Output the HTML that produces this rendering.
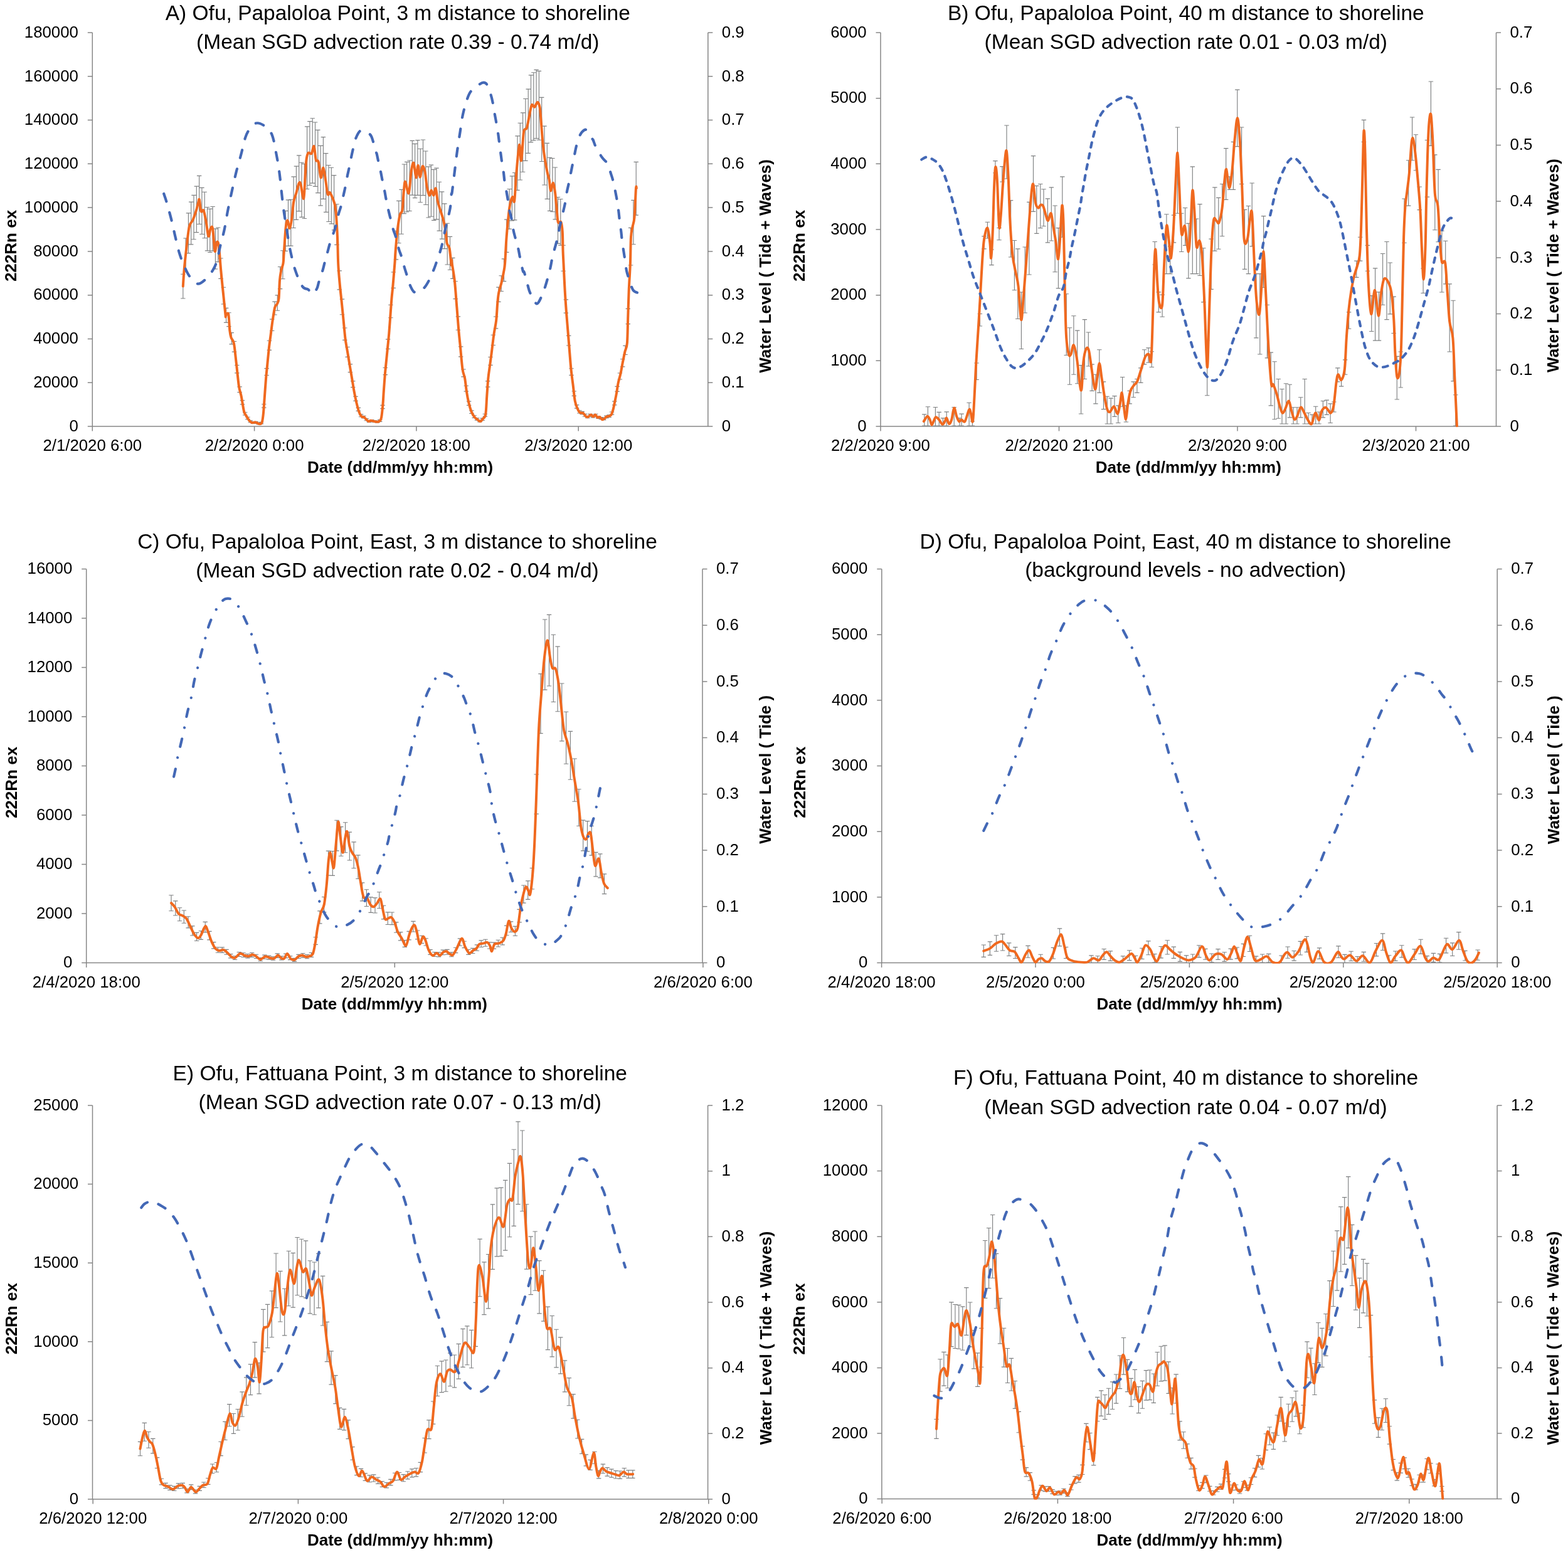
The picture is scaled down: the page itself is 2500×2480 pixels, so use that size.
<!DOCTYPE html><html><head><meta charset="utf-8"><style>html,body{margin:0;padding:0;background:#fff;}svg{display:block;}text{font-family:"Liberation Sans", Arial, sans-serif;fill:#000;}</style></head><body>
<svg xmlns="http://www.w3.org/2000/svg" width="2500" height="2480" viewBox="0 0 2500 2480">
<rect width="2500" height="2480" fill="#fff"/>
<g>
<clipPath id="clipA"><rect x="127.3" y="12.0" width="1021.5" height="669.2"/></clipPath>
<path d="M147.3,52.0V680.0M1128.8,52.0V680.0M147.3,680.0H1128.8M139.8,680.0H147.3M139.8,610.2H147.3M139.8,540.4H147.3M139.8,470.7H147.3M139.8,400.9H147.3M139.8,331.1H147.3M139.8,261.3H147.3M139.8,191.6H147.3M139.8,121.8H147.3M139.8,52.0H147.3M1128.8,680.0H1136.3M1128.8,610.2H1136.3M1128.8,540.4H1136.3M1128.8,470.7H1136.3M1128.8,400.9H1136.3M1128.8,331.1H1136.3M1128.8,261.3H1136.3M1128.8,191.6H1136.3M1128.8,121.8H1136.3M1128.8,52.0H1136.3M147.3,680.0V687.5M405.6,680.0V687.5M663.9,680.0V687.5M922.2,680.0V687.5" stroke="#868686" stroke-width="1.5" fill="none"/>
<g clip-path="url(#clipA)">
<path d="M291.8,437.2V476.0M288.1,437.2H295.5M288.1,476.0H295.5M296.1,380.0V433.7M292.4,380.0H299.8M292.4,433.7H299.8M300.4,339.9V403.8M296.7,339.9H304.1M296.7,403.8H304.1M304.7,322.1V389.8M301.0,322.1H308.4M301.0,389.8H308.4M309.0,311.4V381.7M305.3,311.4H312.7M305.3,381.7H312.7M313.3,297.1V370.6M309.6,297.1H317.0M309.6,370.6H317.0M317.6,280.3V357.5M313.9,280.3H321.3M313.9,357.5H321.3M321.9,299.3V373.5M318.2,299.3H325.6M318.2,373.5H325.6M326.2,306.2V379.7M322.5,306.2H329.9M322.5,379.7H329.9M330.5,330.5V399.8M326.8,330.5H334.2M326.8,399.8H334.2M334.8,333.1V402.5M331.1,333.1H338.5M331.1,402.5H338.5M339.1,329.5V400.1M335.4,329.5H342.8M335.4,400.1H342.8M343.4,364.9V429.0M339.7,364.9H347.1M339.7,429.0H347.1M347.7,363.0V417.6M344.0,363.0H351.4M344.0,417.6H351.4M352.0,412.0V444.3M348.3,412.0H355.7M348.3,444.3H355.7M356.3,458.2V485.0M352.6,458.2H360.0M352.6,485.0H360.0M360.6,491.3V514.3M356.9,491.3H364.3M356.9,514.3H364.3M364.9,498.7V520.6M361.2,498.7H368.6M361.2,520.6H368.6M369.2,530.6V548.9M365.5,530.6H372.9M365.5,548.9H372.9M373.5,544.5V561.1M369.8,544.5H377.2M369.8,561.1H377.2M377.8,582.5V594.9M374.1,582.5H381.5M374.1,594.9H381.5M382.1,616.9V625.6M378.4,616.9H385.8M378.4,625.6H385.8M386.4,638.6V644.9M382.7,638.6H390.1M382.7,644.9H390.1M390.7,657.7V662.0M387.0,657.7H394.4M387.0,662.0H394.4M395.0,665.2V668.6M391.3,665.2H398.7M391.3,668.6H398.7M399.3,670.8V673.7M395.6,670.8H403.0M395.6,673.7H403.0M403.6,672.7V675.3M399.9,672.7H407.3M399.9,675.3H407.3M407.9,672.4V675.1M404.2,672.4H411.6M404.2,675.1H411.6M412.2,674.3V676.7M408.5,674.3H415.9M408.5,676.7H415.9M416.5,673.2V675.8M412.8,673.2H420.2M412.8,675.8H420.2M420.8,644.7V650.1M417.1,644.7H424.5M417.1,650.1H424.5M425.1,587.6V598.5M421.4,587.6H428.8M421.4,598.5H428.8M429.4,543.2V558.4M425.7,543.2H433.1M425.7,558.4H433.1M433.7,509.1V527.5M430.0,509.1H437.4M430.0,527.5H437.4M438.0,481.1V502.0M434.3,481.1H441.7M434.3,502.0H441.7M442.3,470.8V495.2M438.6,470.8H446.0M438.6,495.2H446.0M446.6,425.5V460.6M442.9,425.5H450.3M442.9,460.6H450.3M450.9,399.7V444.7M447.2,399.7H454.6M447.2,444.7H454.6M455.2,336.3V400.3M451.5,336.3H458.9M451.5,400.3H458.9M459.5,318.8V392.3M455.8,318.8H463.2M455.8,392.3H463.2M463.8,318.2V392.1M460.1,318.2H467.5M460.1,392.1H467.5M468.1,281.9V363.5M464.4,281.9H471.8M464.4,363.5H471.8M472.4,265.1V350.3M468.7,265.1H476.1M468.7,350.3H476.1M476.7,247.8V336.9M473.0,247.8H480.4M473.0,336.9H480.4M481.0,259.2V346.4M477.3,259.2H484.7M477.3,346.4H484.7M485.3,261.3V348.5M481.6,261.3H489.0M481.6,348.5H489.0M489.6,201.8V301.5M485.9,201.8H493.3M485.9,301.5H493.3M493.9,193.6V295.5M490.2,193.6H497.6M490.2,295.5H497.6M498.2,188.7V292.1M494.5,188.7H501.9M494.5,292.1H501.9M502.5,195.0V297.4M498.8,195.0H506.2M498.8,297.4H506.2M506.8,207.3V307.6M503.1,207.3H510.5M503.1,307.6H510.5M511.1,232.3V327.8M507.4,232.3H514.8M507.4,327.8H514.8M515.4,218.6V317.4M511.7,218.6H519.1M511.7,317.4H519.1M519.7,244.6V338.3M516.0,244.6H523.4M516.0,338.3H523.4M524.0,263.5V353.5M520.3,263.5H527.7M520.3,353.5H527.7M528.3,267.2V356.8M524.6,267.2H532.0M524.6,356.8H532.0M532.6,279.6V366.9M528.9,279.6H536.3M528.9,366.9H536.3M536.9,325.7V390.3M533.2,325.7H540.6M533.2,390.3H540.6M541.2,431.9V461.8M537.5,431.9H544.9M537.5,461.8H544.9M545.5,477.1V501.7M541.8,477.1H549.2M541.8,501.7H549.2M549.8,523.0V542.3M546.1,523.0H553.5M546.1,542.3H553.5M554.1,553.5V569.3M550.4,553.5H557.8M550.4,569.3H557.8M558.4,580.9V593.6M554.7,580.9H562.1M554.7,593.6H562.1M562.7,607.9V617.6M559.0,607.9H566.4M559.0,617.6H566.4M567.0,632.3V639.3M563.3,632.3H570.7M563.3,639.3H570.7M571.3,650.4V655.4M567.6,650.4H575.0M567.6,655.4H575.0M575.6,660.8V664.7M571.9,660.8H579.3M571.9,664.7H579.3M579.9,663.2V666.9M576.2,663.2H583.6M576.2,666.9H583.6M584.2,667.5V670.7M580.5,667.5H587.9M580.5,670.7H587.9M588.5,670.4V673.3M584.8,670.4H592.2M584.8,673.3H592.2M592.8,669.6V672.6M589.1,669.6H596.5M589.1,672.6H596.5M597.1,670.7V673.5M593.4,670.7H600.8M593.4,673.5H600.8M601.4,671.3V674.0M597.7,671.3H605.1M597.7,674.0H605.1M605.7,669.5V672.4M602.0,669.5H609.4M602.0,672.4H609.4M610.0,646.4V651.6M606.3,646.4H613.7M606.3,651.6H613.7M614.3,586.5V597.6M610.6,586.5H618.0M610.6,597.6H618.0M618.6,541.1V556.5M614.9,541.1H622.3M614.9,556.5H622.3M622.9,486.2V506.7M619.2,486.2H626.6M619.2,506.7H626.6M627.2,434.0V459.4M623.5,434.0H630.9M623.5,459.4H630.9M631.5,368.4V413.8M627.8,368.4H635.2M627.8,413.8H635.2M635.8,320.4V387.7M632.1,320.4H639.5M632.1,387.7H639.5M640.1,302.3V373.2M636.4,302.3H643.8M636.4,373.2H643.8M644.4,262.0V340.6M640.7,262.0H648.1M640.7,340.6H648.1M648.7,258.4V338.0M645.0,258.4H652.4M645.0,338.0H652.4M653.0,256.0V336.5M649.3,256.0H656.7M649.3,336.5H656.7M657.3,224.4V311.1M653.6,224.4H661.0M653.6,311.1H661.0M661.6,229.3V315.6M657.9,229.3H665.3M657.9,315.6H665.3M665.9,223.6V311.3M662.2,223.6H669.6M662.2,311.3H669.6M670.2,237.2V322.7M666.5,237.2H673.9M666.5,322.7H673.9M674.5,223.0V311.6M670.8,223.0H678.2M670.8,311.6H678.2M678.8,241.0V326.5M675.1,241.0H682.5M675.1,326.5H682.5M683.1,265.8V347.0M679.4,265.8H686.8M679.4,347.0H686.8M687.4,263.1V345.2M683.7,263.1H691.1M683.7,345.2H691.1M691.7,270.3V351.3M688.0,270.3H695.4M688.0,351.3H695.4M696.0,268.1V349.9M692.3,268.1H699.7M692.3,349.9H699.7M700.3,290.2V368.1M696.6,290.2H704.0M696.6,368.1H704.0M704.6,305.9V381.1M700.9,305.9H708.3M700.9,381.1H708.3M708.9,324.8V396.6M705.2,324.8H712.6M705.2,396.6H712.6M713.2,356.2V422.0M709.5,356.2H716.9M709.5,422.0H716.9M717.5,377.3V430.2M713.8,377.3H721.2M713.8,430.2H721.2M721.8,411.4V444.4M718.1,411.4H725.5M718.1,444.4H725.5M726.1,448.7V476.6M722.4,448.7H729.8M722.4,476.6H729.8M730.4,504.9V526.2M726.7,504.9H734.1M726.7,526.2H734.1M734.7,552.9V568.8M731.0,552.9H738.4M731.0,568.8H738.4M739.0,589.0V600.8M735.3,589.0H742.7M735.3,600.8H742.7M743.3,615.2V624.1M739.6,615.2H747.0M739.6,624.1H747.0M747.6,640.1V646.3M743.9,640.1H751.3M743.9,646.3H751.3M751.9,654.8V659.4M748.2,654.8H755.6M748.2,659.4H755.6M756.2,662.7V666.4M752.5,662.7H759.9M752.5,666.4H759.9M760.5,666.8V670.1M756.8,666.8H764.2M756.8,670.1H764.2M764.8,670.0V673.0M761.1,670.0H768.5M761.1,673.0H768.5M769.1,667.1V670.3M765.4,667.1H772.8M765.4,670.3H772.8M773.4,660.2V664.1M769.7,660.2H777.1M769.7,664.1H777.1M777.7,607.9V617.1M774.0,607.9H781.4M774.0,617.1H781.4M782.0,569.5V582.4M778.3,569.5H785.7M778.3,582.4H785.7M786.3,534.2V550.5M782.6,534.2H790.0M782.6,550.5H790.0M790.6,505.0V523.9M786.9,505.0H794.3M786.9,523.9H794.3M794.9,458.1V481.4M791.2,458.1H798.6M791.2,481.4H798.6M799.2,439.7V464.5M795.5,439.7H802.9M795.5,464.5H802.9M803.5,412.9V448.6M799.8,412.9H807.2M799.8,448.6H807.2M807.8,350.1V402.3M804.1,350.1H811.5M804.1,402.3H811.5M812.1,301.5V365.1M808.4,301.5H815.8M808.4,365.1H815.8M816.4,280.8V351.8M812.7,280.8H820.1M812.7,351.8H820.1M820.7,275.5V350.9M817.0,275.5H824.4M817.0,350.9H824.4M825.0,216.8V303.4M821.3,216.8H828.7M821.3,303.4H828.7M829.3,196.2V287.0M825.6,196.2H833.0M825.6,287.0H833.0M833.6,179.9V274.2M829.9,179.9H837.3M829.9,274.2H837.3M837.9,157.5V256.4M834.2,157.5H841.6M834.2,256.4H841.6M842.2,142.1V244.4M838.5,142.1H845.9M838.5,244.4H845.9M846.5,119.8V226.8M842.8,119.8H850.2M842.8,226.8H850.2M850.8,115.7V223.9M847.1,115.7H854.5M847.1,223.9H854.5M855.1,111.3V220.9M851.4,111.3H858.8M851.4,220.9H858.8M859.4,113.4V223.2M855.7,113.4H863.1M855.7,223.2H863.1M863.7,155.3V257.5M860.0,155.3H867.4M860.0,257.5H867.4M868.0,201.1V295.0M864.3,201.1H871.7M864.3,295.0H871.7M872.3,228.3V317.4M868.6,228.3H876.0M868.6,317.4H876.0M876.6,251.2V336.3M872.9,251.2H880.3M872.9,336.3H880.3M880.9,252.5V337.7M877.2,252.5H884.6M877.2,337.7H884.6M885.2,267.0V349.8M881.5,267.0H888.9M881.5,349.8H888.9M889.5,314.5V388.3M885.8,314.5H893.2M885.8,388.3H893.2M893.8,317.5V391.1M890.1,317.5H897.5M890.1,391.1H897.5M898.1,391.2V432.2M894.4,391.2H901.8M894.4,432.2H901.8M902.4,477.9V499.1M898.7,477.9H906.1M898.7,499.1H906.1M906.7,535.3V551.0M903.0,535.3H910.4M903.0,551.0H910.4M911.0,587.7V598.4M907.3,587.7H914.7M907.3,598.4H914.7M915.3,624.0V631.3M911.6,624.0H919.0M911.6,631.3H919.0M919.6,645.9V651.1M915.9,645.9H923.3M915.9,651.1H923.3M923.9,654.7V659.0M920.2,654.7H927.6M920.2,659.0H927.6M928.2,656.4V660.6M924.5,656.4H931.9M924.5,660.6H931.9M932.5,660.4V664.2M928.8,660.4H936.2M928.8,664.2H936.2M936.8,663.2V666.7M933.1,663.2H940.5M933.1,666.7H940.5M941.1,660.4V664.2M937.4,660.4H944.8M937.4,664.2H944.8M945.4,662.4V665.9M941.7,662.4H949.1M941.7,665.9H949.1M949.7,660.2V664.0M946.0,660.2H953.4M946.0,664.0H953.4M954.0,663.8V667.3M950.3,663.8H957.7M950.3,667.3H957.7M958.3,665.5V668.7M954.6,665.5H962.0M954.6,668.7H962.0M962.6,666.4V669.6M958.9,666.4H966.3M958.9,669.6H966.3M966.9,663.1V666.6M963.2,663.1H970.6M963.2,666.6H970.6M971.2,661.8V665.5M967.5,661.8H974.9M967.5,665.5H974.9M975.5,657.0V661.1M971.8,657.0H979.2M971.8,661.1H979.2M979.8,640.1V645.8M976.1,640.1H983.5M976.1,645.8H983.5M984.1,616.4V624.3M980.4,616.4H987.8M980.4,624.3H987.8M988.4,595.0V605.0M984.7,595.0H992.1M984.7,605.0H992.1M992.7,572.7V584.8M989.0,572.7H996.4M989.0,584.8H996.4M997.0,551.3V565.5M993.3,551.3H1000.7M993.3,565.5H1000.7M1001.3,492.4V516.6M997.6,492.4H1005.0M997.6,516.6H1005.0M1005.6,363.3V423.0M1001.9,363.3H1009.3M1001.9,423.0H1009.3M1009.9,319.4V389.7M1006.2,319.4H1013.6M1006.2,389.7H1013.6M1014.2,258.3V343.1M1010.5,258.3H1017.9M1010.5,343.1H1017.9" stroke="#7f8182" stroke-width="1.15" fill="none"/>
<path d="M291.8,456.6 C292.1,451.7 292.9,438.4 293.9,427.3 C294.9,416.2 296.6,401.2 297.9,390.1 C299.2,379.0 300.3,367.3 301.9,360.9 C303.4,354.5 305.4,355.5 307.2,351.5 C309.0,347.5 311.0,341.5 312.5,336.9 C314.0,332.2 315.1,326.7 316.0,323.6 C316.9,320.5 317.1,316.1 317.8,318.3 C318.6,320.5 319.4,334.0 320.5,336.9 C321.6,339.8 323.2,332.9 324.5,335.6 C325.8,338.3 327.2,346.0 328.5,352.9 C329.8,359.8 331.2,374.8 332.4,376.8 C333.6,378.8 334.5,366.8 335.6,364.8 C336.7,362.8 337.9,358.8 339.1,364.8 C340.3,370.8 341.5,397.1 342.6,400.7 C343.7,404.2 344.6,387.4 345.7,386.1 C346.8,384.8 347.8,385.0 348.9,392.8 C350.0,400.6 351.1,419.4 352.4,432.7 C353.6,446.0 355.2,460.9 356.4,472.6 C357.6,484.3 359.0,498.0 359.6,503.1 C360.2,508.2 359.2,503.5 360.0,503.1 C360.8,502.8 363.1,497.0 364.2,501.0 C365.2,505.0 365.6,520.8 366.3,527.0 C367.0,533.2 367.4,535.0 368.5,538.3 C369.6,541.6 371.5,541.9 372.7,546.8 C373.9,551.7 374.6,560.2 375.5,567.9 C376.4,575.6 377.4,585.0 378.3,593.2 C379.2,601.4 380.1,610.9 381.1,617.2 C382.2,623.6 383.5,626.1 384.6,631.3 C385.7,636.5 386.7,643.8 387.5,648.2 C388.3,652.7 388.6,655.2 389.6,658.0 C390.7,660.8 392.4,662.9 393.8,665.1 C395.2,667.3 396.6,669.9 398.0,671.4 C399.4,672.9 400.8,673.9 402.3,674.2 C403.8,674.6 405.2,673.1 407.2,673.5 C409.2,673.9 412.4,676.3 414.2,676.3 C415.9,676.3 416.8,676.3 417.7,673.5 C418.6,670.7 419.2,666.4 419.9,659.4 C420.6,652.4 421.3,640.7 422.0,631.3 C422.7,621.9 423.4,611.3 424.1,603.1 C424.8,594.9 425.4,590.2 426.2,582.0 C427.0,573.8 428.1,562.0 429.0,553.8 C429.9,545.6 430.9,539.8 431.8,532.7 C432.7,525.7 433.5,518.5 434.6,511.5 C435.7,504.4 437.0,494.8 438.2,490.4 C439.4,485.9 440.6,487.1 441.7,484.8 C442.8,482.5 443.8,482.4 444.5,476.3 C445.2,470.2 445.3,455.5 445.9,448.2 C446.5,440.9 447.1,437.4 448.0,432.7 C448.9,428.0 450.7,424.9 451.5,420.0 C452.3,415.1 452.0,412.8 452.7,403.5 C453.4,394.2 454.6,372.8 455.5,364.1 C456.4,355.4 457.2,351.4 458.3,351.4 C459.4,351.4 460.8,364.8 462.0,364.1 C463.2,363.4 464.4,354.2 465.4,347.2 C466.4,340.1 467.0,328.4 468.2,321.8 C469.4,315.2 471.0,312.6 472.4,307.7 C473.8,302.8 475.4,294.6 476.6,292.3 C477.8,290.0 478.3,289.9 479.4,293.7 C480.5,297.4 482.2,312.1 483.1,314.8 C484.0,317.5 484.2,319.3 485.0,309.9 C485.8,300.5 487.1,269.1 488.1,258.2 C489.2,247.2 489.9,246.4 491.3,244.2 C492.7,242.0 495.1,246.7 496.7,244.9 C498.2,243.1 499.4,231.5 500.6,233.2 C501.8,234.9 502.6,250.9 503.8,255.1 C505.0,259.3 506.4,253.5 507.7,258.2 C509.0,262.9 510.3,281.7 511.6,283.3 C512.9,284.9 514.2,266.6 515.5,267.6 C516.8,268.6 518.2,282.4 519.4,289.5 C520.6,296.6 521.5,307.0 522.6,309.9 C523.7,312.8 524.4,305.8 525.7,306.8 C527.0,307.9 529.0,312.6 530.4,316.2 C531.8,319.8 533.3,322.7 534.3,328.7 C535.3,334.7 536.0,343.0 536.6,352.1 C537.2,361.2 537.8,372.1 538.2,383.4 C538.6,394.7 538.7,409.2 539.2,420.0 C539.7,430.8 540.3,437.6 541.3,448.2 C542.2,458.8 543.8,472.8 544.9,483.4 C546.0,493.9 546.8,502.1 547.7,511.5 C548.6,520.9 549.5,531.5 550.5,539.7 C551.5,547.9 552.8,553.8 554.0,560.8 C555.2,567.8 556.3,575.0 557.5,582.0 C558.7,589.0 559.9,596.1 561.1,603.1 C562.3,610.1 563.4,617.9 564.6,624.2 C565.8,630.5 566.8,635.7 568.1,641.1 C569.4,646.5 570.9,652.7 572.3,656.6 C573.7,660.5 575.2,663.0 576.5,664.4 C577.8,665.8 578.9,664.4 580.1,665.1 C581.3,665.8 582.3,667.4 583.6,668.6 C584.9,669.8 586.5,671.8 587.8,672.1 C589.1,672.5 589.8,670.7 591.3,670.7 C592.8,670.7 595.1,671.8 597.0,672.1 C598.9,672.5 601.1,673.0 602.6,672.8 C604.1,672.6 605.2,672.0 606.1,670.7 C607.0,669.4 607.5,669.3 608.2,665.1 C608.9,660.9 609.8,652.2 610.4,645.4 C611.0,638.6 611.2,632.4 611.8,624.2 C612.4,616.0 613.2,604.3 613.9,596.1 C614.6,587.9 615.3,582.0 616.0,574.9 C616.7,567.8 617.4,560.8 618.1,553.8 C618.8,546.8 619.5,540.9 620.2,532.7 C620.9,524.5 621.6,513.9 622.3,504.5 C623.0,495.1 623.7,484.5 624.4,476.3 C625.1,468.1 625.7,464.6 626.5,455.2 C627.3,445.8 628.7,428.8 629.4,420.0 C630.1,411.2 629.8,410.9 630.5,402.2 C631.2,393.5 632.4,377.7 633.6,367.8 C634.8,357.9 636.3,348.3 637.6,342.8 C638.9,337.3 640.5,341.2 641.5,334.9 C642.5,328.6 643.0,312.8 643.8,305.2 C644.6,297.6 644.9,289.0 646.2,289.5 C647.5,290.0 650.0,310.9 651.6,308.3 C653.2,305.7 654.3,282.0 655.6,273.9 C656.9,265.8 658.2,258.2 659.5,259.8 C660.8,261.4 662.2,282.7 663.4,283.3 C664.6,283.9 665.5,263.8 666.5,263.7 C667.5,263.6 668.4,282.2 669.6,282.5 C670.8,282.8 672.3,266.7 673.6,265.3 C674.9,263.9 676.3,268.5 677.5,273.9 C678.7,279.2 679.4,291.1 680.6,297.4 C681.8,303.7 683.3,310.5 684.5,311.5 C685.7,312.5 686.4,303.6 687.6,303.6 C688.8,303.6 690.3,312.0 691.5,311.5 C692.7,311.0 693.7,298.9 694.7,300.5 C695.8,302.1 696.5,314.8 697.8,320.8 C699.1,326.8 700.9,331.3 702.5,336.5 C704.1,341.7 705.9,346.9 707.2,352.1 C708.5,357.3 709.4,361.8 710.3,367.8 C711.2,373.8 711.7,383.4 712.7,388.1 C713.8,392.8 715.4,390.2 716.6,396.0 C717.8,401.8 719.1,419.5 719.7,422.6 C720.3,425.7 720.0,415.2 720.1,414.8 C720.2,414.4 719.8,414.4 720.6,420.0 C721.4,425.6 723.6,436.5 724.9,448.2 C726.2,459.9 727.3,477.5 728.4,490.4 C729.5,503.3 730.3,515.0 731.2,525.6 C732.1,536.2 733.0,543.2 734.0,553.8 C735.0,564.4 736.3,580.8 737.5,589.0 C738.7,597.2 740.0,597.2 741.1,603.1 C742.2,609.0 742.9,617.6 743.9,624.2 C744.9,630.8 746.1,637.1 747.4,642.5 C748.7,647.9 750.1,652.8 751.6,656.6 C753.1,660.4 754.9,663.0 756.5,665.1 C758.1,667.2 760.0,668.1 761.5,669.3 C763.0,670.5 764.3,672.3 765.7,672.1 C767.1,671.9 768.5,669.8 769.9,667.9 C771.3,666.0 773.1,666.9 774.2,660.8 C775.3,654.7 775.6,640.9 776.3,631.3 C777.0,621.7 777.6,611.3 778.4,603.1 C779.2,594.9 780.3,589.0 781.2,582.0 C782.1,575.0 783.0,569.0 784.0,560.8 C785.0,552.6 786.3,540.9 787.5,532.7 C788.7,524.5 790.1,519.7 791.1,511.5 C792.1,503.3 792.5,490.9 793.2,483.4 C793.9,475.9 794.2,471.9 795.3,466.5 C796.3,461.1 798.2,456.4 799.5,451.0 C800.8,445.6 802.1,439.3 803.0,434.1 C803.9,428.9 804.3,429.3 805.1,420.0 C805.9,410.7 806.4,393.0 807.6,378.2 C808.8,363.4 810.7,342.0 812.3,331.3 C813.9,320.6 815.7,315.9 817.0,314.1 C818.3,312.3 819.2,326.6 820.2,320.3 C821.2,314.0 822.0,291.4 823.3,276.5 C824.6,261.6 826.7,234.5 828.0,231.1 C829.3,227.7 829.9,259.5 831.1,256.1 C832.3,252.7 833.6,219.4 835.0,210.8 C836.4,202.2 838.4,208.1 839.7,204.5 C841.1,200.9 841.8,195.3 843.1,189.2 C844.4,183.1 846.2,170.8 847.7,167.7 C849.2,164.6 850.8,171.6 852.3,170.8 C853.8,170.0 855.5,163.1 856.9,163.1 C858.3,163.1 859.7,166.3 860.6,170.8 C861.5,175.3 861.6,180.3 862.4,190.0 C863.2,199.7 864.5,218.7 865.5,229.1 C866.5,239.5 867.4,245.0 868.6,252.6 C869.8,260.2 871.4,268.8 872.6,274.5 C873.8,280.2 874.8,282.1 875.7,287.0 C876.6,291.9 877.0,303.4 878.0,304.2 C879.0,305.0 880.8,291.2 882.0,291.7 C883.2,292.2 884.2,300.9 885.1,307.4 C886.0,313.9 886.6,323.0 887.4,330.8 C888.2,338.6 888.6,350.4 889.8,354.3 C891.0,358.2 893.3,351.7 894.5,354.3 C895.7,356.9 896.3,362.2 896.8,370.0 C897.3,377.8 897.3,393.0 897.6,401.3 C897.9,409.6 898.0,409.8 898.5,420.0 C899.0,430.2 899.8,448.2 900.6,462.3 C901.4,476.4 902.4,490.4 903.5,504.5 C904.6,518.6 905.8,532.7 907.0,546.8 C908.2,560.9 909.3,577.3 910.5,589.0 C911.7,600.7 913.0,608.8 914.0,617.2 C915.0,625.7 915.7,634.1 916.8,639.7 C917.9,645.3 919.1,648.0 920.4,651.0 C921.7,654.0 923.1,656.7 924.6,658.0 C926.1,659.3 928.0,657.8 929.5,658.7 C931.0,659.7 932.4,662.6 933.7,663.7 C935.0,664.8 935.9,665.5 937.3,665.1 C938.7,664.7 940.8,661.6 942.2,661.5 C943.6,661.4 944.5,664.4 945.7,664.4 C946.9,664.4 948.0,661.3 949.2,661.5 C950.4,661.7 951.5,665.2 952.7,665.8 C953.9,666.4 955.0,664.5 956.3,665.1 C957.6,665.7 959.2,668.9 960.5,669.3 C961.8,669.6 962.8,668.0 964.0,667.2 C965.2,666.4 966.3,665.0 967.5,664.4 C968.7,663.8 969.9,664.2 971.1,663.7 C972.3,663.2 973.6,663.1 974.6,661.5 C975.6,659.9 976.5,657.2 977.4,653.8 C978.3,650.4 979.3,645.6 980.2,641.1 C981.1,636.6 982.1,632.2 983.0,627.0 C983.9,621.8 984.7,615.2 985.8,610.1 C986.9,605.0 988.2,601.5 989.4,596.1 C990.6,590.7 991.7,583.6 992.9,577.7 C994.1,571.8 995.2,565.9 996.4,560.8 C997.6,555.6 999.1,556.2 999.9,546.8 C1000.7,537.4 1000.8,518.6 1001.3,504.5 C1001.8,490.4 1002.1,476.4 1002.7,462.3 C1003.3,448.2 1004.4,434.1 1004.9,420.0 C1005.4,405.9 1005.4,387.4 1006.0,377.8 C1006.6,368.2 1007.5,367.3 1008.4,362.1 C1009.3,356.9 1010.6,356.7 1011.5,346.5 C1012.4,336.3 1013.4,308.9 1013.9,301.1 C1014.4,293.4 1014.6,300.2 1014.8,300.0" stroke="#F0691F" stroke-width="4.0" fill="none" stroke-linejoin="round" stroke-linecap="round"/>
<path d="M261.2,309.0 C262.0,311.4 263.9,316.3 266.0,323.6 C268.1,330.9 271.7,344.0 273.9,352.9 C276.1,361.8 277.3,368.4 279.3,376.8 C281.3,385.2 283.5,395.4 285.9,403.4 C288.3,411.4 291.0,418.3 293.9,424.7 C296.8,431.1 299.6,437.4 303.2,442.0 C306.8,446.6 311.2,451.9 315.2,452.6 C319.2,453.3 323.1,449.6 327.1,446.0 C331.1,442.4 336.0,436.2 339.1,431.3 C342.2,426.4 343.7,423.1 345.7,416.7 C347.7,410.3 349.1,401.2 351.1,392.8 C353.1,384.4 355.7,375.5 357.7,366.2 C359.7,356.9 361.0,347.1 363.0,336.9 C365.0,326.7 367.5,315.2 369.7,305.0 C371.9,294.8 373.9,285.4 376.3,275.7 C378.7,265.9 381.9,255.8 384.3,246.5 C386.8,237.2 388.8,226.6 391.0,219.9 C393.2,213.2 394.7,210.5 397.6,206.6 C400.5,202.7 404.2,197.5 408.2,196.5 C412.2,195.5 417.3,197.7 421.5,200.7 C425.7,203.7 430.4,207.4 433.5,214.6 C436.6,221.8 438.2,233.6 440.2,243.8 C442.2,254.0 443.6,261.8 445.5,275.7 C447.4,289.6 449.4,312.8 451.3,327.5 C453.2,342.2 455.0,352.4 456.9,364.1 C458.8,375.8 460.1,386.6 462.5,397.9 C464.9,409.2 467.7,421.8 471.0,431.7 C474.3,441.6 478.9,452.0 482.3,457.0 C485.7,462.0 488.6,459.7 491.3,461.7 C494.0,463.7 496.2,469.3 498.5,469.0 C500.8,468.7 503.6,463.4 505.3,460.1 C507.0,456.8 506.9,454.1 508.5,449.2 C510.1,444.2 513.0,436.1 514.7,430.4 C516.4,424.6 517.3,419.6 518.6,414.7 C519.9,409.8 521.3,405.4 522.6,400.7 C523.9,396.0 524.9,391.6 526.5,386.6 C528.1,381.6 530.4,375.6 532.0,370.9 C533.6,366.2 534.6,363.3 535.9,358.4 C537.2,353.4 538.5,346.1 539.8,341.2 C541.1,336.2 542.4,333.6 543.7,328.7 C545.0,323.8 546.4,316.7 547.6,311.5 C548.8,306.3 549.7,302.6 550.7,297.4 C551.8,292.2 552.9,285.4 553.9,280.2 C554.9,275.0 556.0,271.1 557.0,266.1 C558.0,261.1 559.1,255.4 560.1,250.4 C561.1,245.4 561.9,241.5 563.2,236.3 C564.5,231.1 565.8,223.8 567.9,219.1 C570.0,214.4 572.1,209.0 575.8,208.2 C579.5,207.4 586.6,211.3 589.9,214.4 C593.1,217.5 593.6,222.1 595.3,226.9 C597.0,231.7 599.1,240.3 600.0,243.4 C600.9,246.5 600.3,243.5 600.8,245.7 C601.3,247.9 602.1,252.0 603.1,256.7 C604.1,261.4 606.0,268.9 607.0,273.9 C608.0,278.8 608.4,281.2 609.4,286.4 C610.4,291.6 612.3,300.0 613.3,305.2 C614.3,310.4 614.5,312.5 615.6,317.7 C616.7,322.9 618.4,331.3 619.6,336.5 C620.8,341.7 621.5,344.3 622.7,349.0 C623.9,353.7 625.2,359.8 626.6,364.7 C628.0,369.6 629.7,373.2 631.3,378.7 C632.9,384.2 634.6,392.5 636.0,397.5 C637.4,402.5 638.5,403.8 639.9,408.5 C641.3,413.2 643.2,420.8 644.6,425.7 C646.0,430.6 646.9,433.2 648.5,438.2 C650.1,443.1 651.8,450.7 654.0,455.4 C656.2,460.1 658.3,465.6 661.8,466.4 C665.3,467.2 671.6,463.0 675.1,460.1 C678.6,457.2 680.3,453.9 682.9,449.2 C685.5,444.5 688.7,437.0 690.8,432.0 C692.9,427.0 693.8,424.1 695.5,419.4 C697.2,414.7 699.3,408.8 700.9,403.8 C702.5,398.9 703.5,395.7 704.9,389.7 C706.3,383.7 708.3,373.3 709.5,367.8 C710.7,362.3 710.9,361.2 711.9,356.8 C712.9,352.4 714.8,345.9 715.8,341.2 C716.8,336.5 717.6,333.9 718.2,328.7 C718.9,323.5 719.3,313.6 719.7,309.9 C720.1,306.1 720.0,312.0 720.8,306.2 C721.6,300.4 723.4,285.3 724.7,274.9 C726.0,264.5 727.2,254.0 728.6,243.6 C730.0,233.2 731.7,222.5 733.3,212.3 C734.9,202.1 736.0,191.7 738.0,182.6 C740.0,173.5 742.8,163.9 745.0,157.6 C747.2,151.3 748.2,148.8 751.3,145.0 C754.4,141.2 760.5,137.1 763.8,134.9 C767.1,132.7 768.8,131.7 770.9,131.7 C773.0,131.7 774.3,131.6 776.3,134.9 C778.2,138.2 781.0,146.5 782.6,151.3 C784.2,156.1 784.7,158.6 785.7,163.8 C786.8,169.0 788.0,177.4 788.9,182.6 C789.8,187.8 790.3,189.9 791.2,195.1 C792.1,200.3 793.5,208.7 794.3,213.9 C795.1,219.1 795.2,221.5 795.9,226.4 C796.5,231.3 797.5,238.4 798.2,243.6 C798.9,248.8 799.3,252.5 800.1,257.7 C800.9,262.9 802.2,269.7 802.9,274.9 C803.6,280.1 803.7,283.8 804.5,289.0 C805.3,294.2 806.7,301.0 807.6,306.2 C808.5,311.4 809.2,315.3 810.0,320.3 C810.8,325.3 811.4,331.3 812.3,336.0 C813.2,340.7 814.5,343.3 815.5,348.5 C816.5,353.7 817.6,362.1 818.6,367.3 C819.6,372.5 820.4,374.9 821.7,379.8 C823.0,384.8 825.2,392.1 826.4,397.0 C827.6,401.9 827.6,403.6 828.8,409.5 C830.0,415.4 832.6,428.2 833.8,432.3 C835.0,436.4 834.5,430.4 835.8,434.1 C837.0,437.8 839.7,449.0 841.3,454.5 C842.9,460.0 842.9,462.1 845.2,467.0 C847.5,471.9 852.3,483.1 855.3,484.2 C858.3,485.2 861.0,477.5 863.2,473.3 C865.4,469.1 866.9,464.2 868.6,459.2 C870.3,454.2 871.8,448.7 873.3,443.5 C874.8,438.3 876.1,433.1 877.3,427.9 C878.5,422.7 879.2,417.4 880.4,412.2 C881.6,407.0 883.0,401.6 884.3,396.6 C885.6,391.7 887.0,387.5 888.2,382.5 C889.4,377.5 890.2,371.8 891.3,366.8 C892.3,361.9 893.3,358.0 894.5,352.8 C895.7,347.6 897.2,340.7 898.4,335.5 C899.6,330.3 900.6,326.4 901.5,321.5 C902.4,316.6 903.0,310.8 903.9,305.8 C904.8,300.8 906.0,296.6 907.0,291.7 C908.0,286.8 909.1,281.3 910.1,276.1 C911.1,270.9 912.2,265.6 913.2,260.4 C914.2,255.2 915.4,249.8 916.4,244.8 C917.4,239.9 918.1,235.7 919.5,230.7 C920.9,225.7 922.9,218.9 925.0,215.0 C927.1,211.1 930.2,208.2 932.0,207.2 C933.8,206.2 933.7,206.2 935.9,208.8 C938.1,211.4 943.6,220.4 945.3,222.9 C946.9,225.4 944.9,221.5 945.8,223.6 C946.7,225.7 948.1,230.8 950.5,235.4 C952.9,240.0 956.9,246.7 959.9,251.0 C962.9,255.3 966.0,256.5 968.5,261.2 C971.0,265.9 973.1,274.4 974.7,279.2 C976.3,284.0 976.7,285.2 977.9,290.2 C979.1,295.1 980.8,303.7 981.8,308.9 C982.8,314.1 983.3,316.5 984.1,321.5 C984.9,326.5 985.9,333.5 986.5,338.7 C987.1,343.9 987.4,347.6 988.0,352.8 C988.6,358.0 989.8,364.8 990.4,370.0 C991.0,375.2 991.2,379.0 991.9,384.1 C992.5,389.2 993.5,395.3 994.3,400.5 C995.1,405.7 995.8,410.2 996.6,415.4 C997.4,420.6 998.0,426.9 999.0,431.8 C1000.0,436.8 1001.2,440.0 1002.9,445.1 C1004.6,450.2 1006.9,458.7 1009.2,462.3 C1011.6,465.9 1015.0,466.2 1017.0,467.0 C1019.0,467.8 1020.2,467.0 1020.9,467.0 C1021.6,467.0 1021.0,466.8 1021.0,466.8" stroke="#4368B6" stroke-width="4.2" fill="none" stroke-dasharray="13.1,18.1" stroke-linecap="round"/>
</g>
<text x="124.9" y="687.7" text-anchor="end" font-size="25.8">0</text>
<text x="124.9" y="617.9" text-anchor="end" font-size="25.8">20000</text>
<text x="124.9" y="548.1" text-anchor="end" font-size="25.8">40000</text>
<text x="124.9" y="478.4" text-anchor="end" font-size="25.8">60000</text>
<text x="124.9" y="408.6" text-anchor="end" font-size="25.8">80000</text>
<text x="124.9" y="338.8" text-anchor="end" font-size="25.8">100000</text>
<text x="124.9" y="269.0" text-anchor="end" font-size="25.8">120000</text>
<text x="124.9" y="199.3" text-anchor="end" font-size="25.8">140000</text>
<text x="124.9" y="129.5" text-anchor="end" font-size="25.8">160000</text>
<text x="124.9" y="59.7" text-anchor="end" font-size="25.8">180000</text>
<text x="1150.8" y="687.7" font-size="25.8">0</text>
<text x="1150.8" y="617.9" font-size="25.8">0.1</text>
<text x="1150.8" y="548.1" font-size="25.8">0.2</text>
<text x="1150.8" y="478.4" font-size="25.8">0.3</text>
<text x="1150.8" y="408.6" font-size="25.8">0.4</text>
<text x="1150.8" y="338.8" font-size="25.8">0.5</text>
<text x="1150.8" y="269.0" font-size="25.8">0.6</text>
<text x="1150.8" y="199.3" font-size="25.8">0.7</text>
<text x="1150.8" y="129.5" font-size="25.8">0.8</text>
<text x="1150.8" y="59.7" font-size="25.8">0.9</text>
<text x="147.3" y="719.0" text-anchor="middle" font-size="25.8">2/1/2020 6:00</text>
<text x="405.6" y="719.0" text-anchor="middle" font-size="25.8">2/2/2020 0:00</text>
<text x="663.9" y="719.0" text-anchor="middle" font-size="25.8">2/2/2020 18:00</text>
<text x="922.2" y="719.0" text-anchor="middle" font-size="25.8">2/3/2020 12:00</text>
<text x="638.0" y="754.3" text-anchor="middle" font-size="26" font-weight="bold">Date (dd/mm/yy hh:mm)</text>
<text x="634.3" y="32.1" text-anchor="middle" font-size="33.5">A) Ofu, Papaloloa Point, 3 m distance to shoreline</text>
<text x="634.3" y="78.3" text-anchor="middle" font-size="33.5">(Mean SGD advection rate 0.39 - 0.74 m/d)</text>
<text transform="translate(17.3,392.0) rotate(-90)" x="0" y="0" text-anchor="middle" dominant-baseline="central" font-size="26" font-weight="bold">222Rn ex</text>
<text transform="translate(1220.1,424.4) rotate(-90)" x="0" y="0" text-anchor="middle" dominant-baseline="central" font-size="26" font-weight="bold">Water Level ( Tide + Waves)</text>
</g>
<g>
<clipPath id="clipB"><rect x="1384.0" y="12.0" width="1021.5" height="669.2"/></clipPath>
<path d="M1404.0,52.0V680.0M2385.5,52.0V680.0M1404.0,680.0H2385.5M1396.5,680.0H1404.0M1396.5,575.3H1404.0M1396.5,470.7H1404.0M1396.5,366.0H1404.0M1396.5,261.3H1404.0M1396.5,156.7H1404.0M1396.5,52.0H1404.0M2385.5,680.0H2393.0M2385.5,590.3H2393.0M2385.5,500.6H2393.0M2385.5,410.9H2393.0M2385.5,321.1H2393.0M2385.5,231.4H2393.0M2385.5,141.7H2393.0M2385.5,52.0H2393.0M1404.0,680.0V687.5M1688.5,680.0V687.5M1973.0,680.0V687.5M2257.5,680.0V687.5" stroke="#868686" stroke-width="1.5" fill="none"/>
<g clip-path="url(#clipB)">
<path d="M1473.8,660.9V679.0M1470.1,660.9H1477.5M1470.1,679.0H1477.5M1479.4,648.7V679.0M1475.7,648.7H1483.1M1475.7,679.0H1483.1M1491.4,649.5V679.0M1487.7,649.5H1495.1M1487.7,679.0H1495.1M1497.2,657.4V679.0M1493.5,657.4H1500.9M1493.5,679.0H1500.9M1503.4,666.8V679.0M1499.7,666.8H1507.1M1499.7,679.0H1507.1M1509.2,656.9V679.0M1505.5,656.9H1512.9M1505.5,679.0H1512.9M1521.2,649.5V679.0M1517.5,649.5H1524.9M1517.5,679.0H1524.9M1530.0,666.8V679.0M1526.3,666.8H1533.7M1526.3,679.0H1533.7M1533.1,660.1V679.0M1529.4,660.1H1536.8M1529.4,679.0H1536.8M1545.1,642.2V679.0M1541.4,642.2H1548.8M1541.4,679.0H1548.8M1550.4,672.0V679.0M1546.7,672.0H1554.1M1546.7,679.0H1554.1M1557.1,579.0V605.5M1553.4,579.0H1560.8M1553.4,605.5H1560.8M1562.4,500.5V520.0M1558.7,500.5H1566.1M1558.7,520.0H1566.1M1569.0,376.8V396.8M1565.3,376.8H1572.7M1565.3,396.8H1572.7M1574.4,354.2V380.0M1570.7,354.2H1578.1M1570.7,380.0H1578.1M1581.0,398.0V422.6M1577.3,398.0H1584.7M1577.3,422.6H1584.7M1586.9,256.6V275.7M1583.2,256.6H1590.6M1583.2,275.7H1590.6M1593.0,363.5V382.7M1589.3,363.5H1596.7M1589.3,382.7H1596.7M1597.8,265.6V290.0M1594.1,265.6H1601.5M1594.1,290.0H1601.5M1605.0,200.0V285.0M1601.3,200.0H1608.7M1601.3,285.0H1608.7M1611.6,319.6V410.0M1607.9,319.6H1615.3M1607.9,410.0H1615.3M1617.4,383.5V462.7M1613.7,383.5H1621.1M1613.7,462.7H1621.1M1622.8,396.8V508.5M1619.1,396.8H1626.5M1619.1,508.5H1626.5M1628.4,466.0V556.5M1624.7,466.0H1632.1M1624.7,556.5H1632.1M1634.2,394.0V499.0M1630.5,394.0H1637.9M1630.5,499.0H1637.9M1640.9,322.3V438.0M1637.2,322.3H1644.6M1637.2,438.0H1644.6M1647.5,248.6V337.4M1643.8,248.6H1651.2M1643.8,337.4H1651.2M1652.8,296.4V372.3M1649.1,296.4H1656.5M1649.1,372.3H1656.5M1658.8,293.5V363.6M1655.1,293.5H1662.5M1655.1,363.6H1662.5M1664.0,301.7V360.7M1660.3,301.7H1667.7M1660.3,360.7H1667.7M1670.4,316.9V386.9M1666.7,316.9H1674.1M1666.7,386.9H1674.1M1676.3,298.8V384.0M1672.6,298.8H1680.0M1672.6,384.0H1680.0M1682.1,328.0V433.7M1678.4,328.0H1685.8M1678.4,433.7H1685.8M1687.4,363.6V459.9M1683.7,363.6H1691.1M1683.7,459.9H1691.1M1693.8,281.8V378.2M1690.1,281.8H1697.5M1690.1,378.2H1697.5M1700.2,468.7V566.5M1696.5,468.7H1703.9M1696.5,566.5H1703.9M1705.5,522.7V613.2M1701.8,522.7H1709.2M1701.8,613.2H1709.2M1711.9,503.7V597.2M1708.2,503.7H1715.6M1708.2,597.2H1715.6M1717.7,527.1V611.7M1714.0,527.1H1721.4M1714.0,611.7H1721.4M1723.6,582.6V660.0M1719.9,582.6H1727.3M1719.9,660.0H1727.3M1729.4,509.6V604.5M1725.7,509.6H1733.1M1725.7,604.5H1733.1M1735.3,530.0V584.0M1731.6,530.0H1739.0M1731.6,584.0H1739.0M1741.1,581.1V623.4M1737.4,581.1H1744.8M1737.4,623.4H1744.8M1746.9,597.2V643.9M1743.2,597.2H1750.6M1743.2,643.9H1750.6M1752.8,557.7V626.4M1749.1,557.7H1756.5M1749.1,626.4H1756.5M1759.5,608.8V652.6M1755.8,608.8H1763.2M1755.8,652.6H1763.2M1765.3,632.2V676.0M1761.6,632.2H1769.0M1761.6,676.0H1769.0M1771.2,635.1V676.0M1767.5,635.1H1774.9M1767.5,676.0H1774.9M1777.0,631.6V664.3M1773.3,631.6H1780.7M1773.3,664.3H1780.7M1782.8,646.8V674.5M1779.1,646.8H1786.5M1779.1,674.5H1786.5M1789.6,601.5V648.2M1785.9,601.5H1793.3M1785.9,648.2H1793.3M1795.4,646.8V673.0M1791.7,646.8H1799.1M1791.7,673.0H1799.1M1801.2,623.4V643.9M1797.5,623.4H1804.9M1797.5,643.9H1804.9M1807.1,608.8V633.7M1803.4,608.8H1810.8M1803.4,633.7H1810.8M1812.9,604.5V626.4M1809.2,604.5H1816.6M1809.2,626.4H1816.6M1818.8,586.9V610.3M1815.1,586.9H1822.5M1815.1,610.3H1822.5M1824.6,557.7V581.1M1820.9,557.7H1828.3M1820.9,581.1H1828.3M1831.0,554.8V578.2M1827.3,554.8H1834.7M1827.3,578.2H1834.7M1836.3,560.7V585.5M1832.6,560.7H1840.0M1832.6,585.5H1840.0M1841.2,385.5V422.0M1837.5,385.5H1844.9M1837.5,422.0H1844.9M1847.3,465.8V497.9M1843.6,465.8H1851.0M1843.6,497.9H1851.0M1853.1,470.1V505.2M1849.4,470.1H1856.8M1849.4,505.2H1856.8M1859.9,341.7V436.6M1856.2,341.7H1863.6M1856.2,436.6H1863.6M1865.7,392.8V436.6M1862.0,392.8H1869.4M1862.0,436.6H1869.4M1871.5,343.1V386.9M1867.8,343.1H1875.2M1867.8,386.9H1875.2M1877.4,203.0V340.2M1873.7,203.0H1881.1M1873.7,340.2H1881.1M1883.8,340.2V401.5M1880.1,340.2H1887.5M1880.1,401.5H1887.5M1889.6,331.5V391.3M1885.9,331.5H1893.3M1885.9,391.3H1893.3M1894.9,356.3V443.9M1891.2,356.3H1898.6M1891.2,443.9H1898.6M1901.3,265.8V436.6M1897.6,265.8H1905.0M1897.6,436.6H1905.0M1907.7,349.0V436.6M1904.0,349.0H1911.4M1904.0,436.6H1911.4M1913.0,325.6V439.5M1909.3,325.6H1916.7M1909.3,439.5H1916.7M1918.8,395.7V481.8M1915.1,395.7H1922.5M1915.1,481.8H1922.5M1924.7,543.1V630.7M1921.0,543.1H1928.4M1921.0,630.7H1928.4M1931.1,381.1V461.4M1927.4,381.1H1934.8M1927.4,461.4H1934.8M1936.9,298.8V400.1M1933.2,298.8H1940.6M1933.2,400.1H1940.6M1942.8,315.4V397.2M1939.1,315.4H1946.5M1939.1,397.2H1946.5M1948.6,293.5V376.7M1944.9,293.5H1952.3M1944.9,376.7H1952.3M1954.7,236.6V318.3M1951.0,236.6H1958.4M1951.0,318.3H1958.4M1960.6,281.8V302.3M1956.9,281.8H1964.3M1956.9,302.3H1964.3M1966.4,226.4V302.3M1962.7,226.4H1970.1M1962.7,302.3H1970.1M1972.8,143.1V233.6M1969.1,143.1H1976.5M1969.1,233.6H1976.5M1979.6,203.0V293.5M1975.9,203.0H1983.3M1975.9,293.5H1983.3M1984.5,334.4V429.3M1980.8,334.4H1988.2M1980.8,429.3H1988.2M1990.4,328.5V436.6M1986.7,328.5H1994.1M1986.7,436.6H1994.1M1996.2,292.0V392.8M1992.5,292.0H1999.9M1992.5,392.8H1999.9M2002.9,436.6V538.8M1999.2,436.6H2006.6M1999.2,538.8H2006.6M2008.8,436.6V565.0M2005.1,436.6H2012.5M2005.1,565.0H2012.5M2014.6,344.6V458.5M2010.9,344.6H2018.3M2010.9,458.5H2018.3M2020.4,486.2V570.9M2016.7,486.2H2024.1M2016.7,570.9H2024.1M2026.3,562.1V646.8M2022.6,562.1H2030.0M2022.6,646.8H2030.0M2032.1,576.7V668.7M2028.4,576.7H2035.8M2028.4,668.7H2035.8M2038.2,604.5V667.2M2034.5,604.5H2041.9M2034.5,667.2H2041.9M2044.0,620.5V676.0M2040.3,620.5H2047.7M2040.3,676.0H2047.7M2050.4,611.7V676.0M2046.7,611.7H2054.1M2046.7,676.0H2054.1M2056.3,613.2V665.8M2052.6,613.2H2060.0M2052.6,665.8H2060.0M2062.1,649.7V676.0M2058.4,649.7H2065.8M2058.4,676.0H2065.8M2068.0,649.7V676.0M2064.3,649.7H2071.7M2064.3,676.0H2071.7M2073.8,633.7V665.8M2070.1,633.7H2077.5M2070.1,665.8H2077.5M2080.2,604.5V676.0M2076.5,604.5H2083.9M2076.5,676.0H2083.9M2086.1,658.5V676.0M2082.4,658.5H2089.8M2082.4,676.0H2089.8M2091.9,661.4V676.0M2088.2,661.4H2095.6M2088.2,676.0H2095.6M2097.7,648.2V676.0M2094.0,648.2H2101.4M2094.0,676.0H2101.4M2103.0,657.0V676.0M2099.3,657.0H2106.7M2099.3,676.0H2106.7M2109.4,639.5V665.8M2105.7,639.5H2113.1M2105.7,665.8H2113.1M2115.3,638.1V661.4M2111.6,638.1H2119.0M2111.6,661.4H2119.0M2121.1,643.9V674.5M2117.4,643.9H2124.8M2117.4,674.5H2124.8M2126.9,641.0V657.0M2123.2,641.0H2130.6M2123.2,657.0H2130.6M2132.8,586.9V608.8M2129.1,586.9H2136.5M2129.1,608.8H2136.5M2138.6,603.0V616.1M2134.9,603.0H2142.3M2134.9,616.1H2142.3M2144.7,573.8V597.2M2141.0,573.8H2148.4M2141.0,597.2H2148.4M2150.6,497.9V524.2M2146.9,497.9H2154.3M2146.9,524.2H2154.3M2156.4,442.4V465.8M2152.7,442.4H2160.1M2152.7,465.8H2160.1M2162.8,416.1V442.4M2159.1,416.1H2166.5M2159.1,442.4H2166.5M2168.7,378.2V416.1M2165.0,378.2H2172.4M2165.0,416.1H2172.4M2174.5,191.3V226.4M2170.8,191.3H2178.2M2170.8,226.4H2178.2M2180.4,391.3V432.2M2176.7,391.3H2184.1M2176.7,432.2H2184.1M2186.8,471.6V528.5M2183.1,471.6H2190.5M2183.1,528.5H2190.5M2192.6,427.8V543.1M2188.9,427.8H2196.3M2188.9,543.1H2196.3M2198.5,465.8V543.1M2194.8,465.8H2202.2M2194.8,543.1H2202.2M2204.6,404.5V486.2M2200.9,404.5H2208.3M2200.9,486.2H2208.3M2211.0,385.5V509.6M2207.3,385.5H2214.7M2207.3,509.6H2214.7M2216.3,419.0V500.8M2212.6,419.0H2220.0M2212.6,500.8H2220.0M2222.1,473.1V531.5M2218.4,473.1H2225.8M2218.4,531.5H2225.8M2227.3,568.3V637.0M2223.6,568.3H2231.0M2223.6,637.0H2231.0M2233.2,561.0V618.0M2229.5,561.0H2236.9M2229.5,618.0H2236.9M2239.0,317.0V387.2M2235.3,317.0H2242.7M2235.3,387.2H2242.7M2245.7,255.7V328.1M2242.0,255.7H2249.4M2242.0,328.1H2249.4M2251.6,187.0V255.7M2247.9,187.0H2255.3M2247.9,255.7H2255.3M2257.4,214.7V271.7M2253.7,214.7H2261.1M2253.7,271.7H2261.1M2263.2,298.0V334.6M2259.5,298.0H2266.9M2259.5,334.6H2266.9M2269.1,428.1V467.5M2265.4,428.1H2272.8M2265.4,467.5H2272.8M2275.5,223.5V314.1M2271.8,223.5H2279.2M2271.8,314.1H2279.2M2281.4,130.0V232.3M2277.7,130.0H2285.1M2277.7,232.3H2285.1M2287.8,246.9V366.7M2284.1,246.9H2291.5M2284.1,366.7H2291.5M2293.1,270.3V385.7M2289.4,270.3H2296.8M2289.4,385.7H2296.8M2298.9,368.2V466.0M2295.2,368.2H2302.6M2295.2,466.0H2302.6M2304.7,384.2V452.9M2301.0,384.2H2308.4M2301.0,452.9H2308.4M2311.2,452.9V561.0M2307.5,452.9H2314.9M2307.5,561.0H2314.9M2317.0,479.2V607.8M2313.3,479.2H2320.7M2313.3,607.8H2320.7M2320.8,629.7V679.0M2317.1,629.7H2324.5M2317.1,679.0H2324.5" stroke="#7f8182" stroke-width="1.15" fill="none"/>
<path d="M1472.8,672.0 C1473.8,670.7 1477.0,664.4 1478.6,664.0 C1480.2,663.6 1481.5,667.2 1482.6,669.4 C1483.7,671.6 1484.4,676.6 1485.3,677.3 C1486.2,678.0 1486.8,675.4 1487.9,673.4 C1489.0,671.4 1490.4,666.1 1491.9,665.4 C1493.5,664.7 1495.4,667.5 1497.2,669.4 C1499.0,671.3 1501.0,676.4 1502.6,676.8 C1504.1,677.2 1505.4,673.7 1506.5,672.0 C1507.6,670.3 1508.1,666.0 1509.2,666.7 C1510.3,667.4 1511.9,675.5 1513.2,676.0 C1514.5,676.5 1515.9,673.6 1517.2,669.4 C1518.5,665.2 1519.9,651.6 1521.2,650.7 C1522.5,649.8 1523.9,660.5 1525.2,664.0 C1526.5,667.5 1527.8,671.1 1529.1,672.0 C1530.4,672.9 1531.5,669.4 1533.1,669.4 C1534.7,669.4 1536.5,674.7 1538.5,672.0 C1540.5,669.3 1543.5,655.6 1545.1,653.4 C1546.6,651.2 1546.8,655.6 1547.8,658.7 C1548.8,661.8 1550.0,676.4 1551.0,672.0 C1552.0,667.6 1552.7,647.6 1553.6,632.1 C1554.5,616.6 1555.3,596.6 1556.3,578.9 C1557.3,561.2 1558.6,543.4 1559.7,525.7 C1560.8,508.0 1561.9,490.3 1562.9,472.6 C1563.9,454.9 1564.9,434.5 1565.9,419.4 C1566.9,404.3 1567.6,391.4 1569.0,382.1 C1570.4,372.8 1572.8,362.6 1574.4,363.5 C1576.0,364.4 1577.4,379.4 1578.4,387.4 C1579.4,395.4 1579.5,414.9 1580.2,411.4 C1581.0,407.9 1582.1,384.8 1582.9,366.2 C1583.7,347.6 1584.3,316.3 1585.0,299.7 C1585.7,283.1 1586.3,268.6 1587.1,266.4 C1587.9,264.2 1588.8,270.6 1589.8,286.4 C1590.8,302.1 1592.0,351.1 1593.0,360.9 C1594.0,370.6 1594.6,355.5 1595.6,344.9 C1596.6,334.2 1597.7,312.1 1598.8,297.0 C1599.9,281.9 1601.3,263.8 1602.3,254.5 C1603.3,245.2 1604.0,236.8 1604.9,241.2 C1605.8,245.6 1606.7,262.9 1607.6,281.1 C1608.5,299.3 1609.2,329.4 1610.3,350.2 C1611.4,371.0 1612.8,391.9 1614.3,406.1 C1615.8,420.3 1618.0,426.9 1619.6,435.3 C1621.1,443.7 1622.2,444.2 1623.6,456.6 C1625.0,469.0 1626.8,506.2 1628.1,509.8 C1629.4,513.4 1630.3,491.6 1631.5,477.9 C1632.7,464.1 1633.9,448.1 1635.5,427.3 C1637.1,406.5 1639.4,373.3 1640.9,352.9 C1642.5,332.5 1643.7,314.8 1644.8,305.0 C1645.9,295.2 1646.5,291.3 1647.5,294.4 C1648.5,297.5 1649.7,317.4 1651.0,323.6 C1652.3,329.8 1654.2,331.0 1655.5,331.6 C1656.8,332.2 1657.7,327.5 1659.0,327.0 C1660.3,326.5 1661.7,325.8 1663.1,328.5 C1664.5,331.2 1666.2,339.2 1667.5,343.1 C1668.8,347.0 1669.6,352.4 1671.0,351.9 C1672.4,351.4 1674.3,338.7 1675.7,340.2 C1677.1,341.7 1677.9,352.9 1679.2,360.7 C1680.5,368.5 1682.3,378.1 1683.6,386.9 C1684.9,395.6 1686.0,414.6 1687.1,413.2 C1688.2,411.8 1689.3,392.3 1690.3,378.2 C1691.3,364.1 1692.4,333.4 1693.2,328.5 C1694.0,323.6 1694.7,335.9 1695.3,349.0 C1695.9,362.1 1696.2,385.5 1696.7,407.4 C1697.2,429.3 1697.6,458.5 1698.2,480.4 C1698.8,502.3 1699.2,524.7 1700.2,538.8 C1701.2,552.9 1702.8,560.6 1704.0,565.0 C1705.2,569.4 1706.2,567.4 1707.5,565.0 C1708.8,562.6 1710.3,548.9 1711.9,550.4 C1713.5,551.9 1715.6,563.6 1717.2,573.8 C1718.8,584.0 1720.3,603.9 1721.5,611.7 C1722.7,619.5 1723.5,626.3 1724.5,620.5 C1725.5,614.7 1726.2,587.4 1727.4,576.7 C1728.6,566.0 1730.3,559.2 1731.8,556.3 C1733.2,553.4 1734.6,553.9 1736.1,559.2 C1737.5,564.6 1738.9,578.2 1740.5,588.4 C1742.1,598.6 1744.3,618.1 1745.8,620.5 C1747.3,622.9 1748.1,609.8 1749.3,603.0 C1750.5,596.2 1751.6,579.6 1752.8,579.6 C1754.0,579.6 1755.2,594.2 1756.6,603.0 C1758.0,611.8 1759.5,623.9 1761.0,632.2 C1762.5,640.5 1763.8,648.5 1765.3,652.6 C1766.8,656.7 1767.9,657.7 1769.7,657.0 C1771.5,656.3 1774.0,647.7 1776.1,648.2 C1778.1,648.7 1780.4,660.6 1782.0,659.9 C1783.6,659.2 1784.7,649.5 1785.8,643.9 C1786.9,638.3 1787.7,625.9 1788.7,626.4 C1789.7,626.9 1790.5,639.8 1791.6,646.8 C1792.7,653.8 1794.0,669.2 1795.1,668.7 C1796.2,668.2 1797.1,651.5 1798.3,643.9 C1799.5,636.3 1800.8,628.3 1802.4,623.4 C1804.0,618.5 1806.0,617.1 1807.7,614.7 C1809.5,612.3 1811.2,612.2 1812.9,608.8 C1814.6,605.4 1816.3,599.1 1817.9,594.2 C1819.5,589.3 1820.8,584.0 1822.3,579.6 C1823.8,575.2 1825.0,570.4 1826.6,568.0 C1828.1,565.6 1830.1,564.0 1831.6,565.0 C1833.1,566.0 1834.3,585.5 1835.4,573.8 C1836.5,562.1 1837.5,520.3 1838.3,495.0 C1839.1,469.7 1839.7,438.1 1840.4,422.0 C1841.1,405.9 1841.7,393.7 1842.5,398.6 C1843.3,403.5 1844.3,437.1 1845.3,451.2 C1846.2,465.3 1846.9,477.5 1848.2,483.3 C1849.5,489.1 1851.8,496.4 1853.1,486.2 C1854.4,476.0 1855.0,442.9 1856.1,422.0 C1857.2,401.1 1858.7,367.5 1859.9,360.7 C1861.1,353.9 1862.2,372.6 1863.4,381.1 C1864.6,389.6 1865.7,413.8 1866.9,411.8 C1868.1,409.9 1869.4,389.6 1870.7,369.4 C1872.0,349.2 1873.4,311.5 1874.5,290.6 C1875.6,269.7 1876.4,242.5 1877.4,243.9 C1878.4,245.3 1879.2,277.9 1880.3,299.3 C1881.4,320.7 1882.3,362.1 1883.8,372.3 C1885.3,382.5 1887.2,355.8 1889.1,360.7 C1890.9,365.6 1893.4,402.0 1894.9,401.5 C1896.5,401.0 1897.3,374.0 1898.4,357.7 C1899.5,341.4 1900.3,307.6 1901.3,303.7 C1902.3,299.8 1903.1,319.5 1904.2,334.4 C1905.3,349.2 1906.3,384.5 1907.7,392.8 C1909.1,401.1 1910.9,381.6 1912.4,384.0 C1913.9,386.4 1915.2,391.3 1916.5,407.4 C1917.8,423.5 1918.9,450.7 1920.3,480.4 C1921.7,510.1 1923.5,580.6 1924.7,585.5 C1925.9,590.4 1926.5,539.3 1927.6,509.6 C1928.7,479.9 1929.9,433.7 1931.1,407.4 C1932.3,381.1 1933.5,361.1 1934.9,351.9 C1936.3,342.6 1937.8,351.4 1939.3,351.9 C1940.8,352.4 1942.0,358.2 1943.6,354.8 C1945.1,351.4 1947.1,342.7 1948.6,331.5 C1950.1,320.3 1951.3,297.9 1952.4,287.7 C1953.5,277.5 1954.1,268.2 1955.3,270.1 C1956.5,272.0 1958.2,298.3 1959.7,299.3 C1961.2,300.3 1962.6,288.6 1964.1,276.0 C1965.6,263.4 1967.0,238.0 1968.5,223.4 C1970.0,208.8 1971.5,188.9 1972.8,188.4 C1974.1,187.9 1975.4,203.0 1976.6,220.5 C1977.8,238.0 1978.9,266.7 1980.1,293.5 C1981.3,320.3 1982.1,366.5 1983.6,381.1 C1985.1,395.7 1987.4,386.0 1988.9,381.1 C1990.4,376.2 1991.5,358.7 1992.7,351.9 C1993.9,345.1 1995.0,328.5 1996.2,340.2 C1997.4,351.9 1998.8,398.6 2000.0,422.0 C2001.2,445.4 2002.2,467.3 2003.5,480.4 C2004.8,493.5 2006.5,505.7 2007.9,500.8 C2009.3,495.9 2010.6,467.8 2011.7,451.2 C2012.8,434.6 2013.5,399.1 2014.6,401.5 C2015.7,403.9 2016.8,440.5 2018.1,465.8 C2019.4,491.1 2021.0,529.1 2022.5,553.4 C2024.0,577.7 2025.7,601.7 2026.9,611.7 C2028.2,621.7 2028.5,610.3 2030.0,613.2 C2031.5,616.1 2034.1,623.7 2035.8,629.3 C2037.5,634.9 2038.7,641.9 2040.2,646.8 C2041.7,651.7 2043.1,657.5 2044.6,658.5 C2046.1,659.5 2047.3,655.8 2049.0,652.6 C2050.7,649.4 2053.1,639.0 2054.8,639.5 C2056.5,640.0 2057.7,650.6 2059.2,655.5 C2060.7,660.4 2062.1,667.2 2063.6,668.7 C2065.1,670.2 2066.3,667.5 2068.0,664.3 C2069.7,661.1 2071.9,650.7 2073.8,649.7 C2075.7,648.7 2077.7,655.1 2079.6,658.5 C2081.5,661.9 2083.6,667.2 2085.5,670.1 C2087.4,673.0 2089.4,677.9 2091.3,676.0 C2093.2,674.1 2095.2,659.5 2097.2,658.5 C2099.1,657.5 2101.3,670.6 2103.0,670.1 C2104.7,669.6 2105.7,658.9 2107.4,655.5 C2109.1,652.1 2111.5,649.9 2113.2,649.7 C2114.9,649.5 2116.1,652.6 2117.6,654.1 C2119.1,655.6 2120.5,659.7 2122.0,658.5 C2123.5,657.3 2125.0,655.1 2126.4,646.8 C2127.8,638.5 2129.5,617.1 2130.7,608.8 C2131.9,600.5 2132.3,597.7 2133.6,597.2 C2134.9,596.7 2136.9,607.4 2138.6,605.9 C2140.3,604.4 2142.5,599.6 2143.9,588.4 C2145.3,577.2 2145.7,554.4 2146.8,538.8 C2147.9,523.2 2149.1,507.2 2150.3,495.0 C2151.5,482.8 2152.7,474.6 2154.1,465.8 C2155.5,457.0 2156.9,449.2 2158.5,442.4 C2160.1,435.6 2162.1,430.7 2163.7,424.9 C2165.2,419.1 2166.7,417.6 2167.8,407.4 C2168.9,397.2 2169.3,385.5 2170.1,363.6 C2170.9,341.7 2171.8,301.8 2172.5,276.0 C2173.2,250.2 2173.8,213.7 2174.5,208.8 C2175.2,203.9 2175.9,221.0 2176.6,246.8 C2177.3,272.6 2178.0,329.5 2178.9,363.6 C2179.8,397.7 2180.6,428.3 2181.8,451.2 C2183.0,474.1 2184.5,498.9 2186.2,500.8 C2187.9,502.7 2190.1,462.3 2192.0,462.8 C2193.9,463.3 2196.2,503.2 2197.9,503.7 C2199.6,504.2 2200.9,475.5 2202.3,465.8 C2203.8,456.1 2204.9,448.2 2206.6,445.3 C2208.3,442.4 2210.6,444.8 2212.5,448.2 C2214.4,451.6 2216.7,455.5 2218.3,465.8 C2219.9,476.1 2221.3,493.8 2222.3,509.9 C2223.3,526.0 2223.6,547.4 2224.4,562.5 C2225.2,577.6 2226.2,595.1 2227.3,600.5 C2228.4,605.9 2230.0,602.4 2231.1,594.6 C2232.2,586.8 2233.2,575.1 2234.0,553.7 C2234.8,532.3 2235.4,495.2 2236.1,466.0 C2236.8,436.8 2237.4,401.3 2238.1,378.4 C2238.8,355.5 2239.6,340.9 2240.5,328.7 C2241.4,316.5 2242.3,314.1 2243.4,305.3 C2244.5,296.5 2245.7,289.2 2246.9,276.1 C2248.1,263.0 2249.6,235.2 2250.7,226.4 C2251.8,217.6 2252.5,219.1 2253.6,223.5 C2254.7,227.9 2256.2,241.5 2257.4,252.7 C2258.6,263.9 2259.7,277.0 2260.9,290.7 C2262.1,304.4 2263.4,317.6 2264.4,334.6 C2265.4,351.7 2265.9,374.5 2266.8,393.0 C2267.7,411.5 2268.7,445.6 2269.7,445.6 C2270.7,445.6 2271.9,413.9 2272.6,393.0 C2273.3,372.1 2273.5,344.2 2274.1,319.9 C2274.7,295.5 2275.4,267.4 2276.1,246.9 C2276.8,226.5 2277.5,207.9 2278.4,197.2 C2279.3,186.5 2280.4,178.2 2281.4,182.6 C2282.4,187.0 2283.2,202.6 2284.3,223.5 C2285.4,244.4 2286.4,290.8 2287.8,308.3 C2289.2,325.8 2291.1,315.6 2292.5,328.7 C2293.9,341.8 2294.9,372.3 2296.0,387.2 C2297.1,402.1 2297.5,412.4 2298.9,417.8 C2300.3,423.2 2302.7,411.3 2304.2,419.3 C2305.7,427.3 2306.5,450.4 2307.7,466.0 C2308.9,481.6 2309.8,500.6 2311.2,512.8 C2312.6,525.0 2315.0,524.0 2316.4,539.1 C2317.8,554.2 2318.3,580.0 2319.4,603.4 C2320.5,626.8 2322.3,666.7 2322.9,679.4" stroke="#F0691F" stroke-width="4.0" fill="none" stroke-linejoin="round" stroke-linecap="round"/>
<path d="M1469.3,254.5 C1470.6,253.8 1474.4,250.6 1477.3,250.5 C1480.2,250.4 1483.7,252.3 1486.6,253.9 C1489.5,255.5 1491.9,256.8 1494.6,259.8 C1497.3,262.8 1500.2,266.9 1502.6,271.8 C1505.0,276.7 1507.0,282.6 1509.2,289.0 C1511.4,295.4 1513.7,302.8 1515.9,310.3 C1518.1,317.9 1520.3,325.9 1522.5,334.3 C1524.7,342.7 1526.9,352.0 1529.1,360.9 C1531.3,369.8 1533.3,378.5 1535.8,387.4 C1538.2,396.2 1541.1,405.1 1543.8,414.0 C1546.5,422.9 1548.9,432.2 1551.8,440.6 C1554.7,449.0 1558.0,456.6 1561.1,464.6 C1564.2,472.6 1567.3,480.5 1570.4,488.5 C1573.5,496.5 1576.8,504.9 1579.7,512.4 C1582.6,519.9 1585.1,526.6 1587.7,533.7 C1590.3,540.8 1592.9,548.8 1595.6,555.0 C1598.2,561.2 1600.7,566.1 1603.6,571.0 C1606.5,575.9 1610.0,581.6 1612.9,584.3 C1615.8,586.9 1618.0,587.1 1620.9,586.9 C1623.8,586.7 1626.9,585.1 1630.2,582.9 C1633.5,580.7 1637.6,576.9 1640.9,573.6 C1644.2,570.3 1647.5,566.9 1650.2,563.0 C1652.9,559.1 1654.7,555.4 1657.3,550.4 C1659.9,545.4 1663.4,538.7 1666.1,532.9 C1668.8,527.1 1671.0,521.7 1673.4,515.4 C1675.8,509.1 1678.3,502.3 1680.7,495.0 C1683.1,487.7 1685.5,477.9 1688.0,471.6 C1690.5,465.3 1693.8,463.5 1695.8,457.2 C1697.8,450.9 1698.5,441.0 1700.0,433.8 C1701.5,426.6 1703.6,420.2 1705.0,413.8 C1706.4,407.4 1707.2,401.5 1708.4,395.4 C1709.7,389.3 1711.2,382.9 1712.5,377.1 C1713.8,371.3 1714.8,366.0 1715.9,360.4 C1717.0,354.8 1718.1,349.3 1719.2,343.7 C1720.3,338.1 1721.6,332.6 1722.6,327.0 C1723.6,321.4 1724.2,315.9 1725.1,310.3 C1726.0,304.7 1727.1,299.2 1728.1,293.6 C1729.1,288.0 1729.9,282.5 1730.9,276.9 C1731.9,271.3 1733.1,265.8 1734.2,260.2 C1735.3,254.6 1736.5,249.1 1737.6,243.5 C1738.7,237.9 1739.7,232.4 1740.9,226.8 C1742.2,221.2 1743.6,215.7 1745.1,210.1 C1746.6,204.5 1748.1,198.4 1750.1,193.4 C1752.0,188.4 1754.0,184.1 1756.8,180.1 C1759.6,176.1 1762.9,172.5 1766.8,169.2 C1770.7,165.8 1776.0,162.4 1780.2,160.0 C1784.4,157.6 1788.5,155.8 1791.8,155.0 C1795.1,154.2 1797.7,154.2 1800.2,155.0 C1802.7,155.8 1804.4,155.9 1806.9,160.0 C1809.4,164.1 1812.4,171.9 1815.0,179.6 C1817.6,187.2 1820.1,196.7 1822.3,205.9 C1824.5,215.2 1826.2,225.4 1828.1,235.1 C1830.0,244.8 1832.0,254.6 1833.9,264.3 C1835.9,274.0 1838.0,286.2 1839.8,293.5 C1841.5,300.8 1842.9,300.3 1844.4,308.1 C1845.9,315.9 1847.1,329.0 1848.8,340.2 C1850.5,351.4 1852.7,364.6 1854.6,375.3 C1856.5,386.0 1858.2,395.3 1860.4,404.5 C1862.6,413.7 1865.3,421.5 1867.7,430.7 C1870.1,439.9 1872.6,450.6 1875.0,459.9 C1877.4,469.1 1879.9,477.4 1882.3,486.2 C1884.7,495.0 1887.2,503.7 1889.6,512.5 C1892.0,521.3 1894.5,530.5 1896.9,538.8 C1899.3,547.1 1901.5,554.8 1904.2,562.1 C1906.9,569.4 1910.1,576.8 1913.0,582.6 C1915.9,588.5 1918.9,593.3 1921.8,597.2 C1924.7,601.1 1927.6,604.5 1930.5,605.9 C1933.4,607.3 1936.4,607.8 1939.3,605.9 C1942.2,604.0 1945.1,599.6 1948.0,594.2 C1950.9,588.9 1953.9,582.1 1956.8,573.8 C1959.7,565.5 1962.3,553.9 1965.5,544.6 C1968.7,535.4 1973.3,526.3 1976.1,518.3 C1978.9,510.3 1980.4,503.6 1982.4,496.5 C1984.4,489.4 1986.3,481.3 1988.0,475.4 C1989.7,469.5 1990.6,466.0 1992.3,461.3 C1994.0,456.6 1996.2,451.9 1997.9,447.2 C1999.7,442.5 2001.2,438.4 2002.8,433.1 C2004.4,427.8 2006.2,421.1 2007.7,415.5 C2009.2,409.9 2010.8,404.4 2012.0,399.3 C2013.2,394.2 2013.6,390.1 2014.8,385.2 C2016.0,380.3 2017.6,375.3 2019.0,369.7 C2020.4,364.1 2021.9,356.9 2023.2,351.4 C2024.5,345.9 2025.5,342.2 2026.8,336.6 C2028.1,331.0 2029.7,323.1 2031.0,317.6 C2032.3,312.1 2033.0,308.7 2034.5,303.5 C2036.0,298.3 2038.0,292.2 2040.1,286.6 C2042.2,281.0 2044.6,274.9 2047.2,269.7 C2049.8,264.5 2052.8,258.5 2055.6,255.6 C2058.4,252.7 2060.8,250.9 2064.1,252.1 C2067.4,253.3 2072.0,258.8 2075.3,262.8 C2078.6,266.8 2081.1,271.4 2084.0,276.0 C2086.9,280.6 2089.6,285.7 2092.8,290.6 C2096.0,295.5 2099.3,301.3 2103.0,305.2 C2106.7,309.1 2111.3,311.0 2114.7,313.9 C2118.1,316.8 2120.7,318.8 2123.4,322.7 C2126.1,326.6 2128.5,331.9 2130.7,337.3 C2132.9,342.7 2134.6,347.5 2136.6,354.8 C2138.6,362.1 2140.5,371.9 2142.4,381.1 C2144.3,390.4 2146.2,400.6 2148.2,410.3 C2150.1,420.0 2152.1,429.3 2154.1,439.5 C2156.1,449.7 2157.9,460.9 2159.9,471.6 C2161.9,482.3 2163.9,493.5 2165.8,503.7 C2167.8,513.9 2169.7,524.1 2171.6,532.9 C2173.5,541.7 2175.2,549.5 2177.4,556.3 C2179.6,563.1 2181.8,569.2 2184.7,573.8 C2187.6,578.4 2191.6,582.0 2195.0,584.0 C2198.4,586.0 2201.8,585.7 2205.2,585.5 C2208.6,585.3 2212.2,583.8 2215.4,582.6 C2218.6,581.4 2221.4,579.6 2224.2,578.2 C2227.0,576.8 2229.8,575.6 2232.0,574.0 C2234.2,572.4 2235.1,571.2 2237.5,568.3 C2239.9,565.4 2243.4,562.0 2246.3,556.6 C2249.2,551.2 2252.4,543.5 2255.1,536.2 C2257.8,528.9 2260.0,521.1 2262.4,512.8 C2264.8,504.5 2267.3,495.3 2269.7,486.5 C2272.1,477.7 2274.8,469.0 2277.0,460.2 C2279.2,451.4 2280.9,442.7 2282.8,433.9 C2284.8,425.1 2286.8,415.9 2288.7,407.6 C2290.6,399.3 2292.6,391.5 2294.5,384.2 C2296.4,376.9 2298.2,369.1 2300.4,363.8 C2302.6,358.5 2305.5,354.8 2307.7,352.1 C2309.9,349.4 2311.3,347.4 2313.5,347.7 C2315.7,347.9 2319.6,352.6 2320.8,353.6" stroke="#4368B6" stroke-width="4.2" fill="none" stroke-dasharray="7.8,10" stroke-linecap="round"/>
</g>
<text x="1381.6" y="687.7" text-anchor="end" font-size="25.8">0</text>
<text x="1381.6" y="583.0" text-anchor="end" font-size="25.8">1000</text>
<text x="1381.6" y="478.4" text-anchor="end" font-size="25.8">2000</text>
<text x="1381.6" y="373.7" text-anchor="end" font-size="25.8">3000</text>
<text x="1381.6" y="269.0" text-anchor="end" font-size="25.8">4000</text>
<text x="1381.6" y="164.4" text-anchor="end" font-size="25.8">5000</text>
<text x="1381.6" y="59.7" text-anchor="end" font-size="25.8">6000</text>
<text x="2407.5" y="687.7" font-size="25.8">0</text>
<text x="2407.5" y="598.0" font-size="25.8">0.1</text>
<text x="2407.5" y="508.3" font-size="25.8">0.2</text>
<text x="2407.5" y="418.6" font-size="25.8">0.3</text>
<text x="2407.5" y="328.8" font-size="25.8">0.4</text>
<text x="2407.5" y="239.1" font-size="25.8">0.5</text>
<text x="2407.5" y="149.4" font-size="25.8">0.6</text>
<text x="2407.5" y="59.7" font-size="25.8">0.7</text>
<text x="1404.0" y="719.0" text-anchor="middle" font-size="25.8">2/2/2020 9:00</text>
<text x="1688.5" y="719.0" text-anchor="middle" font-size="25.8">2/2/2020 21:00</text>
<text x="1973.0" y="719.0" text-anchor="middle" font-size="25.8">2/3/2020 9:00</text>
<text x="2257.5" y="719.0" text-anchor="middle" font-size="25.8">2/3/2020 21:00</text>
<text x="1894.8" y="754.3" text-anchor="middle" font-size="26" font-weight="bold">Date (dd/mm/yy hh:mm)</text>
<text x="1890.8" y="32.1" text-anchor="middle" font-size="33.5">B) Ofu, Papaloloa Point, 40 m distance to shoreline</text>
<text x="1890.8" y="78.3" text-anchor="middle" font-size="33.5">(Mean SGD advection rate 0.01 - 0.03 m/d)</text>
<text transform="translate(1274.3,392.0) rotate(-90)" x="0" y="0" text-anchor="middle" dominant-baseline="central" font-size="26" font-weight="bold">222Rn ex</text>
<text transform="translate(2475.8,423.5) rotate(-90)" x="0" y="0" text-anchor="middle" dominant-baseline="central" font-size="26" font-weight="bold">Water Level ( Tide + Waves)</text>
</g>
<g>
<clipPath id="clipC"><rect x="117.7" y="867.5" width="1022.3" height="669.2"/></clipPath>
<path d="M137.7,907.5V1535.5M1120.0,907.5V1535.5M137.7,1535.5H1120.0M130.2,1535.5H137.7M130.2,1457.0H137.7M130.2,1378.5H137.7M130.2,1300.0H137.7M130.2,1221.5H137.7M130.2,1143.0H137.7M130.2,1064.5H137.7M130.2,986.0H137.7M130.2,907.5H137.7M1120.0,1535.5H1127.5M1120.0,1445.8H1127.5M1120.0,1356.1H1127.5M1120.0,1266.4H1127.5M1120.0,1176.6H1127.5M1120.0,1086.9H1127.5M1120.0,997.2H1127.5M1120.0,907.5H1127.5M137.7,1535.5V1543.0M629.3,1535.5V1543.0M1120.9,1535.5V1543.0" stroke="#868686" stroke-width="1.5" fill="none"/>
<g clip-path="url(#clipC)">
<path d="M273.0,1427.7V1452.7M269.3,1427.7H276.7M269.3,1452.7H276.7M279.8,1436.9V1460.0M276.1,1436.9H283.5M276.1,1460.0H283.5M286.5,1447.7V1468.7M282.8,1447.7H290.2M282.8,1468.7H290.2M293.3,1452.0V1472.2M289.6,1452.0H297.0M289.6,1472.2H297.0M300.1,1461.7V1479.9M296.4,1461.7H303.8M296.4,1479.9H303.8M306.8,1476.8V1492.0M303.1,1476.8H310.5M303.1,1492.0H310.5M313.6,1487.3V1500.5M309.9,1487.3H317.3M309.9,1500.5H317.3M320.4,1484.7V1498.3M316.7,1484.7H324.1M316.7,1498.3H324.1M327.2,1470.4V1486.9M323.5,1470.4H330.9M323.5,1486.9H330.9M333.9,1485.4V1498.9M330.2,1485.4H337.6M330.2,1498.9H337.6M340.7,1502.6V1512.8M337.0,1502.6H344.4M337.0,1512.8H344.4M347.5,1510.7V1519.2M343.8,1510.7H351.2M343.8,1519.2H351.2M354.2,1510.9V1519.4M350.5,1510.9H357.9M350.5,1519.4H357.9M361.0,1514.4V1522.2M357.3,1514.4H364.7M357.3,1522.2H364.7M367.8,1521.6V1527.9M364.1,1521.6H371.5M364.1,1527.9H371.5M374.5,1524.7V1530.5M370.8,1524.7H378.2M370.8,1530.5H378.2M381.3,1518.5V1525.5M377.6,1518.5H385.0M377.6,1525.5H385.0M388.1,1519.7V1526.5M384.4,1519.7H391.8M384.4,1526.5H391.8M394.9,1521.5V1527.9M391.2,1521.5H398.6M391.2,1527.9H398.6M401.6,1519.5V1526.3M397.9,1519.5H405.3M397.9,1526.3H405.3M408.4,1522.2V1528.5M404.7,1522.2H412.1M404.7,1528.5H412.1M415.2,1527.6V1532.7M411.5,1527.6H418.9M411.5,1532.7H418.9M421.9,1523.1V1529.2M418.2,1523.1H425.6M418.2,1529.2H425.6M428.7,1524.3V1530.1M425.0,1524.3H432.4M425.0,1530.1H432.4M435.5,1525.7V1531.2M431.8,1525.7H439.2M431.8,1531.2H439.2M442.2,1520.9V1527.4M438.5,1520.9H445.9M438.5,1527.4H445.9M449.0,1525.1V1530.8M445.3,1525.1H452.7M445.3,1530.8H452.7M455.8,1521.1V1527.6M452.1,1521.1H459.5M452.1,1527.6H459.5M462.6,1524.9V1530.6M458.9,1524.9H466.3M458.9,1530.6H466.3M469.3,1528.3V1533.3M465.6,1528.3H473.0M465.6,1533.3H473.0M476.1,1522.3V1528.5M472.4,1522.3H479.8M472.4,1528.5H479.8M482.9,1520.5V1527.1M479.2,1520.5H486.6M479.2,1527.1H486.6M489.6,1522.5V1528.7M485.9,1522.5H493.3M485.9,1528.7H493.3M496.4,1519.5V1526.3M492.7,1519.5H500.1M492.7,1526.3H500.1M503.2,1494.7V1506.4M499.5,1494.7H506.9M499.5,1506.4H506.9M509.9,1452.9V1472.9M506.2,1452.9H513.6M506.2,1472.9H513.6M516.7,1430.5V1454.9M513.0,1430.5H520.4M513.0,1454.9H520.4M523.5,1357.1V1396.1M519.8,1357.1H527.2M519.8,1396.1H527.2M530.3,1357.5V1396.4M526.6,1357.5H534.0M526.6,1396.4H534.0M537.0,1308.2V1356.9M533.3,1308.2H540.7M533.3,1356.9H540.7M543.8,1318.6V1365.2M540.1,1318.6H547.5M540.1,1365.2H547.5M550.6,1311.7V1359.7M546.9,1311.7H554.3M546.9,1359.7H554.3M557.3,1327.1V1372.0M553.6,1327.1H561.0M553.6,1372.0H561.0M564.1,1342.9V1384.7M560.4,1342.9H567.8M560.4,1384.7H567.8M570.9,1363.9V1401.5M567.2,1363.9H574.6M567.2,1401.5H574.6M577.6,1407.9V1436.8M573.9,1407.9H581.3M573.9,1436.8H581.3M584.4,1418.7V1445.5M580.7,1418.7H588.1M580.7,1445.5H588.1M591.2,1430.9V1455.3M587.5,1430.9H594.9M587.5,1455.3H594.9M598.0,1431.8V1456.0M594.3,1431.8H601.7M594.3,1456.0H601.7M604.7,1422.7V1448.7M601.0,1422.7H608.4M601.0,1448.7H608.4M611.5,1444.2V1465.9M607.8,1444.2H615.2M607.8,1465.9H615.2M618.3,1454.9V1474.5M614.6,1454.9H622.0M614.6,1474.5H622.0M625.0,1455.0V1474.6M621.3,1455.0H628.7M621.3,1474.6H628.7M631.8,1470.8V1487.2M628.1,1470.8H635.5M628.1,1487.2H635.5M638.6,1486.6V1499.9M634.9,1486.6H642.3M634.9,1499.9H642.3M645.3,1499.6V1510.4M641.6,1499.6H649.0M641.6,1510.4H649.0M652.1,1485.3V1498.9M648.4,1485.3H655.8M648.4,1498.9H655.8M658.9,1469.3V1486.0M655.2,1469.3H662.6M655.2,1486.0H662.6M665.7,1484.0V1497.8M662.0,1484.0H669.4M662.0,1497.8H669.4M672.4,1492.2V1504.4M668.7,1492.2H676.1M668.7,1504.4H676.1M679.2,1496.7V1508.0M675.5,1496.7H682.9M675.5,1508.0H682.9M686.0,1514.6V1522.4M682.3,1514.6H689.7M682.3,1522.4H689.7M692.7,1518.5V1525.5M689.0,1518.5H696.4M689.0,1525.5H696.4M699.5,1518.9V1525.8M695.8,1518.9H703.2M695.8,1525.8H703.2M706.3,1515.1V1522.7M702.6,1515.1H710.0M702.6,1522.7H710.0M713.0,1514.4V1522.2M709.3,1514.4H716.7M709.3,1522.2H716.7M719.8,1518.8V1525.7M716.1,1518.8H723.5M716.1,1525.7H723.5M726.6,1511.2V1519.6M722.9,1511.2H730.3M722.9,1519.6H730.3M733.4,1496.9V1508.2M729.7,1496.9H737.1M729.7,1508.2H737.1M740.1,1501.2V1511.6M736.4,1501.2H743.8M736.4,1511.6H743.8M746.9,1514.5V1522.3M743.2,1514.5H750.6M743.2,1522.3H750.6M753.7,1512.3V1520.5M750.0,1512.3H757.4M750.0,1520.5H757.4M760.4,1506.9V1516.2M756.7,1506.9H764.1M756.7,1516.2H764.1M767.2,1499.9V1510.5M763.5,1499.9H770.9M763.5,1510.5H770.9M774.0,1498.2V1509.2M770.3,1498.2H777.7M770.3,1509.2H777.7M780.7,1502.9V1513.0M777.0,1502.9H784.4M777.0,1513.0H784.4M787.5,1503.1V1513.1M783.8,1503.1H791.2M783.8,1513.1H791.2M794.3,1499.2V1510.0M790.6,1499.2H798.0M790.6,1510.0H798.0M801.1,1495.2V1506.8M797.4,1495.2H804.8M797.4,1506.8H804.8M807.8,1476.4V1491.7M804.1,1476.4H811.5M804.1,1491.7H811.5M814.6,1469.9V1486.5M810.9,1469.9H818.3M810.9,1486.5H818.3M821.4,1477.3V1492.5M817.7,1477.3H825.1M817.7,1492.5H825.1M828.1,1450.4V1470.9M824.4,1450.4H831.8M824.4,1470.9H831.8M834.9,1412.0V1440.1M831.2,1412.0H838.6M831.2,1440.1H838.6M841.7,1404.9V1434.4M838.0,1404.9H845.4M838.0,1434.4H845.4M848.4,1384.5V1418.0M844.7,1384.5H852.1M844.7,1418.0H852.1M855.2,1235.0V1298.1M851.5,1235.0H858.9M851.5,1298.1H858.9M862.0,1074.6V1169.6M858.3,1074.6H865.7M858.3,1169.6H865.7M868.8,988.0V1100.1M865.1,988.0H872.5M865.1,1100.1H872.5M875.5,980.4V1094.0M871.8,980.4H879.2M871.8,1094.0H879.2M882.3,1012.2V1119.5M878.6,1012.2H886.0M878.6,1119.5H886.0M889.1,1031.1V1134.7M885.4,1031.1H892.8M885.4,1134.7H892.8M895.8,1090.0V1181.9M892.1,1090.0H899.5M892.1,1181.9H899.5M902.6,1135.2V1218.2M898.9,1135.2H906.3M898.9,1218.2H906.3M909.4,1166.4V1243.2M905.7,1166.4H913.1M905.7,1243.2H913.1M916.1,1210.0V1278.2M912.4,1210.0H919.8M912.4,1278.2H919.8M922.9,1258.7V1317.2M919.2,1258.7H926.6M919.2,1317.2H926.6M929.7,1308.1V1356.8M926.0,1308.1H933.4M926.0,1356.8H933.4M936.5,1309.6V1357.9M932.8,1309.6H940.2M932.8,1357.9H940.2M943.2,1317.2V1364.1M939.5,1317.2H946.9M939.5,1364.1H946.9M950.0,1359.3V1397.9M946.3,1359.3H953.7M946.3,1397.9H953.7M956.8,1361.9V1399.9M953.1,1361.9H960.5M953.1,1399.9H960.5M963.5,1393.9V1425.6M959.8,1393.9H967.2M959.8,1425.6H967.2" stroke="#7f8182" stroke-width="1.15" fill="none"/>
<path d="M273.0,1440.2 C273.9,1441.2 276.6,1443.6 278.6,1446.4 C280.6,1449.2 282.7,1455.0 284.8,1457.3 C286.9,1459.6 288.9,1459.1 291.0,1460.4 C293.1,1461.7 295.1,1462.2 297.2,1465.0 C299.3,1467.8 301.3,1473.3 303.4,1477.5 C305.5,1481.7 307.5,1486.8 309.6,1489.9 C311.7,1493.0 314.0,1495.8 315.8,1496.1 C317.6,1496.3 318.9,1494.0 320.5,1491.4 C322.1,1488.8 323.9,1482.9 325.2,1480.6 C326.5,1478.3 327.2,1476.5 328.3,1477.5 C329.4,1478.5 330.4,1482.7 332.0,1486.8 C333.6,1490.9 335.6,1497.9 337.6,1502.3 C339.6,1506.7 341.7,1510.8 343.8,1513.1 C345.9,1515.4 347.9,1515.9 350.0,1516.2 C352.1,1516.5 354.1,1514.2 356.2,1514.7 C358.3,1515.2 360.3,1517.5 362.4,1519.3 C364.5,1521.1 366.5,1524.2 368.6,1525.6 C370.7,1527.0 372.5,1528.5 374.8,1527.7 C377.1,1526.9 380.0,1521.5 382.6,1520.9 C385.2,1520.3 388.0,1523.3 390.3,1524.0 C392.6,1524.7 394.4,1525.2 396.5,1524.9 C398.6,1524.7 400.6,1522.4 402.7,1522.5 C404.8,1522.6 406.8,1524.3 408.9,1525.6 C411.0,1526.9 412.8,1530.2 415.1,1530.2 C417.4,1530.2 420.3,1526.0 422.9,1525.6 C425.5,1525.2 428.3,1527.2 430.6,1527.7 C432.9,1528.2 434.8,1529.4 436.9,1528.7 C439.0,1528.0 441.3,1523.6 443.1,1523.4 C444.9,1523.2 446.1,1526.8 447.7,1527.7 C449.3,1528.6 451.3,1529.8 453.0,1528.7 C454.7,1527.6 456.3,1520.9 458.0,1520.9 C459.7,1520.9 461.3,1527.1 463.2,1528.7 C465.1,1530.3 467.3,1531.3 469.4,1530.8 C471.5,1530.3 473.5,1526.8 475.6,1525.6 C477.7,1524.4 479.7,1523.4 481.8,1523.4 C483.9,1523.5 485.9,1525.7 488.0,1525.9 C490.1,1526.1 492.5,1525.4 494.3,1524.6 C496.1,1523.8 497.5,1524.3 498.9,1520.9 C500.3,1517.5 501.3,1511.5 502.6,1504.4 C503.9,1497.4 505.0,1486.8 506.5,1478.6 C508.0,1470.4 509.9,1461.4 511.6,1455.4 C513.3,1449.4 515.3,1449.8 516.8,1442.5 C518.3,1435.2 519.5,1423.1 520.7,1411.5 C521.9,1399.9 522.8,1381.3 523.8,1372.7 C524.8,1364.1 525.6,1359.4 526.6,1359.8 C527.6,1360.2 528.8,1371.4 529.7,1375.3 C530.7,1379.2 531.3,1387.8 532.3,1383.1 C533.3,1378.4 534.5,1359.0 535.6,1346.9 C536.8,1334.9 538.0,1313.0 539.2,1310.8 C540.4,1308.6 541.4,1325.8 542.6,1334.0 C543.8,1342.2 545.2,1359.4 546.5,1359.8 C547.8,1360.2 549.1,1342.2 550.3,1336.6 C551.4,1331.0 552.2,1324.1 553.4,1326.3 C554.6,1328.5 555.9,1343.9 557.3,1349.5 C558.6,1355.1 560.0,1356.8 561.5,1359.8 C563.0,1362.8 565.0,1363.7 566.6,1367.6 C568.2,1371.5 569.6,1376.6 571.0,1383.1 C572.4,1389.5 573.7,1399.4 574.9,1406.3 C576.1,1413.2 577.0,1420.1 578.0,1424.4 C579.0,1428.7 579.4,1430.8 580.6,1432.1 C581.8,1433.4 583.6,1430.4 585.2,1432.1 C586.8,1433.8 588.7,1440.1 590.4,1442.5 C592.1,1444.9 593.8,1446.5 595.5,1446.3 C597.2,1446.1 598.9,1443.3 600.7,1441.2 C602.5,1439.1 604.9,1432.3 606.4,1433.4 C607.9,1434.5 608.4,1442.2 609.7,1447.6 C611.0,1453.0 612.5,1462.9 614.1,1465.7 C615.7,1468.5 617.7,1464.8 619.3,1464.4 C620.9,1464.0 622.3,1462.0 623.9,1463.1 C625.5,1464.2 627.4,1467.0 629.1,1470.9 C630.8,1474.8 632.4,1482.1 634.3,1486.4 C636.2,1490.7 638.6,1493.1 640.7,1496.7 C642.9,1500.3 645.3,1509.2 647.2,1508.3 C649.1,1507.4 650.6,1496.5 652.3,1491.5 C654.0,1486.5 656.0,1481.2 657.5,1478.6 C659.0,1476.0 660.1,1474.3 661.4,1476.0 C662.7,1477.7 663.9,1484.0 665.2,1488.9 C666.5,1493.9 667.6,1504.8 669.1,1505.7 C670.6,1506.6 672.8,1495.2 674.3,1494.1 C675.8,1493.0 676.7,1495.8 678.2,1499.3 C679.7,1502.8 681.4,1510.7 683.3,1514.8 C685.2,1518.9 687.6,1522.9 689.8,1523.8 C691.9,1524.7 694.3,1519.9 696.2,1519.9 C698.1,1519.9 699.7,1524.0 701.4,1523.8 C703.1,1523.6 704.9,1519.7 706.6,1518.6 C708.3,1517.5 710.0,1516.9 711.7,1517.3 C713.4,1517.7 715.2,1520.2 716.9,1521.2 C718.6,1522.2 720.1,1524.5 722.0,1523.0 C723.9,1521.5 726.1,1516.6 728.5,1512.2 C730.9,1507.8 734.1,1497.1 736.3,1496.7 C738.4,1496.3 739.5,1505.7 741.4,1509.6 C743.3,1513.5 745.8,1518.9 747.9,1520.0 C750.0,1521.1 752.3,1517.3 754.3,1516.0 C756.3,1514.7 758.4,1513.9 760.0,1512.2 C761.6,1510.5 762.3,1507.1 764.2,1505.8 C766.1,1504.5 769.2,1504.9 771.3,1504.4 C773.4,1503.9 775.3,1502.3 777.0,1503.0 C778.7,1503.7 780.1,1506.3 781.3,1508.7 C782.5,1511.1 782.9,1517.7 784.1,1517.2 C785.3,1516.7 786.5,1507.9 788.4,1505.8 C790.3,1503.7 793.1,1505.4 795.5,1504.4 C797.9,1503.5 800.7,1502.7 802.6,1500.1 C804.5,1497.5 805.4,1494.0 806.8,1488.8 C808.2,1483.6 809.7,1470.3 811.1,1468.9 C812.5,1467.5 813.8,1477.5 815.4,1480.3 C817.0,1483.1 818.9,1485.9 820.5,1485.9 C822.1,1485.9 823.9,1485.5 825.3,1480.3 C826.7,1475.1 827.8,1462.3 829.0,1454.7 C830.2,1447.1 830.9,1441.4 832.4,1434.8 C833.9,1428.2 836.4,1417.3 838.1,1414.9 C839.8,1412.5 841.2,1418.7 842.4,1420.6 C843.6,1422.5 844.1,1430.1 845.2,1426.3 C846.3,1422.5 847.8,1409.6 848.9,1397.8 C850.0,1386.0 850.8,1374.1 851.7,1355.2 C852.7,1336.3 853.8,1305.5 854.6,1284.2 C855.4,1262.9 855.8,1248.6 856.6,1227.3 C857.4,1206.0 858.2,1177.6 859.4,1156.3 C860.6,1135.0 862.4,1116.1 863.7,1099.5 C865.0,1082.9 865.9,1068.6 867.1,1056.8 C868.3,1045.0 869.7,1034.1 870.8,1028.4 C871.9,1022.7 872.6,1019.4 873.6,1022.7 C874.6,1026.0 875.8,1041.2 877.0,1048.3 C878.2,1055.4 879.2,1062.3 880.7,1065.4 C882.2,1068.5 884.1,1062.5 885.8,1066.8 C887.5,1071.0 889.2,1080.7 890.7,1090.9 C892.2,1101.1 893.5,1115.6 894.9,1127.9 C896.3,1140.2 897.5,1155.3 899.2,1164.8 C900.9,1174.3 903.0,1177.1 904.9,1184.7 C906.8,1192.3 908.7,1200.3 910.6,1210.3 C912.5,1220.2 914.3,1233.0 916.2,1244.4 C918.1,1255.8 920.2,1266.2 921.9,1278.5 C923.6,1290.8 924.8,1308.8 926.2,1318.3 C927.6,1327.8 929.0,1332.0 930.4,1335.3 C931.8,1338.6 933.4,1339.2 934.7,1338.2 C936.0,1337.2 936.9,1331.0 938.1,1329.6 C939.3,1328.2 940.6,1324.8 941.8,1329.6 C943.0,1334.3 944.3,1349.6 945.5,1358.1 C946.7,1366.6 947.4,1378.9 948.9,1380.8 C950.4,1382.7 952.9,1367.5 954.6,1369.4 C956.3,1371.3 957.5,1385.6 958.9,1392.2 C960.3,1398.8 961.5,1405.2 963.1,1409.2 C964.8,1413.2 967.8,1415.1 968.8,1416.3" stroke="#F0691F" stroke-width="4.0" fill="none" stroke-linejoin="round" stroke-linecap="round"/>
<path d="M277.1,1238.6 C277.6,1236.3 279.2,1229.8 280.2,1224.6 C281.2,1219.4 281.8,1214.7 283.3,1207.5 C284.9,1200.3 287.7,1189.0 289.5,1181.2 C291.3,1173.4 292.6,1167.9 294.1,1160.4 C295.7,1152.9 297.0,1144.3 298.8,1136.2 C300.6,1128.1 303.2,1120.3 305.0,1112.0 C306.8,1103.7 307.9,1094.4 309.6,1086.5 C311.3,1078.6 313.4,1072.0 315.2,1064.8 C317.0,1057.6 318.4,1051.1 320.5,1043.1 C322.6,1035.1 325.3,1025.0 327.6,1016.7 C329.9,1008.4 331.6,1001.0 334.5,993.4 C337.4,985.8 341.7,977.2 345.3,971.1 C348.9,965.0 353.1,959.5 356.2,956.8 C359.3,954.1 361.6,954.7 363.9,954.7 C366.2,954.7 367.2,954.5 370.1,956.8 C373.0,959.1 377.4,963.0 381.0,968.6 C384.6,974.2 388.5,983.0 391.9,990.3 C395.3,997.5 398.4,1004.3 401.2,1012.1 C404.0,1019.9 406.6,1028.9 408.9,1036.9 C411.2,1044.9 413.0,1051.8 415.1,1060.1 C417.2,1068.4 419.3,1078.5 421.3,1086.5 C423.3,1094.5 425.1,1100.4 426.9,1108.2 C428.7,1116.0 430.4,1125.1 432.2,1133.1 C434.0,1141.1 435.6,1148.0 437.5,1156.3 C439.4,1164.6 442.0,1174.8 443.7,1182.7 C445.4,1190.6 446.1,1196.0 447.7,1203.8 C449.2,1211.5 451.4,1221.2 453.0,1229.2 C454.6,1237.2 455.9,1243.8 457.6,1251.6 C459.3,1259.4 461.3,1267.7 463.2,1275.8 C465.1,1283.9 467.0,1292.2 468.8,1300.0 C470.6,1307.8 472.1,1314.5 474.1,1322.3 C476.1,1330.0 478.6,1338.2 480.9,1346.5 C483.2,1354.8 485.8,1364.1 488.0,1372.0 C490.2,1379.9 492.3,1387.1 494.3,1393.7 C496.3,1400.3 498.4,1406.4 500.0,1411.5 C501.6,1416.6 502.2,1419.7 503.9,1424.4 C505.6,1429.1 507.9,1434.3 510.3,1439.9 C512.7,1445.5 515.5,1453.3 518.1,1458.0 C520.7,1462.7 522.4,1464.9 525.8,1468.3 C529.2,1471.7 534.0,1477.5 538.7,1478.6 C543.4,1479.7 549.7,1476.8 554.2,1474.7 C558.7,1472.6 562.3,1469.6 565.8,1465.7 C569.2,1461.8 571.7,1457.5 574.9,1451.5 C578.1,1445.5 582.6,1434.5 585.2,1429.5 C587.8,1424.5 588.5,1425.7 590.4,1421.8 C592.3,1417.9 594.6,1411.9 596.8,1406.3 C598.9,1400.7 601.4,1393.2 603.3,1388.2 C605.1,1383.2 606.3,1381.1 607.9,1376.6 C609.5,1372.1 611.0,1366.9 612.8,1361.1 C614.6,1355.3 617.4,1347.2 618.8,1341.8 C620.2,1336.4 620.2,1333.6 621.4,1328.9 C622.5,1324.2 624.2,1319.0 625.7,1313.4 C627.2,1307.8 629.2,1300.5 630.4,1295.3 C631.6,1290.1 631.7,1287.1 633.0,1282.4 C634.3,1277.7 636.6,1272.5 638.1,1266.9 C639.6,1261.3 640.7,1254.4 642.0,1248.8 C643.3,1243.2 644.6,1238.2 645.9,1233.3 C647.2,1228.3 648.4,1224.7 649.8,1219.1 C651.2,1213.5 653.1,1205.2 654.4,1199.8 C655.7,1194.4 656.2,1191.5 657.5,1186.8 C658.8,1182.1 660.4,1177.0 661.9,1171.4 C663.4,1165.8 665.1,1158.9 666.5,1153.3 C667.9,1147.7 669.0,1142.8 670.4,1137.8 C671.8,1132.8 673.4,1128.8 675.1,1123.6 C676.8,1118.4 678.7,1111.8 680.7,1106.8 C682.7,1101.8 684.6,1098.4 687.2,1093.9 C689.8,1089.4 693.4,1082.9 696.2,1079.7 C699.0,1076.5 701.4,1075.4 704.0,1074.5 C706.6,1073.6 709.1,1073.8 711.7,1074.5 C714.3,1075.2 717.4,1076.9 719.5,1078.4 C721.6,1079.9 722.5,1080.4 724.6,1083.6 C726.8,1086.8 729.8,1092.8 732.4,1097.8 C735.0,1102.8 738.0,1108.3 740.1,1113.3 C742.2,1118.2 743.4,1122.5 745.3,1127.5 C747.2,1132.5 749.4,1136.8 751.4,1143.5 C753.4,1150.2 755.1,1159.9 757.1,1167.7 C759.1,1175.5 761.5,1182.4 763.6,1190.4 C765.7,1198.5 767.9,1208.0 769.9,1216.0 C771.9,1224.0 773.7,1231.1 775.6,1238.7 C777.5,1246.3 779.8,1253.4 781.3,1261.4 C782.8,1269.5 783.3,1279.0 784.7,1287.0 C786.1,1295.0 787.8,1301.9 789.8,1309.7 C791.8,1317.5 794.8,1326.3 796.9,1333.9 C799.0,1341.5 800.5,1347.4 802.6,1355.2 C804.7,1363.0 807.3,1372.8 809.7,1380.8 C812.1,1388.8 814.4,1395.7 816.8,1403.5 C819.2,1411.3 821.3,1419.7 823.9,1427.7 C826.5,1435.8 829.3,1444.2 832.4,1451.8 C835.5,1459.4 839.3,1466.7 842.4,1473.1 C845.5,1479.5 848.1,1485.7 850.9,1490.2 C853.7,1494.7 855.4,1497.3 859.4,1500.1 C863.4,1502.9 869.8,1507.7 875.0,1507.2 C880.2,1506.7 886.9,1500.8 890.7,1497.3 C894.5,1493.8 895.6,1490.4 897.8,1485.9 C900.0,1481.4 901.9,1476.7 904.0,1470.3 C906.1,1463.9 908.1,1455.4 910.6,1447.6 C913.1,1439.8 916.7,1431.7 919.1,1423.4 C921.5,1415.1 922.9,1405.6 924.8,1397.8 C926.7,1390.0 928.8,1383.6 930.4,1376.5 C932.0,1369.4 932.8,1362.5 934.1,1355.2 C935.4,1347.9 936.7,1338.9 938.1,1332.5 C939.5,1326.1 941.1,1322.0 942.7,1316.8 C944.3,1311.6 945.9,1307.3 947.5,1301.2 C949.1,1295.1 950.9,1286.5 952.3,1279.9 C953.7,1273.3 954.9,1266.6 956.0,1261.4 C957.1,1256.2 958.4,1250.7 958.9,1248.6" stroke="#4368B6" stroke-width="4.2" fill="none" stroke-dasharray="12.6,18.4,0.1,17.8" stroke-linecap="round"/>
</g>
<text x="115.3" y="1543.2" text-anchor="end" font-size="25.8">0</text>
<text x="115.3" y="1464.7" text-anchor="end" font-size="25.8">2000</text>
<text x="115.3" y="1386.2" text-anchor="end" font-size="25.8">4000</text>
<text x="115.3" y="1307.7" text-anchor="end" font-size="25.8">6000</text>
<text x="115.3" y="1229.2" text-anchor="end" font-size="25.8">8000</text>
<text x="115.3" y="1150.7" text-anchor="end" font-size="25.8">10000</text>
<text x="115.3" y="1072.2" text-anchor="end" font-size="25.8">12000</text>
<text x="115.3" y="993.7" text-anchor="end" font-size="25.8">14000</text>
<text x="115.3" y="915.2" text-anchor="end" font-size="25.8">16000</text>
<text x="1142.0" y="1543.2" font-size="25.8">0</text>
<text x="1142.0" y="1453.5" font-size="25.8">0.1</text>
<text x="1142.0" y="1363.8" font-size="25.8">0.2</text>
<text x="1142.0" y="1274.1" font-size="25.8">0.3</text>
<text x="1142.0" y="1184.3" font-size="25.8">0.4</text>
<text x="1142.0" y="1094.6" font-size="25.8">0.5</text>
<text x="1142.0" y="1004.9" font-size="25.8">0.6</text>
<text x="1142.0" y="915.2" font-size="25.8">0.7</text>
<text x="137.7" y="1574.5" text-anchor="middle" font-size="25.8">2/4/2020 18:00</text>
<text x="629.3" y="1574.5" text-anchor="middle" font-size="25.8">2/5/2020 12:00</text>
<text x="1120.9" y="1574.5" text-anchor="middle" font-size="25.8">2/6/2020 6:00</text>
<text x="628.9" y="1609.8" text-anchor="middle" font-size="26" font-weight="bold">Date (dd/mm/yy hh:mm)</text>
<text x="633.5" y="875.2" text-anchor="middle" font-size="33.5">C) Ofu, Papaloloa Point, East, 3 m distance to shoreline</text>
<text x="633.5" y="920.8" text-anchor="middle" font-size="33.5">(Mean SGD advection rate 0.02 - 0.04 m/d)</text>
<text transform="translate(17.9,1248.0) rotate(-90)" x="0" y="0" text-anchor="middle" dominant-baseline="central" font-size="26" font-weight="bold">222Rn ex</text>
<text transform="translate(1219.7,1227.3) rotate(-90)" x="0" y="0" text-anchor="middle" dominant-baseline="central" font-size="26" font-weight="bold">Water Level ( Tide )</text>
</g>
<g>
<clipPath id="clipD"><rect x="1385.8" y="867.5" width="1021.4" height="669.2"/></clipPath>
<path d="M1405.8,907.5V1535.5M2387.2,907.5V1535.5M1405.8,1535.5H2387.2M1398.3,1535.5H1405.8M1398.3,1430.8H1405.8M1398.3,1326.2H1405.8M1398.3,1221.5H1405.8M1398.3,1116.8H1405.8M1398.3,1012.2H1405.8M1398.3,907.5H1405.8M2387.2,1535.5H2394.7M2387.2,1445.8H2394.7M2387.2,1356.1H2394.7M2387.2,1266.4H2394.7M2387.2,1176.6H2394.7M2387.2,1086.9H2394.7M2387.2,997.2H2394.7M2387.2,907.5H2394.7M1405.6,1535.5V1543.0M1651.0,1535.5V1543.0M1896.4,1535.5V1543.0M2141.8,1535.5V1543.0M2387.2,1535.5V1543.0" stroke="#868686" stroke-width="1.5" fill="none"/>
<g clip-path="url(#clipD)">
<path d="M1568.3,1507.0V1526.4M1564.6,1507.0H1572.0M1564.6,1526.4H1572.0M1578.4,1501.9V1523.3M1574.7,1501.9H1582.1M1574.7,1523.3H1582.1M1588.5,1491.7V1517.2M1584.8,1491.7H1592.2M1584.8,1517.2H1592.2M1598.6,1489.6V1516.0M1594.9,1489.6H1602.3M1594.9,1516.0H1602.3M1608.7,1503.9V1524.5M1605.0,1503.9H1612.4M1605.0,1524.5H1612.4M1618.8,1510.6V1528.5M1615.1,1510.6H1622.5M1615.1,1528.5H1622.5M1639.0,1508.4V1527.2M1635.3,1508.4H1642.7M1635.3,1527.2H1642.7M1659.2,1522.2V1535.5M1655.5,1522.2H1662.9M1655.5,1535.5H1662.9M1679.4,1511.3V1529.0M1675.7,1511.3H1683.1M1675.7,1529.0H1683.1M1689.5,1480.8V1508.8M1685.8,1480.8H1693.2M1685.8,1508.8H1693.2M1699.6,1510.5V1528.5M1695.9,1510.5H1703.3M1695.9,1528.5H1703.3M1740.0,1523.9V1535.5M1736.3,1523.9H1743.7M1736.3,1535.5H1743.7M1750.1,1524.7V1535.5M1746.4,1524.7H1753.8M1746.4,1535.5H1753.8M1760.2,1513.5V1530.3M1756.5,1513.5H1763.9M1756.5,1530.3H1763.9M1770.3,1516.9V1532.4M1766.6,1516.9H1774.0M1766.6,1532.4H1774.0M1790.5,1524.8V1535.5M1786.8,1524.8H1794.2M1786.8,1535.5H1794.2M1800.6,1515.7V1531.6M1796.9,1515.7H1804.3M1796.9,1531.6H1804.3M1810.7,1524.2V1535.5M1807.0,1524.2H1814.4M1807.0,1535.5H1814.4M1820.8,1512.2V1529.5M1817.1,1512.2H1824.5M1817.1,1529.5H1824.5M1830.9,1500.8V1522.7M1827.2,1500.8H1834.6M1827.2,1522.7H1834.6M1841.0,1521.5V1535.1M1837.3,1521.5H1844.7M1837.3,1535.1H1844.7M1851.1,1509.5V1527.9M1847.4,1509.5H1854.8M1847.4,1527.9H1854.8M1861.2,1499.7V1522.0M1857.5,1499.7H1864.9M1857.5,1522.0H1864.9M1871.3,1510.1V1528.3M1867.6,1510.1H1875.0M1867.6,1528.3H1875.0M1881.4,1518.4V1533.3M1877.7,1518.4H1885.1M1877.7,1533.3H1885.1M1891.5,1523.9V1535.5M1887.8,1523.9H1895.2M1887.8,1535.5H1895.2M1901.6,1522.0V1535.4M1897.9,1522.0H1905.3M1897.9,1535.4H1905.3M1911.7,1507.7V1526.8M1908.0,1507.7H1915.4M1908.0,1526.8H1915.4M1921.8,1513.4V1530.2M1918.1,1513.4H1925.5M1918.1,1530.2H1925.5M1931.9,1521.0V1534.8M1928.2,1521.0H1935.6M1928.2,1534.8H1935.6M1942.0,1513.6V1530.4M1938.3,1513.6H1945.7M1938.3,1530.4H1945.7M1952.1,1518.7V1533.4M1948.4,1518.7H1955.8M1948.4,1533.4H1955.8M1962.2,1513.1V1530.1M1958.5,1513.1H1965.9M1958.5,1530.1H1965.9M1972.3,1511.0V1528.8M1968.6,1511.0H1976.0M1968.6,1528.8H1976.0M1982.4,1505.4V1525.5M1978.7,1505.4H1986.1M1978.7,1525.5H1986.1M1992.5,1492.2V1517.5M1988.8,1492.2H1996.2M1988.8,1517.5H1996.2M2002.6,1525.1V1535.5M1998.9,1525.1H2006.3M1998.9,1535.5H2006.3M2012.7,1522.0V1535.4M2009.0,1522.0H2016.4M2009.0,1535.4H2016.4M2022.8,1521.3V1535.0M2019.1,1521.3H2026.5M2019.1,1535.0H2026.5M2043.0,1524.0V1535.5M2039.3,1524.0H2046.7M2039.3,1535.5H2046.7M2053.1,1510.0V1528.2M2049.4,1510.0H2056.8M2049.4,1528.2H2056.8M2063.2,1516.5V1532.1M2059.5,1516.5H2066.9M2059.5,1532.1H2066.9M2073.3,1501.3V1523.0M2069.6,1501.3H2077.0M2069.6,1523.0H2077.0M2083.4,1493.5V1518.3M2079.7,1493.5H2087.1M2079.7,1518.3H2087.1M2103.6,1511.8V1529.3M2099.9,1511.8H2107.3M2099.9,1529.3H2107.3M2133.9,1508.9V1527.5M2130.2,1508.9H2137.6M2130.2,1527.5H2137.6M2144.0,1522.3V1535.5M2140.3,1522.3H2147.7M2140.3,1535.5H2147.7M2154.1,1517.2V1532.5M2150.4,1517.2H2157.8M2150.4,1532.5H2157.8M2164.2,1525.5V1535.5M2160.5,1525.5H2167.9M2160.5,1535.5H2167.9M2174.3,1518.3V1533.2M2170.6,1518.3H2178.0M2170.6,1533.2H2178.0M2194.5,1504.5V1524.9M2190.8,1504.5H2198.2M2190.8,1524.9H2198.2M2204.6,1488.8V1515.5M2200.9,1488.8H2208.3M2200.9,1515.5H2208.3M2214.7,1523.7V1535.5M2211.0,1523.7H2218.4M2211.0,1535.5H2218.4M2224.8,1517.0V1532.4M2221.1,1517.0H2228.5M2221.1,1532.4H2228.5M2234.9,1507.7V1526.8M2231.2,1507.7H2238.6M2231.2,1526.8H2238.6M2255.1,1513.8V1530.5M2251.4,1513.8H2258.8M2251.4,1530.5H2258.8M2265.2,1498.2V1521.1M2261.5,1498.2H2268.9M2261.5,1521.1H2268.9M2275.3,1524.6V1535.5M2271.6,1524.6H2279.0M2271.6,1535.5H2279.0M2285.4,1520.4V1534.4M2281.7,1520.4H2289.1M2281.7,1534.4H2289.1M2295.5,1521.4V1535.0M2291.8,1521.4H2299.2M2291.8,1535.0H2299.2M2305.6,1496.2V1519.9M2301.9,1496.2H2309.3M2301.9,1519.9H2309.3M2315.7,1503.9V1524.5M2312.0,1503.9H2319.4M2312.0,1524.5H2319.4M2325.8,1486.6V1514.2M2322.1,1486.6H2329.5M2322.1,1514.2H2329.5M2335.9,1516.4V1532.0M2332.2,1516.4H2339.6M2332.2,1532.0H2339.6M2356.1,1515.0V1531.2M2352.4,1515.0H2359.8M2352.4,1531.2H2359.8" stroke="#7f8182" stroke-width="1.15" fill="none"/>
<path d="M1568.3,1516.7 C1570.0,1516.0 1575.1,1514.6 1578.4,1512.6 C1581.7,1510.6 1584.8,1506.5 1587.9,1504.7 C1591.1,1502.9 1594.7,1501.0 1597.3,1501.5 C1599.9,1502.0 1601.5,1505.4 1603.6,1507.8 C1605.7,1510.2 1607.5,1514.0 1609.9,1515.7 C1612.3,1517.4 1615.4,1515.8 1617.8,1517.9 C1620.2,1520.0 1622.2,1525.5 1624.1,1528.3 C1625.9,1531.1 1627.1,1535.6 1628.9,1534.6 C1630.8,1533.5 1633.2,1525.2 1635.2,1522.0 C1637.2,1518.8 1639.1,1514.9 1640.9,1515.7 C1642.7,1516.5 1644.5,1523.6 1646.2,1526.7 C1647.9,1529.8 1649.3,1534.1 1650.9,1534.6 C1652.5,1535.1 1654.0,1531.0 1655.7,1529.9 C1657.4,1528.9 1659.2,1527.8 1661.0,1528.3 C1662.8,1528.8 1664.7,1532.2 1666.7,1533.0 C1668.7,1533.8 1670.9,1535.1 1673.0,1533.0 C1675.1,1530.9 1677.2,1525.7 1679.3,1520.4 C1681.4,1515.2 1683.5,1506.5 1685.6,1501.5 C1687.7,1496.5 1690.2,1489.5 1692.0,1490.5 C1693.8,1491.5 1695.1,1501.8 1696.7,1507.8 C1698.3,1513.8 1699.6,1522.8 1701.4,1526.7 C1703.2,1530.7 1705.1,1530.3 1707.7,1531.5 C1710.3,1532.7 1713.0,1533.5 1717.2,1534.0 C1721.4,1534.5 1728.7,1535.5 1733.0,1534.6 C1737.3,1533.6 1739.9,1528.8 1743.1,1528.3 C1746.2,1527.8 1749.4,1532.3 1751.9,1531.5 C1754.4,1530.7 1756.1,1525.8 1758.2,1523.6 C1760.3,1521.4 1762.4,1517.9 1764.5,1518.2 C1766.6,1518.5 1768.7,1523.0 1770.8,1525.2 C1772.9,1527.4 1774.7,1529.9 1777.1,1531.5 C1779.5,1533.1 1782.1,1535.1 1785.0,1534.6 C1787.9,1534.1 1791.3,1530.5 1794.5,1528.3 C1797.7,1526.0 1801.5,1521.1 1804.0,1521.1 C1806.5,1521.1 1807.7,1526.0 1809.3,1528.3 C1810.9,1530.5 1811.7,1535.4 1813.4,1534.6 C1815.1,1533.8 1817.6,1528.1 1819.7,1523.6 C1821.8,1519.1 1823.6,1509.4 1826.0,1507.8 C1828.4,1506.2 1831.8,1511.2 1833.9,1514.1 C1836.0,1517.0 1836.8,1522.0 1838.6,1525.2 C1840.4,1528.4 1842.6,1534.0 1844.7,1533.0 C1846.8,1532.0 1848.9,1523.1 1851.0,1518.9 C1853.1,1514.7 1855.0,1508.6 1857.4,1507.8 C1859.8,1507.0 1862.3,1511.7 1865.2,1514.1 C1868.1,1516.5 1871.3,1519.6 1874.7,1522.0 C1878.1,1524.4 1882.3,1526.7 1885.7,1528.3 C1889.1,1529.9 1891.8,1531.8 1895.2,1531.5 C1898.6,1531.2 1902.7,1530.4 1906.2,1526.7 C1909.7,1523.0 1913.6,1509.9 1916.3,1509.4 C1919.0,1508.9 1920.6,1519.9 1922.6,1523.6 C1924.6,1527.3 1925.8,1531.8 1928.3,1531.5 C1930.8,1531.2 1934.6,1523.6 1937.8,1522.0 C1941.0,1520.4 1944.1,1520.7 1947.3,1522.0 C1950.5,1523.3 1954.1,1530.2 1956.7,1529.9 C1959.3,1529.6 1961.2,1523.8 1963.0,1520.4 C1964.8,1517.0 1966.2,1509.4 1967.8,1509.4 C1969.4,1509.4 1970.8,1516.6 1972.5,1520.4 C1974.2,1524.2 1976.4,1534.0 1978.2,1532.4 C1980.0,1530.8 1981.7,1517.3 1983.5,1511.0 C1985.3,1504.7 1987.1,1494.3 1988.9,1494.3 C1990.8,1494.3 1992.6,1504.8 1994.6,1511.0 C1996.6,1517.2 1998.3,1528.3 2000.9,1531.5 C2003.5,1534.7 2007.2,1531.0 2010.3,1529.9 C2013.4,1528.9 2016.6,1524.4 2019.8,1525.2 C2023.0,1526.0 2025.9,1533.0 2029.3,1534.6 C2032.7,1536.2 2037.2,1536.7 2040.3,1534.6 C2043.4,1532.5 2046.1,1524.6 2048.2,1522.0 C2050.3,1519.4 2050.8,1518.1 2052.9,1518.9 C2055.0,1519.7 2057.9,1527.0 2060.8,1526.7 C2063.7,1526.4 2066.9,1522.0 2070.3,1517.3 C2073.7,1512.6 2078.2,1496.8 2081.3,1498.4 C2084.5,1500.0 2087.1,1520.7 2089.2,1526.7 C2091.3,1532.7 2091.9,1536.2 2094.0,1534.6 C2096.1,1533.0 2098.9,1517.3 2101.8,1517.3 C2104.7,1517.3 2107.9,1531.7 2111.3,1534.6 C2114.7,1537.5 2119.2,1536.7 2122.3,1534.6 C2125.4,1532.5 2128.1,1524.8 2130.0,1522.1 C2131.9,1519.3 2132.7,1517.7 2134.0,1518.1 C2135.3,1518.5 2136.4,1522.8 2137.9,1524.7 C2139.4,1526.6 2140.8,1529.7 2143.2,1529.5 C2145.6,1529.3 2149.1,1522.9 2152.4,1523.4 C2155.7,1523.9 2159.5,1532.5 2162.9,1532.6 C2166.3,1532.7 2169.2,1523.8 2172.7,1524.2 C2176.2,1524.7 2180.6,1536.5 2184.0,1535.3 C2187.4,1534.1 2189.9,1522.7 2193.2,1516.8 C2196.5,1510.9 2201.0,1499.2 2203.8,1499.7 C2206.7,1500.2 2208.1,1513.6 2210.3,1519.5 C2212.5,1525.4 2214.5,1534.4 2216.9,1535.3 C2219.3,1536.2 2221.9,1528.0 2224.8,1524.7 C2227.7,1521.4 2231.5,1514.6 2234.1,1515.5 C2236.7,1516.4 2238.6,1526.7 2240.6,1530.0 C2242.6,1533.3 2243.5,1536.6 2245.9,1535.3 C2248.3,1534.0 2251.9,1526.5 2255.1,1522.1 C2258.3,1517.7 2262.0,1508.0 2264.9,1508.9 C2267.8,1509.8 2270.2,1523.4 2272.3,1527.4 C2274.4,1531.5 2275.3,1533.2 2277.5,1533.2 C2279.7,1533.2 2282.6,1527.9 2285.4,1527.4 C2288.2,1526.9 2291.1,1533.5 2294.6,1530.0 C2298.1,1526.5 2303.0,1508.9 2306.5,1506.3 C2310.0,1503.7 2312.4,1515.3 2315.7,1514.2 C2319.0,1513.1 2323.5,1499.3 2326.3,1499.7 C2329.2,1500.1 2330.6,1511.3 2332.8,1516.8 C2335.0,1522.3 2337.2,1529.4 2339.4,1532.6 C2341.6,1535.8 2343.8,1536.2 2346.0,1535.8 C2348.2,1535.4 2350.6,1532.7 2352.6,1530.0 C2354.6,1527.3 2357.0,1521.2 2357.9,1519.5" stroke="#F0691F" stroke-width="4.0" fill="none" stroke-linejoin="round" stroke-linecap="round"/>
<path d="M1568.3,1324.9 C1569.5,1322.5 1572.8,1315.4 1575.2,1310.7 C1577.6,1306.0 1579.6,1303.1 1582.5,1296.5 C1585.4,1289.9 1589.3,1278.7 1592.6,1271.2 C1595.9,1263.7 1598.9,1259.1 1602.1,1251.7 C1605.2,1244.3 1608.6,1234.7 1611.5,1227.1 C1614.4,1219.5 1616.5,1213.8 1619.4,1205.9 C1622.3,1198.0 1626.2,1187.5 1628.9,1179.7 C1631.6,1171.9 1633.4,1166.6 1635.8,1159.2 C1638.2,1151.8 1640.6,1143.3 1643.1,1135.6 C1645.6,1127.9 1648.3,1120.8 1650.9,1112.9 C1653.5,1105.0 1656.0,1096.1 1658.8,1088.3 C1661.5,1080.5 1664.8,1073.6 1667.4,1066.2 C1670.0,1058.8 1671.7,1051.7 1674.6,1044.1 C1677.5,1036.5 1681.6,1028.3 1685.0,1020.4 C1688.4,1012.5 1691.3,1004.0 1695.1,996.8 C1698.9,989.6 1703.5,982.7 1707.7,977.2 C1711.9,971.7 1716.3,967.0 1720.3,963.7 C1724.2,960.4 1726.7,958.4 1731.4,957.4 C1736.1,956.4 1742.7,955.6 1748.7,958.0 C1754.8,960.4 1762.0,966.0 1767.7,971.5 C1773.4,977.0 1778.3,984.2 1782.8,991.1 C1787.3,998.0 1790.7,1005.4 1794.5,1012.6 C1798.3,1019.9 1802.1,1027.0 1805.5,1034.6 C1808.9,1042.2 1811.8,1050.7 1815.0,1058.3 C1818.2,1065.9 1821.5,1072.8 1824.4,1080.4 C1827.3,1088.0 1829.7,1096.3 1832.3,1104.0 C1834.9,1111.7 1837.2,1118.0 1840.1,1126.4 C1843.0,1134.8 1846.9,1146.7 1849.5,1154.5 C1852.1,1162.3 1853.4,1165.5 1855.8,1173.4 C1858.2,1181.3 1861.3,1194.0 1863.7,1201.8 C1866.1,1209.6 1867.6,1212.7 1870.0,1220.1 C1872.4,1227.5 1875.3,1238.1 1877.9,1246.0 C1880.5,1253.9 1883.1,1259.5 1885.7,1267.4 C1888.3,1275.3 1891.0,1285.7 1893.6,1293.3 C1896.2,1300.9 1898.6,1305.5 1901.5,1312.9 C1904.4,1320.3 1908.1,1329.8 1911.0,1337.5 C1913.9,1345.2 1915.8,1351.0 1918.9,1358.9 C1922.1,1366.8 1926.5,1377.3 1929.9,1384.8 C1933.3,1392.3 1936.0,1396.9 1939.4,1403.7 C1942.8,1410.5 1946.2,1418.7 1950.4,1425.8 C1954.6,1432.9 1959.9,1440.0 1964.6,1446.3 C1969.3,1452.6 1974.3,1458.6 1978.8,1463.6 C1983.3,1468.6 1987.7,1473.8 1991.4,1476.3 C1995.1,1478.8 1997.0,1478.5 2000.9,1478.8 C2004.9,1479.0 2010.4,1478.8 2015.1,1477.8 C2019.8,1476.8 2024.4,1475.5 2029.3,1473.1 C2034.2,1470.7 2039.2,1468.3 2044.4,1463.6 C2049.7,1458.9 2055.4,1451.0 2060.8,1444.7 C2066.2,1438.4 2071.9,1432.6 2076.6,1425.8 C2081.3,1419.0 2085.0,1410.8 2089.2,1403.7 C2093.4,1396.6 2098.1,1390.6 2101.8,1383.2 C2105.5,1375.8 2107.9,1367.0 2111.3,1359.6 C2114.7,1352.2 2119.2,1345.1 2122.3,1339.0 C2125.4,1332.9 2127.8,1328.2 2130.0,1323.2 C2132.2,1318.2 2133.6,1313.5 2135.3,1308.7 C2137.1,1303.9 2138.5,1299.5 2140.5,1294.2 C2142.5,1288.9 2145.1,1282.1 2147.1,1277.1 C2149.1,1272.0 2150.6,1268.7 2152.4,1263.9 C2154.2,1259.1 2155.7,1253.6 2157.7,1248.1 C2159.7,1242.6 2162.3,1236.0 2164.2,1231.0 C2166.1,1226.0 2167.2,1222.6 2169.0,1217.8 C2170.8,1213.0 2173.2,1207.3 2175.3,1202.0 C2177.4,1196.7 2179.5,1191.0 2181.4,1186.2 C2183.3,1181.4 2184.6,1178.0 2186.6,1173.0 C2188.6,1168.0 2191.0,1161.4 2193.2,1155.9 C2195.4,1150.4 2197.6,1145.1 2199.8,1140.1 C2202.0,1135.0 2204.1,1130.3 2206.4,1125.6 C2208.7,1120.9 2211.1,1116.5 2213.8,1111.7 C2216.5,1106.9 2219.8,1100.9 2222.7,1096.6 C2225.6,1092.3 2227.6,1089.6 2231.4,1086.1 C2235.2,1082.6 2240.1,1077.6 2245.4,1075.6 C2250.7,1073.6 2258.1,1073.3 2263.0,1074.2 C2267.9,1075.1 2270.7,1077.7 2274.9,1080.8 C2279.1,1083.9 2284.2,1088.3 2288.1,1092.7 C2292.0,1097.1 2295.4,1103.0 2298.6,1107.2 C2301.8,1111.4 2304.2,1113.3 2307.0,1117.7 C2309.8,1122.1 2312.7,1128.2 2315.7,1133.5 C2318.7,1138.8 2322.4,1144.7 2324.9,1149.3 C2327.4,1153.9 2328.5,1156.6 2330.7,1161.2 C2332.9,1165.8 2335.8,1171.7 2338.1,1177.0 C2340.4,1182.3 2343.2,1189.3 2344.7,1192.8 C2346.2,1196.3 2346.9,1197.2 2347.3,1198.1" stroke="#4368B6" stroke-width="4.2" fill="none" stroke-dasharray="12.6,18.4,0.1,17.8" stroke-linecap="round"/>
</g>
<text x="1383.4" y="1543.2" text-anchor="end" font-size="25.8">0</text>
<text x="1383.4" y="1438.5" text-anchor="end" font-size="25.8">1000</text>
<text x="1383.4" y="1333.9" text-anchor="end" font-size="25.8">2000</text>
<text x="1383.4" y="1229.2" text-anchor="end" font-size="25.8">3000</text>
<text x="1383.4" y="1124.5" text-anchor="end" font-size="25.8">4000</text>
<text x="1383.4" y="1019.9" text-anchor="end" font-size="25.8">5000</text>
<text x="1383.4" y="915.2" text-anchor="end" font-size="25.8">6000</text>
<text x="2409.2" y="1543.2" font-size="25.8">0</text>
<text x="2409.2" y="1453.5" font-size="25.8">0.1</text>
<text x="2409.2" y="1363.8" font-size="25.8">0.2</text>
<text x="2409.2" y="1274.1" font-size="25.8">0.3</text>
<text x="2409.2" y="1184.3" font-size="25.8">0.4</text>
<text x="2409.2" y="1094.6" font-size="25.8">0.5</text>
<text x="2409.2" y="1004.9" font-size="25.8">0.6</text>
<text x="2409.2" y="915.2" font-size="25.8">0.7</text>
<text x="1405.6" y="1574.5" text-anchor="middle" font-size="25.8">2/4/2020 18:00</text>
<text x="1651.0" y="1574.5" text-anchor="middle" font-size="25.8">2/5/2020 0:00</text>
<text x="1896.4" y="1574.5" text-anchor="middle" font-size="25.8">2/5/2020 6:00</text>
<text x="2141.8" y="1574.5" text-anchor="middle" font-size="25.8">2/5/2020 12:00</text>
<text x="2387.2" y="1574.5" text-anchor="middle" font-size="25.8">2/5/2020 18:00</text>
<text x="1896.5" y="1609.8" text-anchor="middle" font-size="26" font-weight="bold">Date (dd/mm/yy hh:mm)</text>
<text x="1890.2" y="875.2" text-anchor="middle" font-size="33.5">D) Ofu, Papaloloa Point, East, 40 m distance to shoreline</text>
<text x="1890.2" y="920.3" text-anchor="middle" font-size="33.5">(background levels - no advection)</text>
<text transform="translate(1275.1,1247.7) rotate(-90)" x="0" y="0" text-anchor="middle" dominant-baseline="central" font-size="26" font-weight="bold">222Rn ex</text>
<text transform="translate(2476.6,1227.7) rotate(-90)" x="0" y="0" text-anchor="middle" dominant-baseline="central" font-size="26" font-weight="bold">Water Level ( Tide )</text>
</g>
<g>
<clipPath id="clipE"><rect x="127.5" y="1723.0" width="1021.1" height="669.2"/></clipPath>
<path d="M147.5,1763.0V2391.0M1128.6,1763.0V2391.0M147.5,2391.0H1128.6M140.0,2391.0H147.5M140.0,2265.4H147.5M140.0,2139.8H147.5M140.0,2014.2H147.5M140.0,1888.6H147.5M140.0,1763.0H147.5M1128.6,2391.0H1136.1M1128.6,2286.3H1136.1M1128.6,2181.7H1136.1M1128.6,2077.0H1136.1M1128.6,1972.3H1136.1M1128.6,1867.7H1136.1M1128.6,1763.0H1136.1M148.2,2391.0V2398.5M475.4,2391.0V2398.5M802.6,2391.0V2398.5M1129.8,2391.0V2398.5" stroke="#868686" stroke-width="1.5" fill="none"/>
<g clip-path="url(#clipE)">
<path d="M223.5,2299.3V2321.7M219.8,2299.3H227.2M219.8,2321.7H227.2M230.3,2269.4V2298.2M226.6,2269.4H234.0M226.6,2298.2H234.0M237.0,2283.5V2309.2M233.3,2283.5H240.7M233.3,2309.2H240.7M243.8,2294.4V2317.8M240.1,2294.4H247.5M240.1,2317.8H247.5M250.6,2324.6V2341.5M246.9,2324.6H254.3M246.9,2341.5H254.3M257.4,2358.2V2367.9M253.7,2358.2H261.1M253.7,2367.9H261.1M264.1,2365.4V2373.6M260.4,2365.4H267.8M260.4,2373.6H267.8M270.9,2368.8V2376.3M267.2,2368.8H274.6M267.2,2376.3H274.6M277.7,2370.4V2377.5M274.0,2370.4H281.4M274.0,2377.5H281.4M284.4,2365.8V2373.8M280.7,2365.8H288.1M280.7,2373.8H288.1M291.2,2365.3V2373.5M287.5,2365.3H294.9M287.5,2373.5H294.9M298.0,2374.6V2380.8M294.3,2374.6H301.7M294.3,2380.8H301.7M304.7,2367.9V2375.6M301.0,2367.9H308.4M301.0,2375.6H308.4M311.5,2376.0V2381.9M307.8,2376.0H315.2M307.8,2381.9H315.2M318.3,2370.3V2377.4M314.6,2370.3H322.0M314.6,2377.4H322.0M325.0,2364.0V2372.5M321.3,2364.0H328.7M321.3,2372.5H328.7M331.8,2357.5V2367.4M328.1,2357.5H335.5M328.1,2367.4H335.5M338.6,2335.0V2349.7M334.9,2335.0H342.3M334.9,2349.7H342.3M345.4,2332.5V2347.7M341.7,2332.5H349.1M341.7,2347.7H349.1M352.1,2299.2V2321.6M348.4,2299.2H355.8M348.4,2321.6H355.8M358.9,2267.3V2296.5M355.2,2267.3H362.6M355.2,2296.5H362.6M365.7,2239.6V2274.7M362.0,2239.6H369.4M362.0,2274.7H369.4M372.4,2254.5V2286.4M368.7,2254.5H376.1M368.7,2286.4H376.1M379.2,2247.5V2281.0M375.5,2247.5H382.9M375.5,2281.0H382.9M386.0,2219.8V2259.2M382.3,2219.8H389.7M382.3,2259.2H389.7M392.7,2196.9V2241.2M389.0,2196.9H396.4M389.0,2241.2H396.4M399.5,2175.8V2224.6M395.8,2175.8H403.2M395.8,2224.6H403.2M406.3,2140.6V2196.9M402.6,2140.6H410.0M402.6,2196.9H410.0M413.1,2173.5V2222.8M409.4,2173.5H416.8M409.4,2222.8H416.8M419.8,2088.4V2155.9M416.1,2088.4H423.5M416.1,2155.9H423.5M426.6,2080.4V2149.6M422.9,2080.4H430.3M422.9,2149.6H430.3M433.4,2058.8V2132.7M429.7,2058.8H437.1M429.7,2132.7H437.1M440.1,1999.0V2085.6M436.4,1999.0H443.8M436.4,2085.6H443.8M446.9,2027.4V2108.0M443.2,2027.4H450.6M443.2,2108.0H450.6M453.7,2055.2V2129.9M450.0,2055.2H457.4M450.0,2129.9H457.4M460.4,1995.2V2082.7M456.7,1995.2H464.1M456.7,2082.7H464.1M467.2,1998.3V2085.1M463.5,1998.3H470.9M463.5,2085.1H470.9M474.0,1973.5V2065.7M470.3,1973.5H477.7M470.3,2065.7H477.7M480.8,1976.2V2067.8M477.1,1976.2H484.5M477.1,2067.8H484.5M487.5,1978.8V2069.8M483.8,1978.8H491.2M483.8,2069.8H491.2M494.3,2010.7V2094.9M490.6,2010.7H498.0M490.6,2094.9H498.0M501.1,2013.0V2096.7M497.4,2013.0H504.8M497.4,2096.7H504.8M507.8,1999.3V2085.9M504.1,1999.3H511.5M504.1,2085.9H511.5M514.6,2035.1V2114.0M510.9,2035.1H518.3M510.9,2114.0H518.3M521.4,2108.4V2171.6M517.7,2108.4H525.1M517.7,2171.6H525.1M528.1,2154.8V2208.1M524.4,2154.8H531.8M524.4,2208.1H531.8M534.9,2193.6V2238.6M531.2,2193.6H538.6M531.2,2238.6H538.6M541.7,2245.4V2279.3M538.0,2245.4H545.4M538.0,2279.3H545.4M548.5,2247.4V2280.9M544.8,2247.4H552.2M544.8,2280.9H552.2M555.2,2264.9V2294.6M551.5,2264.9H558.9M551.5,2294.6H558.9M562.0,2307.6V2328.2M558.3,2307.6H565.7M558.3,2328.2H565.7M568.8,2338.7V2352.6M565.1,2338.7H572.5M565.1,2352.6H572.5M575.5,2342.4V2355.5M571.8,2342.4H579.2M571.8,2355.5H579.2M582.3,2349.8V2361.3M578.6,2349.8H586.0M578.6,2361.3H586.0M589.1,2352.8V2363.7M585.4,2352.8H592.8M585.4,2363.7H592.8M595.8,2351.9V2363.0M592.1,2351.9H599.5M592.1,2363.0H599.5M602.6,2356.2V2366.3M598.9,2356.2H606.3M598.9,2366.3H606.3M609.4,2362.5V2371.3M605.7,2362.5H613.1M605.7,2371.3H613.1M616.2,2364.5V2372.8M612.5,2364.5H619.9M612.5,2372.8H619.9M622.9,2359.4V2368.8M619.2,2359.4H626.6M619.2,2368.8H626.6M629.7,2349.2V2360.9M626.0,2349.2H633.4M626.0,2360.9H633.4M636.5,2348.5V2360.3M632.8,2348.5H640.2M632.8,2360.3H640.2M643.2,2351.6V2362.7M639.5,2351.6H646.9M639.5,2362.7H646.9M650.0,2346.7V2358.8M646.3,2346.7H653.7M646.3,2358.8H653.7M656.8,2342.9V2355.9M653.1,2342.9H660.5M653.1,2355.9H660.5M663.5,2341.5V2354.8M659.8,2341.5H667.2M659.8,2354.8H667.2M670.3,2332.3V2347.6M666.6,2332.3H674.0M666.6,2347.6H674.0M677.1,2293.5V2317.0M673.4,2293.5H680.8M673.4,2317.0H680.8M683.9,2264.8V2294.6M680.2,2264.8H687.6M680.2,2294.6H687.6M690.6,2235.0V2271.1M686.9,2235.0H694.3M686.9,2271.1H694.3M697.4,2178.2V2226.5M693.7,2178.2H701.1M693.7,2226.5H701.1M704.2,2170.8V2220.6M700.5,2170.8H707.9M700.5,2220.6H707.9M710.9,2169.0V2219.2M707.2,2169.0H714.6M707.2,2219.2H714.6M717.7,2158.1V2210.7M714.0,2158.1H721.4M714.0,2210.7H721.4M724.5,2161.0V2212.9M720.8,2161.0H728.2M720.8,2212.9H728.2M731.2,2143.4V2199.1M727.5,2143.4H734.9M727.5,2199.1H734.9M738.0,2119.4V2180.3M734.3,2119.4H741.7M734.3,2180.3H741.7M744.8,2114.8V2176.7M741.1,2114.8H748.5M741.1,2176.7H748.5M751.6,2121.3V2181.7M747.9,2121.3H755.3M747.9,2181.7H755.3M758.3,2077.4V2147.3M754.6,2077.4H762.0M754.6,2147.3H762.0M765.1,1976.1V2067.7M761.4,1976.1H768.8M761.4,2067.7H768.8M771.9,2012.9V2096.6M768.2,2012.9H775.6M768.2,2096.6H775.6M778.6,2000.5V2086.8M774.9,2000.5H782.3M774.9,2086.8H782.3M785.4,1920.8V2024.3M781.7,1920.8H789.1M781.7,2024.3H789.1M792.2,1894.9V2003.9M788.5,1894.9H795.9M788.5,2003.9H795.9M798.9,1894.1V2003.3M795.2,1894.1H802.6M795.2,2003.3H802.6M805.7,1882.4V1994.1M802.0,1882.4H809.4M802.0,1994.1H809.4M812.5,1855.3V1972.7M808.8,1855.3H816.2M808.8,1972.7H816.2M819.3,1833.2V1955.4M815.6,1833.2H823.0M815.6,1955.4H823.0M826.0,1788.9V1920.6M822.3,1788.9H829.7M822.3,1920.6H829.7M832.8,1803.0V1931.7M829.1,1803.0H836.5M829.1,1931.7H836.5M839.6,1920.7V2024.1M835.9,1920.7H843.3M835.9,2024.1H843.3M846.3,1972.1V2064.6M842.6,1972.1H850.0M842.6,2064.6H850.0M853.1,1964.0V2058.2M849.4,1964.0H856.8M849.4,2058.2H856.8M859.9,2010.6V2094.8M856.2,2010.6H863.6M856.2,2094.8H863.6M866.6,2026.2V2107.1M862.9,2026.2H870.3M862.9,2107.1H870.3M873.4,2084.1V2152.6M869.7,2084.1H877.1M869.7,2152.6H877.1M880.2,2098.5V2163.8M876.5,2098.5H883.9M876.5,2163.8H883.9M887.0,2120.2V2180.9M883.3,2120.2H890.7M883.3,2180.9H890.7M893.7,2132.8V2190.8M890.0,2132.8H897.4M890.0,2190.8H897.4M900.5,2169.8V2219.8M896.8,2169.8H904.2M896.8,2219.8H904.2M907.3,2197.6V2241.7M903.6,2197.6H911.0M903.6,2241.7H911.0M914.0,2223.6V2262.1M910.3,2223.6H917.7M910.3,2262.1H917.7M920.8,2264.2V2294.0M917.1,2264.2H924.5M917.1,2294.0H924.5M927.6,2295.3V2318.5M923.9,2295.3H931.3M923.9,2318.5H931.3M934.3,2319.9V2337.8M930.6,2319.9H938.0M930.6,2337.8H938.0M941.1,2328.3V2344.4M937.4,2328.3H944.8M937.4,2344.4H944.8M947.9,2315.2V2334.2M944.2,2315.2H951.6M944.2,2334.2H951.6M954.7,2345.3V2357.8M951.0,2345.3H958.4M951.0,2357.8H958.4M961.4,2335.1V2349.7M957.7,2335.1H965.1M957.7,2349.7H965.1M968.2,2340.6V2354.1M964.5,2340.6H971.9M964.5,2354.1H971.9M975.0,2343.1V2356.1M971.3,2343.1H978.7M971.3,2356.1H978.7M981.7,2345.6V2358.0M978.0,2345.6H985.4M978.0,2358.0H985.4M988.5,2346.0V2358.3M984.8,2346.0H992.2M984.8,2358.3H992.2M995.3,2341.5V2354.8M991.6,2341.5H999.0M991.6,2354.8H999.0M1002.0,2344.8V2357.4M998.3,2344.8H1005.7M998.3,2357.4H1005.7M1008.8,2344.8V2357.4M1005.1,2344.8H1012.5M1005.1,2357.4H1012.5" stroke="#7f8182" stroke-width="1.15" fill="none"/>
<path d="M223.5,2310.5 C224.1,2307.4 226.1,2296.7 227.3,2291.9 C228.6,2287.1 229.8,2281.8 231.0,2281.8 C232.2,2281.8 233.1,2289.0 234.4,2291.9 C235.7,2294.8 237.3,2297.2 238.7,2299.1 C240.1,2301.0 241.6,2300.3 243.0,2303.4 C244.4,2306.5 245.9,2312.0 247.3,2317.7 C248.7,2323.4 250.2,2330.6 251.6,2337.8 C253.0,2345.0 254.6,2355.8 256.0,2360.8 C257.4,2365.8 258.4,2366.3 260.3,2368.0 C262.2,2369.7 264.8,2369.6 267.4,2370.8 C270.0,2372.0 273.4,2375.2 276.0,2375.1 C278.6,2375.0 280.8,2371.1 283.2,2370.0 C285.6,2368.9 288.5,2368.4 290.4,2368.8 C292.3,2369.2 293.3,2370.4 294.7,2372.2 C296.1,2374.0 297.3,2379.5 299.0,2379.4 C300.7,2379.3 302.6,2371.7 304.7,2371.7 C306.8,2371.7 309.8,2378.9 311.9,2379.4 C314.0,2379.9 315.7,2376.3 317.6,2374.5 C319.5,2372.7 321.2,2370.1 323.4,2368.8 C325.6,2367.5 328.7,2369.3 330.6,2366.5 C332.5,2363.7 333.5,2356.5 334.9,2352.2 C336.3,2347.9 337.5,2342.4 339.2,2340.7 C340.9,2339.0 343.2,2345.0 344.9,2342.1 C346.6,2339.2 347.5,2330.9 349.2,2323.5 C350.9,2316.1 353.1,2305.7 355.0,2297.6 C356.9,2289.5 358.8,2281.9 360.7,2274.7 C362.6,2267.5 364.7,2255.6 366.4,2254.6 C368.1,2253.6 369.2,2265.8 370.7,2268.9 C372.2,2272.0 373.9,2274.6 375.6,2273.2 C377.3,2271.8 379.0,2266.3 380.8,2260.3 C382.6,2254.3 384.6,2244.1 386.5,2237.4 C388.4,2230.7 390.4,2225.5 392.3,2220.2 C394.2,2214.9 396.3,2210.8 398.0,2205.8 C399.7,2200.8 400.9,2196.4 402.3,2190.0 C403.7,2183.6 405.2,2168.8 406.6,2167.1 C408.0,2165.4 409.7,2173.8 410.9,2180.0 C412.1,2186.2 412.9,2205.8 413.8,2204.4 C414.8,2203.0 415.7,2185.0 416.6,2171.4 C417.6,2157.8 418.3,2131.7 419.5,2122.6 C420.7,2113.5 422.4,2118.3 423.8,2116.9 C425.2,2115.5 426.4,2117.8 428.1,2114.0 C429.8,2110.2 432.3,2102.5 433.9,2093.9 C435.5,2085.3 436.3,2072.8 437.6,2062.3 C438.9,2051.8 440.3,2032.2 441.6,2030.8 C442.9,2029.4 444.0,2043.7 445.3,2053.7 C446.6,2063.7 448.2,2084.5 449.6,2091.0 C451.0,2097.5 452.4,2098.3 453.8,2092.6 C455.2,2086.9 456.4,2067.8 457.8,2056.6 C459.2,2045.4 460.7,2026.9 462.5,2025.3 C464.3,2023.7 467.1,2047.2 468.8,2047.2 C470.5,2047.2 471.2,2031.6 472.5,2025.3 C473.8,2019.0 474.9,2009.1 476.6,2009.6 C478.3,2010.1 481.0,2026.1 482.9,2028.4 C484.8,2030.8 486.5,2020.6 488.2,2023.7 C489.9,2026.8 491.8,2040.2 493.2,2047.2 C494.6,2054.2 495.5,2065.0 496.9,2066.0 C498.3,2067.0 499.6,2057.6 501.6,2053.4 C503.6,2049.2 506.7,2038.3 508.8,2040.9 C510.9,2043.5 512.5,2057.1 514.1,2069.1 C515.7,2081.1 516.8,2099.3 518.2,2112.9 C519.6,2126.5 520.9,2138.9 522.6,2150.4 C524.3,2161.9 526.2,2171.3 528.2,2181.7 C530.2,2192.1 532.7,2202.1 534.5,2213.0 C536.3,2223.9 537.6,2237.0 539.2,2247.4 C540.8,2257.8 542.1,2273.5 543.9,2275.6 C545.7,2277.7 548.1,2258.9 550.1,2260.0 C552.1,2261.1 554.0,2273.1 555.8,2281.9 C557.6,2290.8 559.4,2303.7 561.1,2313.1 C562.8,2322.5 564.0,2331.4 565.8,2338.2 C567.6,2345.0 570.0,2352.5 572.0,2353.8 C574.0,2355.1 575.5,2344.7 577.7,2346.0 C579.9,2347.3 582.8,2360.0 585.2,2361.6 C587.7,2363.2 589.9,2355.7 592.4,2355.4 C594.9,2355.1 597.9,2358.7 600.2,2360.0 C602.5,2361.3 604.3,2361.4 606.4,2363.2 C608.5,2365.0 610.4,2370.6 612.7,2371.0 C615.1,2371.4 618.1,2367.3 620.5,2365.7 C622.9,2364.1 624.7,2364.6 626.8,2361.6 C628.9,2358.6 630.9,2347.9 633.0,2347.6 C635.1,2347.3 637.2,2358.7 639.3,2360.0 C641.4,2361.3 643.2,2357.0 645.6,2355.4 C648.0,2353.8 650.8,2352.0 653.4,2350.7 C656.0,2349.4 658.9,2347.9 661.2,2347.6 C663.6,2347.3 665.6,2351.7 667.5,2349.1 C669.4,2346.5 671.2,2338.9 672.8,2331.9 C674.3,2324.9 675.3,2315.5 676.8,2306.9 C678.2,2298.3 679.7,2285.0 681.5,2280.3 C683.3,2275.6 686.1,2284.7 687.8,2278.7 C689.5,2272.7 690.3,2256.3 691.6,2244.3 C692.9,2232.3 693.9,2215.7 695.6,2206.8 C697.3,2197.9 699.8,2191.6 701.9,2191.1 C704.0,2190.6 706.3,2204.3 708.1,2203.7 C709.9,2203.1 711.3,2190.7 712.9,2187.5 C714.5,2184.3 715.6,2184.3 717.8,2184.3 C720.0,2184.3 723.5,2190.2 725.9,2187.5 C728.3,2184.8 729.9,2175.7 732.3,2168.1 C734.7,2160.5 737.7,2145.4 740.4,2142.2 C743.1,2139.0 746.0,2146.5 748.5,2148.7 C751.0,2150.9 753.9,2162.8 755.6,2155.2 C757.3,2147.6 757.9,2122.8 758.9,2103.4 C759.9,2084.0 760.5,2053.0 761.4,2038.7 C762.2,2024.4 762.6,2017.7 764.0,2017.7 C765.4,2017.7 767.7,2029.0 769.5,2038.7 C771.3,2048.4 773.4,2075.9 775.0,2075.9 C776.6,2075.9 778.0,2053.0 779.2,2038.7 C780.5,2024.4 781.1,2003.1 782.5,1990.2 C783.9,1977.3 785.1,1969.2 787.3,1961.1 C789.4,1953.0 792.8,1942.5 795.4,1941.7 C798.0,1940.9 800.6,1959.5 802.8,1956.3 C804.9,1953.1 806.6,1929.6 808.3,1922.3 C810.0,1915.0 811.7,1914.2 813.2,1912.6 C814.7,1911.0 815.8,1918.5 817.1,1912.6 C818.5,1906.7 819.8,1886.7 821.3,1877.0 C822.8,1867.3 824.6,1859.8 826.1,1854.4 C827.6,1849.0 828.8,1841.5 830.0,1844.7 C831.2,1847.9 832.4,1857.6 833.6,1873.8 C834.9,1890.0 836.0,1918.5 837.5,1941.7 C839.0,1964.9 840.8,2000.0 842.3,2012.9 C843.8,2025.8 844.9,2023.1 846.2,2019.3 C847.6,2015.5 849.0,1989.7 850.4,1990.2 C851.8,1990.8 853.2,2011.3 854.6,2022.6 C856.0,2033.9 856.9,2055.9 858.5,2058.1 C860.1,2060.2 862.7,2030.7 864.3,2035.5 C865.9,2040.3 866.9,2073.4 868.2,2087.2 C869.5,2100.9 870.5,2112.6 872.1,2118.0 C873.7,2123.4 875.9,2113.9 877.9,2119.6 C879.9,2125.2 882.1,2147.1 884.3,2151.9 C886.4,2156.8 888.6,2144.4 890.8,2148.7 C893.0,2153.0 895.1,2167.3 897.3,2177.8 C899.4,2188.3 901.3,2203.2 903.7,2211.8 C906.1,2220.4 909.6,2221.8 911.8,2229.6 C914.0,2237.4 914.8,2248.4 916.7,2258.6 C918.6,2268.8 920.8,2280.8 923.2,2291.0 C925.6,2301.2 928.5,2311.5 931.2,2320.1 C933.9,2328.7 936.7,2343.2 939.3,2342.7 C941.9,2342.2 944.8,2317.7 946.6,2317.1 C948.4,2316.5 949.1,2332.8 950.3,2338.9 C951.5,2345.0 952.5,2352.5 953.6,2353.8 C954.7,2355.2 955.7,2349.0 956.8,2347.0 C957.9,2345.0 958.7,2341.6 960.4,2341.6 C962.1,2341.6 964.7,2345.7 967.2,2347.0 C969.7,2348.3 972.8,2348.9 975.3,2349.7 C977.8,2350.5 980.1,2351.3 982.1,2351.9 C984.1,2352.5 985.5,2353.7 987.5,2353.0 C989.5,2352.3 992.3,2347.8 994.3,2347.5 C996.3,2347.2 997.2,2350.5 999.7,2351.1 C1002.2,2351.7 1007.6,2351.1 1009.2,2351.1" stroke="#F0691F" stroke-width="4.0" fill="none" stroke-linejoin="round" stroke-linecap="round"/>
<path d="M225.3,1926.0 C226.1,1925.0 228.1,1921.8 230.1,1920.3 C232.1,1918.8 234.7,1917.4 237.3,1916.9 C239.9,1916.4 242.6,1916.4 245.9,1917.4 C249.2,1918.5 253.8,1921.1 257.4,1923.2 C261.0,1925.3 264.0,1927.2 267.4,1930.3 C270.8,1933.4 274.4,1937.5 277.5,1941.8 C280.6,1946.1 283.2,1950.9 286.1,1956.2 C289.0,1961.5 292.1,1967.7 294.7,1973.4 C297.3,1979.1 299.5,1984.4 301.9,1990.6 C304.3,1996.8 306.6,2004.0 309.0,2010.7 C311.4,2017.4 313.8,2024.1 316.2,2030.8 C318.6,2037.5 321.0,2044.2 323.4,2050.9 C325.8,2057.6 328.2,2064.2 330.6,2070.9 C333.0,2077.6 335.1,2084.3 337.7,2091.0 C340.3,2097.7 343.4,2104.4 346.3,2111.1 C349.2,2117.8 352.0,2125.0 354.9,2131.2 C357.8,2137.4 360.7,2142.7 363.6,2148.4 C366.5,2154.1 369.1,2160.3 372.2,2165.6 C375.3,2170.9 378.8,2175.4 382.2,2180.0 C385.6,2184.6 388.7,2189.2 392.3,2192.9 C395.9,2196.6 400.1,2200.0 403.7,2202.4 C407.3,2204.8 410.4,2206.5 413.8,2207.2 C417.2,2207.9 420.5,2207.6 423.8,2206.4 C427.1,2205.2 430.5,2203.6 433.9,2200.1 C437.2,2196.6 440.8,2191.0 443.9,2185.7 C447.0,2180.4 449.9,2174.4 452.5,2168.5 C455.1,2162.6 456.7,2157.6 459.4,2150.4 C462.1,2143.2 465.4,2134.3 468.8,2125.4 C472.2,2116.5 476.3,2106.6 479.7,2097.2 C483.1,2087.8 486.0,2079.0 489.1,2069.1 C492.2,2059.2 495.6,2048.2 498.5,2037.8 C501.4,2027.4 503.9,2015.9 506.3,2006.5 C508.7,1997.1 510.2,1990.9 512.6,1981.5 C515.0,1972.1 518.0,1960.1 520.4,1950.2 C522.8,1940.3 524.6,1930.3 526.7,1922.0 C528.8,1913.7 530.6,1906.9 532.9,1900.1 C535.2,1893.3 537.8,1887.9 540.7,1881.4 C543.6,1874.9 547.2,1867.0 550.1,1861.0 C553.0,1855.0 555.0,1850.1 557.9,1845.4 C560.8,1840.7 564.2,1836.3 567.3,1832.9 C570.4,1829.5 573.3,1826.0 576.7,1825.0 C580.1,1824.0 584.1,1824.5 587.7,1826.6 C591.4,1828.7 594.7,1833.1 598.6,1837.5 C602.5,1841.9 607.2,1848.2 611.1,1853.2 C615.0,1858.2 618.7,1862.6 622.1,1867.3 C625.5,1872.0 628.6,1876.5 631.5,1881.4 C634.4,1886.4 636.9,1891.3 639.3,1897.0 C641.6,1902.7 643.5,1909.0 645.6,1915.8 C647.7,1922.6 649.7,1929.4 651.8,1937.7 C653.9,1946.0 656.0,1956.4 658.1,1965.8 C660.2,1975.2 662.2,1985.7 664.3,1994.0 C666.4,2002.3 668.5,2009.1 670.6,2015.9 C672.7,2022.7 674.7,2027.9 676.8,2034.7 C678.9,2041.5 681.0,2049.8 683.1,2056.6 C685.2,2063.4 687.0,2069.1 689.4,2075.3 C691.8,2081.6 694.4,2086.2 697.2,2094.1 C700.1,2102.0 703.6,2113.7 706.5,2122.8 C709.4,2131.9 711.6,2140.1 714.6,2148.7 C717.6,2157.3 720.8,2166.5 724.3,2174.6 C727.8,2182.7 731.6,2190.7 735.6,2197.2 C739.6,2203.7 743.6,2209.6 748.5,2213.4 C753.4,2217.2 759.9,2220.1 764.7,2219.8 C769.6,2219.5 773.3,2215.8 777.6,2211.8 C781.9,2207.8 786.3,2202.9 790.6,2195.6 C794.9,2188.3 799.7,2177.0 803.5,2168.1 C807.3,2159.2 810.0,2151.4 813.2,2142.2 C816.4,2133.0 819.7,2123.1 822.9,2113.1 C826.1,2103.1 829.4,2092.6 832.6,2082.4 C835.8,2072.2 839.3,2061.7 842.3,2051.7 C845.3,2041.7 847.7,2031.2 850.4,2022.6 C853.1,2014.0 855.8,2007.5 858.5,1999.9 C861.2,1992.4 863.6,1985.4 866.6,1977.3 C869.6,1969.2 873.1,1959.5 876.3,1951.4 C879.5,1943.3 882.5,1936.9 886.0,1928.8 C889.5,1920.7 893.8,1911.5 897.3,1902.9 C900.8,1894.3 904.0,1884.5 907.0,1877.0 C910.0,1869.5 911.9,1862.4 915.1,1857.6 C918.3,1852.8 922.9,1849.0 926.4,1847.9 C929.9,1846.8 932.3,1847.7 936.1,1851.2 C939.9,1854.7 945.2,1862.1 949.0,1868.9 C952.8,1875.7 956.4,1886.1 959.0,1892.2 C961.6,1898.3 962.4,1898.8 964.4,1905.8 C966.4,1912.8 968.7,1924.6 971.2,1934.3 C973.7,1944.0 976.7,1954.2 979.4,1964.2 C982.1,1974.2 985.0,1985.9 987.5,1994.0 C990.0,2002.1 992.7,2008.5 994.3,2013.0 C995.9,2017.5 996.5,2019.8 997.0,2021.2" stroke="#4368B6" stroke-width="4.2" fill="none" stroke-dasharray="13,18.3" stroke-linecap="round"/>
</g>
<text x="125.1" y="2398.7" text-anchor="end" font-size="25.8">0</text>
<text x="125.1" y="2273.1" text-anchor="end" font-size="25.8">5000</text>
<text x="125.1" y="2147.5" text-anchor="end" font-size="25.8">10000</text>
<text x="125.1" y="2021.9" text-anchor="end" font-size="25.8">15000</text>
<text x="125.1" y="1896.3" text-anchor="end" font-size="25.8">20000</text>
<text x="125.1" y="1770.7" text-anchor="end" font-size="25.8">25000</text>
<text x="1150.6" y="2398.7" font-size="25.8">0</text>
<text x="1150.6" y="2294.0" font-size="25.8">0.2</text>
<text x="1150.6" y="2189.4" font-size="25.8">0.4</text>
<text x="1150.6" y="2084.7" font-size="25.8">0.6</text>
<text x="1150.6" y="1980.0" font-size="25.8">0.8</text>
<text x="1150.6" y="1875.4" font-size="25.8">1</text>
<text x="1150.6" y="1770.7" font-size="25.8">1.2</text>
<text x="148.2" y="2430.0" text-anchor="middle" font-size="25.8">2/6/2020 12:00</text>
<text x="475.4" y="2430.0" text-anchor="middle" font-size="25.8">2/7/2020 0:00</text>
<text x="802.6" y="2430.0" text-anchor="middle" font-size="25.8">2/7/2020 12:00</text>
<text x="1129.8" y="2430.0" text-anchor="middle" font-size="25.8">2/8/2020 0:00</text>
<text x="638.0" y="2465.3" text-anchor="middle" font-size="26" font-weight="bold">Date (dd/mm/yy hh:mm)</text>
<text x="637.8" y="1723.0" text-anchor="middle" font-size="33.5">E) Ofu, Fattuana Point, 3 m distance to shoreline</text>
<text x="637.8" y="1769.0" text-anchor="middle" font-size="33.5">(Mean SGD advection rate 0.07 - 0.13 m/d)</text>
<text transform="translate(17.7,2103.2) rotate(-90)" x="0" y="0" text-anchor="middle" dominant-baseline="central" font-size="26" font-weight="bold">222Rn ex</text>
<text transform="translate(1220.6,2133.9) rotate(-90)" x="0" y="0" text-anchor="middle" dominant-baseline="central" font-size="26" font-weight="bold">Water Level ( Tide + Waves)</text>
</g>
<g>
<clipPath id="clipF"><rect x="1385.9" y="1723.0" width="1021.2" height="668.8"/></clipPath>
<path d="M1405.9,1763.0V2390.6M2387.1,1763.0V2390.6M1405.9,2390.6H2387.1M1398.4,2390.6H1405.9M1398.4,2286.0H1405.9M1398.4,2181.4H1405.9M1398.4,2076.8H1405.9M1398.4,1972.2H1405.9M1398.4,1867.6H1405.9M1398.4,1763.0H1405.9M2387.1,2390.6H2394.6M2387.1,2286.0H2394.6M2387.1,2181.4H2394.6M2387.1,2076.8H2394.6M2387.1,1972.2H2394.6M2387.1,1867.6H2394.6M2387.1,1763.0H2394.6M1406.2,2390.6V2398.1M1686.4,2390.6V2398.1M1966.6,2390.6V2398.1M2246.8,2390.6V2398.1" stroke="#868686" stroke-width="1.5" fill="none"/>
<g clip-path="url(#clipF)">
<path d="M1493.0,2263.5V2294.3M1489.3,2263.5H1496.7M1489.3,2294.3H1496.7M1499.0,2167.7V2219.1M1495.3,2167.7H1502.7M1495.3,2219.1H1502.7M1504.9,2156.3V2210.1M1501.2,2156.3H1508.6M1501.2,2210.1H1508.6M1510.9,2160.9V2213.7M1507.2,2160.9H1514.6M1507.2,2213.7H1514.6M1516.9,2076.8V2147.6M1513.2,2076.8H1520.6M1513.2,2147.6H1520.6M1522.9,2080.5V2150.5M1519.2,2080.5H1526.6M1519.2,2150.5H1526.6M1528.8,2081.4V2151.2M1525.1,2081.4H1532.5M1525.1,2151.2H1532.5M1534.8,2083.9V2153.2M1531.1,2083.9H1538.5M1531.1,2153.2H1538.5M1540.8,2053.6V2129.3M1537.1,2053.6H1544.5M1537.1,2129.3H1544.5M1546.7,2077.0V2147.8M1543.0,2077.0H1550.4M1543.0,2147.8H1550.4M1552.7,2121.8V2182.9M1549.0,2121.8H1556.4M1549.0,2182.9H1556.4M1558.7,2157.9V2211.4M1555.0,2157.9H1562.4M1555.0,2211.4H1562.4M1564.6,2118.3V2180.2M1560.9,2118.3H1568.3M1560.9,2180.2H1568.3M1570.6,1978.5V2070.4M1566.9,1978.5H1574.3M1566.9,2070.4H1574.3M1576.6,1958.5V2054.6M1572.9,1958.5H1580.3M1572.9,2054.6H1580.3M1582.6,1937.5V2038.2M1578.9,1937.5H1586.3M1578.9,2038.2H1586.3M1588.5,1999.3V2086.7M1584.8,1999.3H1592.2M1584.8,2086.7H1592.2M1594.5,2070.6V2142.8M1590.8,2070.6H1598.2M1590.8,2142.8H1598.2M1600.5,2118.2V2180.1M1596.8,2118.2H1604.2M1596.8,2180.1H1604.2M1606.4,2150.5V2205.5M1602.7,2150.5H1610.1M1602.7,2205.5H1610.1M1612.4,2166.4V2218.0M1608.7,2166.4H1616.1M1608.7,2218.0H1616.1M1618.4,2202.5V2246.4M1614.7,2202.5H1622.1M1614.7,2246.4H1622.1M1624.3,2251.3V2284.7M1620.6,2251.3H1628.0M1620.6,2284.7H1628.0M1630.3,2306.5V2328.1M1626.6,2306.5H1634.0M1626.6,2328.1H1634.0M1636.3,2340.6V2354.9M1632.6,2340.6H1640.0M1632.6,2354.9H1640.0M1642.3,2348.6V2361.2M1638.6,2348.6H1646.0M1638.6,2361.2H1646.0M1648.2,2376.9V2383.4M1644.5,2376.9H1651.9M1644.5,2383.4H1651.9M1654.2,2383.6V2388.7M1650.5,2383.6H1657.9M1650.5,2388.7H1657.9M1660.2,2368.9V2377.1M1656.5,2368.9H1663.9M1656.5,2377.1H1663.9M1666.1,2370.8V2378.6M1662.4,2370.8H1669.8M1662.4,2378.6H1669.8M1672.1,2370.5V2378.4M1668.4,2370.5H1675.8M1668.4,2378.4H1675.8M1678.1,2375.6V2382.4M1674.4,2375.6H1681.8M1674.4,2382.4H1681.8M1684.0,2378.3V2384.5M1680.3,2378.3H1687.7M1680.3,2384.5H1687.7M1690.0,2377.7V2384.1M1686.3,2377.7H1693.7M1686.3,2384.1H1693.7M1696.0,2374.2V2381.3M1692.3,2374.2H1699.7M1692.3,2381.3H1699.7M1702.0,2380.6V2386.3M1698.3,2380.6H1705.7M1698.3,2386.3H1705.7M1707.9,2367.4V2376.0M1704.2,2367.4H1711.6M1704.2,2376.0H1711.6M1713.9,2354.6V2365.9M1710.2,2354.6H1717.6M1710.2,2365.9H1717.6M1719.9,2352.3V2364.1M1716.2,2352.3H1723.6M1716.2,2364.1H1723.6M1725.8,2336.3V2351.5M1722.1,2336.3H1729.5M1722.1,2351.5H1729.5M1731.8,2270.3V2299.7M1728.1,2270.3H1735.5M1728.1,2299.7H1735.5M1737.8,2285.5V2311.6M1734.1,2285.5H1741.5M1734.1,2311.6H1741.5M1743.7,2317.7V2336.9M1740.0,2317.7H1747.4M1740.0,2336.9H1747.4M1749.7,2228.4V2266.7M1746.0,2228.4H1753.4M1746.0,2266.7H1753.4M1755.7,2217.8V2258.4M1752.0,2217.8H1759.4M1752.0,2258.4H1759.4M1761.7,2224.5V2263.6M1758.0,2224.5H1765.4M1758.0,2263.6H1765.4M1767.6,2214.2V2255.6M1763.9,2214.2H1771.3M1763.9,2255.6H1771.3M1773.6,2203.9V2247.5M1769.9,2203.9H1777.3M1769.9,2247.5H1777.3M1779.6,2192.0V2238.1M1775.9,2192.0H1783.3M1775.9,2238.1H1783.3M1785.5,2162.0V2214.6M1781.8,2162.0H1789.2M1781.8,2214.6H1789.2M1791.5,2133.5V2192.1M1787.8,2133.5H1795.2M1787.8,2192.1H1795.2M1797.5,2168.4V2219.6M1793.8,2168.4H1801.2M1793.8,2219.6H1801.2M1803.4,2198.4V2243.1M1799.7,2198.4H1807.1M1799.7,2243.1H1807.1M1809.4,2184.4V2232.2M1805.7,2184.4H1813.1M1805.7,2232.2H1813.1M1815.4,2211.6V2253.6M1811.7,2211.6H1819.1M1811.7,2253.6H1819.1M1821.4,2202.3V2246.2M1817.7,2202.3H1825.1M1817.7,2246.2H1825.1M1827.3,2185.6V2233.1M1823.6,2185.6H1831.0M1823.6,2233.1H1831.0M1833.3,2185.0V2232.6M1829.6,2185.0H1837.0M1829.6,2232.6H1837.0M1839.3,2191.0V2237.3M1835.6,2191.0H1843.0M1835.6,2237.3H1843.0M1845.2,2156.5V2210.2M1841.5,2156.5H1848.9M1841.5,2210.2H1848.9M1851.2,2147.2V2202.9M1847.5,2147.2H1854.9M1847.5,2202.9H1854.9M1857.2,2145.9V2201.9M1853.5,2145.9H1860.9M1853.5,2201.9H1860.9M1863.1,2171.9V2222.4M1859.4,2171.9H1866.8M1859.4,2222.4H1866.8M1869.1,2213.5V2255.0M1865.4,2213.5H1872.8M1865.4,2255.0H1872.8M1875.1,2191.9V2238.0M1871.4,2191.9H1878.8M1871.4,2238.0H1878.8M1881.1,2266.8V2296.9M1877.4,2266.8H1884.8M1877.4,2296.9H1884.8M1887.0,2283.7V2310.2M1883.3,2283.7H1890.7M1883.3,2310.2H1890.7M1893.0,2302.8V2325.2M1889.3,2302.8H1896.7M1889.3,2325.2H1896.7M1899.0,2325.3V2342.8M1895.3,2325.3H1902.7M1895.3,2342.8H1902.7M1904.9,2342.2V2356.1M1901.2,2342.2H1908.6M1901.2,2356.1H1908.6M1910.9,2369.4V2377.5M1907.2,2369.4H1914.6M1907.2,2377.5H1914.6M1916.9,2364.4V2373.6M1913.2,2364.4H1920.6M1913.2,2373.6H1920.6M1922.8,2353.0V2364.6M1919.1,2353.0H1926.5M1919.1,2364.6H1926.5M1928.8,2370.3V2378.2M1925.1,2370.3H1932.5M1925.1,2378.2H1932.5M1934.8,2377.6V2384.0M1931.1,2377.6H1938.5M1931.1,2384.0H1938.5M1940.8,2371.3V2379.0M1937.1,2371.3H1944.5M1937.1,2379.0H1944.5M1946.7,2366.9V2375.5M1943.0,2366.9H1950.4M1943.0,2375.5H1950.4M1952.7,2343.3V2357.0M1949.0,2343.3H1956.4M1949.0,2357.0H1956.4M1958.7,2350.6V2362.8M1955.0,2350.6H1962.4M1955.0,2362.8H1962.4M1964.6,2368.2V2376.6M1960.9,2368.2H1968.3M1960.9,2376.6H1968.3M1970.6,2368.0V2376.4M1966.9,2368.0H1974.3M1966.9,2376.4H1974.3M1976.6,2375.1V2382.0M1972.9,2375.1H1980.3M1972.9,2382.0H1980.3M1982.5,2362.7V2372.3M1978.8,2362.7H1986.2M1978.8,2372.3H1986.2M1988.5,2368.6V2376.9M1984.8,2368.6H1992.2M1984.8,2376.9H1992.2M1994.5,2356.7V2367.5M1990.8,2356.7H1998.2M1990.8,2367.5H1998.2M2000.5,2341.5V2355.6M1996.8,2341.5H2004.2M1996.8,2355.6H2004.2M2006.4,2321.4V2339.8M2002.7,2321.4H2010.1M2002.7,2339.8H2010.1M2012.4,2325.5V2343.0M2008.7,2325.5H2016.1M2008.7,2343.0H2016.1M2018.4,2286.7V2312.6M2014.7,2286.7H2022.1M2014.7,2312.6H2022.1M2024.3,2276.0V2304.2M2020.6,2276.0H2028.0M2020.6,2304.2H2028.0M2030.3,2285.1V2311.3M2026.6,2285.1H2034.0M2026.6,2311.3H2034.0M2036.3,2257.0V2289.2M2032.6,2257.0H2040.0M2032.6,2289.2H2040.0M2042.2,2228.3V2266.7M2038.5,2228.3H2045.9M2038.5,2266.7H2045.9M2048.2,2269.5V2299.0M2044.5,2269.5H2051.9M2044.5,2299.0H2051.9M2054.2,2239.2V2275.2M2050.5,2239.2H2057.9M2050.5,2275.2H2057.9M2060.2,2229.0V2267.2M2056.5,2229.0H2063.9M2056.5,2267.2H2063.9M2066.1,2218.5V2258.9M2062.4,2218.5H2069.8M2062.4,2258.9H2069.8M2072.1,2253.8V2286.7M2068.4,2253.8H2075.8M2068.4,2286.7H2075.8M2078.1,2241.1V2276.7M2074.4,2241.1H2081.8M2074.4,2276.7H2081.8M2084.0,2139.9V2197.2M2080.3,2139.9H2087.7M2080.3,2197.2H2087.7M2090.0,2150.1V2205.2M2086.3,2150.1H2093.7M2086.3,2205.2H2093.7M2096.0,2174.7V2224.5M2092.3,2174.7H2099.7M2092.3,2224.5H2099.7M2101.9,2109.5V2173.3M2098.2,2109.5H2105.6M2098.2,2173.3H2105.6M2107.9,2118.4V2180.3M2104.2,2118.4H2111.6M2104.2,2180.3H2111.6M2113.9,2095.5V2162.3M2110.2,2095.5H2117.6M2110.2,2162.3H2117.6M2119.8,2042.6V2120.7M2116.2,2042.6H2123.5M2116.2,2120.7H2123.5M2125.8,1995.2V2083.5M2122.1,1995.2H2129.5M2122.1,2083.5H2129.5M2131.8,1962.9V2058.1M2128.1,1962.9H2135.5M2128.1,2058.1H2135.5M2137.8,1924.6V2028.0M2134.1,1924.6H2141.5M2134.1,2028.0H2141.5M2143.7,1909.6V2016.3M2140.0,1909.6H2147.4M2140.0,2016.3H2147.4M2149.7,1876.6V1990.3M2146.0,1876.6H2153.4M2146.0,1990.3H2153.4M2155.7,1953.3V2050.5M2152.0,1953.3H2159.4M2152.0,2050.5H2159.4M2161.6,2002.3V2089.1M2157.9,2002.3H2165.3M2157.9,2089.1H2165.3M2167.6,2038.4V2117.4M2163.9,2038.4H2171.3M2163.9,2117.4H2171.3M2173.6,2008.4V2093.9M2169.9,2008.4H2177.3M2169.9,2093.9H2177.3M2179.5,2014.9V2099.0M2175.8,2014.9H2183.2M2175.8,2099.0H2183.2M2185.5,2097.6V2164.0M2181.8,2097.6H2189.2M2181.8,2164.0H2189.2M2191.5,2232.8V2270.2M2187.8,2232.8H2195.2M2187.8,2270.2H2195.2M2197.5,2260.9V2292.3M2193.8,2260.9H2201.2M2193.8,2292.3H2201.2M2203.4,2246.2V2280.7M2199.7,2246.2H2207.1M2199.7,2280.7H2207.1M2209.4,2230.7V2268.5M2205.7,2230.7H2213.1M2205.7,2268.5H2213.1M2215.4,2274.7V2303.1M2211.7,2274.7H2219.1M2211.7,2303.1H2219.1M2221.3,2327.5V2344.6M2217.6,2327.5H2225.0M2217.6,2344.6H2225.0M2227.3,2348.5V2361.1M2223.6,2348.5H2231.0M2223.6,2361.1H2231.0M2233.3,2333.3V2349.1M2229.6,2333.3H2237.0M2229.6,2349.1H2237.0M2239.2,2324.9V2342.6M2235.5,2324.9H2242.9M2235.5,2342.6H2242.9M2245.2,2342.2V2356.2M2241.5,2342.2H2248.9M2241.5,2356.2H2248.9M2251.2,2359.0V2369.4M2247.5,2359.0H2254.9M2247.5,2369.4H2254.9M2257.2,2367.3V2375.8M2253.5,2367.3H2260.9M2253.5,2375.8H2260.9M2263.1,2352.2V2364.0M2259.4,2352.2H2266.8M2259.4,2364.0H2266.8M2269.1,2352.0V2363.9M2265.4,2352.0H2272.8M2265.4,2363.9H2272.8M2275.1,2326.5V2343.8M2271.4,2326.5H2278.8M2271.4,2343.8H2278.8M2281.0,2333.8V2349.5M2277.3,2333.8H2284.7M2277.3,2349.5H2284.7M2287.0,2359.6V2369.8M2283.3,2359.6H2290.7M2283.3,2369.8H2290.7M2293.0,2335.0V2350.5M2289.3,2335.0H2296.7M2289.3,2350.5H2296.7M2298.9,2370.5V2378.4M2295.2,2370.5H2302.6M2295.2,2378.4H2302.6" stroke="#7f8182" stroke-width="1.15" fill="none"/>
<path d="M1493.0,2278.9 C1493.5,2271.2 1494.8,2246.8 1495.7,2232.8 C1496.6,2218.8 1497.5,2202.7 1498.5,2194.8 C1499.5,2186.9 1500.5,2187.3 1501.7,2185.3 C1502.9,2183.3 1504.3,2181.2 1505.8,2182.6 C1507.2,2183.9 1509.1,2198.6 1510.4,2193.4 C1511.8,2188.2 1512.9,2165.0 1513.9,2151.4 C1514.9,2137.8 1515.2,2117.9 1516.6,2112.0 C1518.0,2106.1 1520.3,2116.1 1522.1,2116.1 C1523.9,2116.1 1525.7,2109.7 1527.5,2112.0 C1529.3,2114.3 1531.2,2131.3 1532.9,2129.7 C1534.6,2128.1 1536.1,2109.1 1537.5,2102.5 C1538.9,2095.9 1539.6,2088.9 1541.1,2090.3 C1542.6,2091.7 1544.9,2102.3 1546.5,2110.7 C1548.1,2119.1 1549.1,2131.0 1550.6,2140.5 C1552.1,2150.0 1553.8,2159.0 1555.4,2167.6 C1557.0,2176.2 1558.9,2186.2 1560.1,2192.1 C1561.3,2198.0 1561.9,2214.2 1562.8,2202.9 C1563.7,2191.6 1564.6,2153.1 1565.5,2124.2 C1566.4,2095.3 1566.9,2046.9 1568.2,2029.3 C1569.5,2011.7 1572.0,2022.9 1573.6,2018.4 C1575.2,2013.9 1576.5,2008.4 1577.7,2002.1 C1578.9,1995.8 1579.8,1981.3 1580.9,1980.4 C1582.0,1979.5 1583.2,1986.3 1584.5,1996.7 C1585.8,2007.1 1587.2,2027.0 1588.5,2042.8 C1589.8,2058.6 1591.2,2078.1 1592.6,2091.7 C1594.0,2105.3 1595.3,2114.2 1596.7,2124.2 C1598.1,2134.1 1599.5,2142.3 1600.8,2151.4 C1602.1,2160.5 1603.3,2174.2 1604.8,2178.5 C1606.3,2182.8 1608.1,2173.0 1609.7,2177.1 C1611.3,2181.2 1612.8,2195.0 1614.3,2202.9 C1615.8,2210.8 1617.0,2216.4 1618.4,2224.6 C1619.8,2232.8 1621.2,2241.4 1622.5,2251.8 C1623.8,2262.2 1625.2,2275.7 1626.5,2287.0 C1627.8,2298.3 1629.3,2309.6 1630.6,2319.6 C1631.9,2329.6 1632.5,2341.8 1634.1,2346.8 C1635.7,2351.8 1638.2,2346.8 1640.1,2349.5 C1642.0,2352.2 1643.9,2356.4 1645.5,2363.0 C1647.1,2369.6 1648.2,2384.7 1649.6,2388.8 C1651.0,2392.9 1652.3,2389.5 1653.7,2387.5 C1655.1,2385.5 1656.2,2379.5 1657.7,2376.6 C1659.2,2373.7 1660.6,2369.6 1662.4,2369.8 C1664.2,2370.0 1666.7,2377.6 1668.6,2378.0 C1670.5,2378.4 1672.0,2371.6 1674.0,2372.5 C1676.0,2373.4 1678.5,2382.3 1680.8,2383.4 C1683.1,2384.5 1685.8,2379.5 1687.6,2379.3 C1689.4,2379.1 1690.1,2382.4 1691.7,2382.0 C1693.3,2381.6 1695.3,2376.2 1697.1,2376.6 C1698.9,2377.0 1700.5,2385.5 1702.5,2384.2 C1704.5,2382.8 1707.0,2373.2 1709.3,2368.5 C1711.6,2363.8 1714.1,2357.9 1716.1,2356.3 C1718.1,2354.7 1719.9,2360.6 1721.5,2359.0 C1723.1,2357.4 1724.3,2356.1 1725.6,2346.8 C1726.9,2337.5 1727.8,2315.1 1729.1,2303.3 C1730.3,2291.5 1731.8,2278.0 1733.1,2276.2 C1734.4,2274.4 1735.6,2286.2 1736.8,2292.5 C1738.0,2298.8 1739.2,2308.1 1740.3,2314.2 C1741.4,2320.3 1742.5,2333.6 1743.6,2329.1 C1744.7,2324.6 1745.7,2302.2 1746.8,2287.0 C1747.9,2271.8 1749.1,2246.6 1750.4,2238.2 C1751.7,2229.8 1753.1,2236.4 1754.4,2236.8 C1755.8,2237.2 1757.1,2239.5 1758.5,2240.9 C1759.9,2242.3 1761.0,2246.1 1762.6,2245.0 C1764.2,2243.9 1766.2,2237.3 1768.0,2234.1 C1769.8,2230.9 1771.6,2228.7 1773.4,2226.0 C1775.2,2223.3 1777.0,2222.7 1778.8,2217.9 C1780.6,2213.2 1782.7,2205.9 1784.3,2197.5 C1785.9,2189.1 1787.0,2173.5 1788.3,2167.6 C1789.6,2161.7 1790.5,2159.0 1791.9,2162.2 C1793.3,2165.4 1795.0,2177.3 1796.5,2186.6 C1798.0,2195.9 1799.2,2212.0 1800.6,2217.9 C1801.9,2223.8 1803.2,2224.2 1804.6,2221.9 C1805.9,2219.6 1807.3,2203.4 1808.7,2204.3 C1810.1,2205.2 1811.5,2222.1 1812.8,2227.3 C1814.1,2232.5 1815.2,2236.4 1816.8,2235.5 C1818.4,2234.6 1820.5,2226.4 1822.3,2221.9 C1824.1,2217.4 1825.9,2210.7 1827.7,2208.4 C1829.5,2206.2 1831.3,2206.6 1833.1,2208.4 C1834.9,2210.2 1836.9,2221.9 1838.5,2219.2 C1840.1,2216.5 1841.2,2198.9 1842.6,2192.1 C1844.0,2185.3 1845.1,2181.4 1846.7,2178.5 C1848.3,2175.6 1850.5,2175.5 1852.1,2174.4 C1853.7,2173.3 1854.6,2170.1 1856.2,2171.7 C1857.8,2173.3 1860.0,2176.0 1861.6,2183.9 C1863.2,2191.8 1864.6,2209.9 1865.7,2219.2 C1866.8,2228.5 1867.5,2239.6 1868.4,2239.6 C1869.3,2239.6 1870.2,2226.0 1871.1,2219.2 C1872.0,2212.4 1872.9,2196.6 1873.8,2198.9 C1874.7,2201.2 1875.6,2220.4 1876.5,2232.8 C1877.4,2245.2 1878.2,2263.6 1879.3,2273.5 C1880.4,2283.4 1881.5,2288.0 1883.3,2292.5 C1885.1,2297.0 1888.3,2296.1 1890.1,2300.6 C1891.9,2305.1 1892.8,2314.2 1894.2,2319.6 C1895.6,2325.0 1896.7,2330.0 1898.2,2333.2 C1899.7,2336.4 1901.7,2334.5 1903.1,2338.6 C1904.5,2342.7 1905.0,2351.3 1906.4,2357.6 C1907.9,2363.9 1910.0,2374.8 1911.8,2376.6 C1913.6,2378.4 1915.6,2372.1 1917.2,2368.5 C1918.8,2364.9 1919.7,2354.9 1921.3,2354.9 C1922.9,2354.9 1924.9,2363.8 1926.7,2368.5 C1928.5,2373.2 1930.2,2382.1 1932.2,2383.4 C1934.2,2384.8 1936.8,2378.6 1939.0,2376.6 C1941.2,2374.6 1943.9,2372.1 1945.7,2371.2 C1947.5,2370.3 1948.2,2377.8 1949.8,2371.2 C1951.4,2364.6 1953.8,2335.4 1955.2,2331.8 C1956.6,2328.2 1956.9,2341.3 1957.9,2349.5 C1958.9,2357.7 1959.6,2378.0 1961.2,2380.7 C1962.8,2383.4 1965.6,2366.6 1967.4,2365.7 C1969.2,2364.8 1970.5,2373.1 1972.1,2375.3 C1973.7,2377.5 1975.6,2378.8 1976.9,2378.8 C1978.2,2378.8 1978.8,2377.9 1980.0,2375.1 C1981.2,2372.3 1982.6,2362.0 1984.3,2362.2 C1986.0,2362.4 1988.1,2377.2 1990.0,2376.5 C1991.9,2375.8 1993.9,2362.9 1995.8,2357.9 C1997.7,2352.9 1999.6,2351.4 2001.5,2346.4 C2003.4,2341.4 2005.4,2329.7 2007.3,2327.8 C2009.2,2325.9 2011.3,2338.6 2013.0,2335.0 C2014.7,2331.4 2016.0,2314.8 2017.3,2306.2 C2018.6,2297.6 2019.6,2285.5 2021.0,2283.3 C2022.4,2281.2 2024.2,2290.7 2025.9,2293.3 C2027.6,2295.9 2029.3,2302.9 2031.1,2299.1 C2032.9,2295.3 2034.9,2279.2 2036.8,2270.4 C2038.7,2261.6 2040.6,2242.9 2042.6,2246.0 C2044.6,2249.1 2047.0,2287.1 2048.9,2289.0 C2050.8,2290.9 2052.2,2264.2 2054.0,2257.5 C2055.8,2250.8 2057.9,2252.5 2059.8,2248.9 C2061.7,2245.3 2064.0,2235.4 2065.5,2235.9 C2067.0,2236.4 2067.7,2244.8 2069.0,2251.7 C2070.3,2258.6 2071.9,2275.1 2073.3,2277.5 C2074.7,2279.9 2076.4,2275.1 2077.6,2266.0 C2078.8,2256.9 2079.4,2238.8 2080.4,2223.0 C2081.4,2207.2 2082.3,2181.9 2083.3,2171.4 C2084.3,2160.9 2085.0,2158.5 2086.2,2159.9 C2087.4,2161.3 2089.0,2172.3 2090.5,2180.0 C2092.0,2187.7 2094.0,2208.2 2095.4,2205.8 C2096.8,2203.4 2097.9,2177.6 2099.1,2165.6 C2100.3,2153.6 2101.4,2136.7 2102.8,2134.1 C2104.2,2131.5 2106.1,2149.4 2107.7,2149.9 C2109.3,2150.4 2111.0,2143.9 2112.6,2136.9 C2114.2,2129.9 2115.8,2119.7 2117.2,2108.2 C2118.6,2096.7 2119.8,2079.6 2121.2,2068.1 C2122.6,2056.6 2124.2,2047.5 2125.8,2039.4 C2127.4,2031.3 2128.8,2029.8 2130.6,2019.3 C2132.4,2008.8 2134.5,1983.5 2136.4,1976.3 C2138.3,1969.1 2140.6,1981.1 2142.1,1976.3 C2143.6,1971.5 2144.5,1956.0 2145.6,1947.6 C2146.7,1939.2 2147.7,1926.0 2148.7,1926.0 C2149.7,1926.0 2150.6,1936.3 2151.6,1947.6 C2152.6,1958.8 2153.3,1981.1 2154.5,1993.5 C2155.7,2005.9 2157.1,2011.7 2158.5,2022.2 C2159.9,2032.7 2161.8,2046.1 2163.1,2056.6 C2164.4,2067.1 2165.2,2085.3 2166.5,2085.3 C2167.8,2085.3 2169.0,2063.5 2170.8,2056.6 C2172.6,2049.7 2175.5,2040.8 2177.4,2043.7 C2179.3,2046.6 2181.0,2060.7 2182.3,2073.8 C2183.6,2087.0 2184.2,2102.5 2185.2,2122.6 C2186.1,2142.7 2186.9,2172.8 2188.0,2194.3 C2189.1,2215.8 2190.2,2237.8 2191.5,2251.7 C2192.8,2265.6 2194.2,2273.7 2195.8,2277.5 C2197.4,2281.3 2199.1,2279.5 2200.9,2274.7 C2202.7,2269.9 2204.9,2253.0 2206.7,2248.9 C2208.5,2244.8 2210.4,2242.7 2211.9,2250.3 C2213.4,2258.0 2214.4,2280.7 2215.9,2294.8 C2217.4,2308.9 2219.2,2324.9 2221.0,2334.9 C2222.8,2344.9 2225.2,2351.9 2226.8,2355.0 C2228.4,2358.1 2228.7,2358.8 2230.4,2353.6 C2232.2,2348.4 2235.3,2324.6 2237.3,2323.9 C2239.3,2323.2 2240.7,2345.0 2242.3,2349.2 C2243.9,2353.4 2244.8,2345.0 2246.8,2349.2 C2248.8,2353.4 2252.0,2371.3 2254.2,2374.5 C2256.4,2377.7 2258.4,2372.5 2260.2,2368.5 C2262.0,2364.5 2263.6,2352.2 2265.2,2350.7 C2266.8,2349.2 2268.0,2363.8 2270.0,2359.6 C2272.0,2355.4 2275.0,2327.4 2277.1,2325.4 C2279.2,2323.4 2280.6,2340.3 2282.5,2347.7 C2284.4,2355.1 2286.4,2372.2 2288.4,2370.0 C2290.4,2367.8 2292.9,2336.5 2294.4,2334.3 C2295.9,2332.1 2296.4,2347.3 2297.4,2356.6 C2298.4,2365.9 2299.8,2384.4 2300.3,2390.0" stroke="#F0691F" stroke-width="4.0" fill="none" stroke-linejoin="round" stroke-linecap="round"/>
<path d="M1489.5,2226.0 C1490.8,2226.6 1495.1,2229.1 1497.6,2229.5 C1500.1,2229.9 1501.7,2230.6 1504.4,2228.7 C1507.1,2226.8 1511.2,2221.8 1513.9,2217.9 C1516.6,2214.1 1518.2,2210.3 1520.7,2205.6 C1523.2,2200.8 1526.3,2194.8 1528.8,2189.4 C1531.3,2184.0 1533.1,2179.4 1535.6,2173.1 C1538.1,2166.8 1541.1,2158.6 1543.8,2151.4 C1546.5,2144.2 1549.4,2136.9 1551.9,2129.7 C1554.4,2122.5 1556.7,2114.8 1558.7,2108.0 C1560.7,2101.2 1562.3,2095.8 1564.1,2089.0 C1565.9,2082.2 1567.8,2074.4 1569.6,2067.2 C1571.4,2059.9 1573.2,2053.2 1575.0,2045.5 C1576.8,2037.8 1578.6,2028.8 1580.4,2021.1 C1582.2,2013.4 1584.0,2006.6 1585.8,1999.4 C1587.6,1992.2 1589.5,1984.5 1591.3,1977.7 C1593.1,1970.9 1594.9,1965.0 1596.7,1958.7 C1598.5,1952.4 1600.1,1945.4 1602.1,1939.7 C1604.1,1934.0 1606.6,1928.7 1608.9,1924.8 C1611.2,1920.9 1613.4,1918.6 1615.7,1916.6 C1618.0,1914.6 1620.0,1913.0 1622.5,1912.6 C1625.0,1912.1 1627.7,1913.0 1630.6,1913.9 C1633.5,1914.8 1637.0,1915.8 1640.1,1918.0 C1643.2,1920.2 1646.5,1923.8 1649.4,1927.4 C1652.3,1931.0 1654.7,1934.9 1657.5,1939.5 C1660.3,1944.1 1663.7,1950.0 1666.1,1954.8 C1668.5,1959.5 1670.2,1963.2 1672.0,1968.0 C1673.8,1972.8 1674.7,1975.8 1677.2,1983.4 C1679.7,1991.0 1683.8,2003.4 1686.9,2013.4 C1690.1,2023.4 1693.0,2033.6 1696.1,2043.4 C1699.1,2053.2 1702.0,2062.3 1705.2,2072.1 C1708.4,2081.9 1711.5,2092.2 1715.0,2102.1 C1718.5,2112.0 1723.0,2124.0 1726.0,2131.4 C1729.0,2138.8 1730.9,2141.9 1733.1,2146.5 C1735.3,2151.1 1736.7,2154.3 1739.0,2159.0 C1741.3,2163.7 1744.7,2170.0 1747.2,2174.7 C1749.8,2179.4 1751.2,2183.0 1754.3,2187.2 C1757.4,2191.4 1762.2,2196.8 1766.0,2199.7 C1769.8,2202.6 1774.7,2203.6 1777.0,2204.4 C1779.3,2205.2 1778.3,2205.3 1780.0,2204.4 C1781.7,2203.5 1784.5,2201.4 1787.0,2198.9 C1789.5,2196.4 1792.4,2193.7 1795.1,2189.4 C1797.8,2185.1 1800.8,2178.5 1803.3,2173.1 C1805.8,2167.7 1807.8,2162.2 1810.1,2156.8 C1812.3,2151.4 1814.5,2146.8 1816.8,2140.5 C1819.0,2134.2 1821.3,2126.0 1823.6,2118.8 C1825.9,2111.6 1828.1,2104.3 1830.4,2097.1 C1832.7,2089.9 1834.9,2083.6 1837.2,2075.4 C1839.5,2067.2 1842.0,2056.3 1844.0,2048.2 C1846.0,2040.0 1847.6,2034.2 1849.4,2026.5 C1851.2,2018.8 1853.0,2010.2 1854.8,2002.1 C1856.6,1994.0 1858.5,1986.8 1860.3,1977.7 C1862.1,1968.7 1863.8,1956.3 1865.7,1947.8 C1867.6,1939.3 1870.0,1932.4 1871.6,1926.5 C1873.2,1920.6 1874.2,1917.4 1875.5,1912.4 C1876.8,1907.4 1878.1,1901.7 1879.4,1896.7 C1880.7,1891.7 1881.9,1887.8 1883.3,1882.6 C1884.7,1877.4 1886.4,1870.4 1888.0,1865.4 C1889.6,1860.5 1890.8,1857.7 1892.7,1852.9 C1894.7,1848.1 1897.1,1840.9 1899.7,1836.4 C1902.3,1831.9 1905.8,1828.2 1908.4,1826.0 C1911.0,1823.8 1912.9,1823.0 1915.4,1823.1 C1917.9,1823.1 1920.3,1824.2 1923.2,1826.3 C1926.1,1828.4 1929.2,1831.8 1932.6,1835.7 C1936.0,1839.6 1940.3,1845.4 1943.6,1849.7 C1946.9,1854.0 1949.3,1857.0 1952.2,1861.5 C1955.1,1866.0 1958.6,1871.8 1960.8,1876.4 C1963.0,1881.0 1963.8,1884.1 1965.5,1888.9 C1967.2,1893.7 1969.6,1900.2 1971.0,1905.3 C1972.4,1910.4 1972.8,1914.3 1974.1,1919.4 C1975.4,1924.5 1977.5,1930.7 1978.8,1935.8 C1980.1,1940.9 1980.7,1944.8 1981.9,1949.9 C1983.1,1955.0 1984.8,1961.3 1985.8,1966.4 C1986.8,1971.5 1987.2,1975.4 1988.2,1980.5 C1989.2,1985.6 1990.9,1991.8 1992.1,1996.9 C1993.3,2002.0 1994.2,2005.9 1995.2,2011.0 C1996.2,2016.1 1997.2,2022.5 1998.4,2027.4 C1999.6,2032.4 2000.6,2033.9 2002.3,2040.7 C2004.0,2047.5 2006.4,2059.2 2008.7,2068.1 C2011.0,2077.0 2013.3,2084.8 2015.9,2093.9 C2018.5,2103.0 2021.6,2113.0 2024.5,2122.6 C2027.4,2132.2 2030.2,2141.7 2033.1,2151.3 C2036.0,2160.9 2038.8,2172.3 2041.7,2180.0 C2044.6,2187.7 2047.4,2192.4 2050.3,2197.2 C2053.2,2202.0 2056.0,2205.8 2058.9,2208.7 C2061.8,2211.6 2063.9,2213.7 2067.5,2214.4 C2071.1,2215.1 2076.8,2214.7 2080.4,2213.0 C2084.0,2211.3 2086.1,2208.0 2089.0,2204.4 C2091.9,2200.8 2094.7,2197.0 2097.6,2191.5 C2100.5,2186.0 2103.7,2177.6 2106.3,2171.4 C2108.9,2165.2 2111.0,2161.4 2113.4,2154.2 C2115.8,2147.0 2118.2,2136.9 2120.6,2128.3 C2123.0,2119.7 2125.4,2111.1 2127.8,2102.5 C2130.2,2093.9 2132.8,2084.8 2135.0,2076.7 C2137.2,2068.6 2138.8,2060.9 2140.7,2053.7 C2142.6,2046.5 2144.5,2041.2 2146.4,2033.6 C2148.3,2025.9 2150.3,2015.4 2152.2,2007.8 C2154.1,2000.2 2155.8,1994.9 2157.9,1987.7 C2160.1,1980.5 2162.7,1972.5 2165.1,1964.8 C2167.5,1957.1 2169.9,1949.4 2172.3,1941.8 C2174.7,1934.2 2177.0,1926.6 2179.4,1918.9 C2181.8,1911.2 2184.0,1903.1 2186.6,1895.9 C2189.2,1888.7 2192.3,1882.0 2195.2,1875.8 C2198.1,1869.6 2200.9,1862.9 2203.8,1858.6 C2206.7,1854.3 2209.2,1852.0 2212.4,1850.0 C2215.6,1848.0 2220.0,1845.0 2223.0,1846.4 C2226.0,1847.8 2228.2,1853.6 2230.4,1858.3 C2232.6,1863.0 2234.7,1869.4 2236.4,1874.6 C2238.1,1879.8 2239.3,1884.3 2240.8,1889.5 C2242.3,1894.7 2244.1,1900.9 2245.3,1905.9 C2246.6,1910.9 2247.0,1914.3 2248.3,1919.3 C2249.6,1924.2 2251.8,1930.6 2253.3,1935.6 C2254.8,1940.5 2255.6,1943.8 2257.2,1949.0 C2258.8,1954.2 2261.4,1961.9 2263.1,1966.9 C2264.8,1971.9 2266.1,1973.8 2267.6,1978.8 C2269.1,1983.8 2270.6,1991.1 2272.1,1996.6 C2273.6,2002.0 2275.3,2006.5 2276.5,2011.5 C2277.7,2016.5 2278.2,2019.0 2279.5,2026.4 C2280.8,2033.8 2282.8,2048.7 2284.0,2056.1 C2285.2,2063.5 2286.1,2066.0 2286.9,2071.0 C2287.7,2076.0 2288.3,2080.9 2289.0,2085.9 C2289.7,2090.9 2290.2,2095.4 2290.8,2100.8 C2291.5,2106.2 2292.3,2113.2 2292.9,2118.6 C2293.5,2124.0 2293.8,2128.3 2294.4,2133.5 C2295.0,2138.7 2295.9,2144.9 2296.5,2149.8 C2297.1,2154.8 2297.5,2158.0 2298.0,2163.2 C2298.5,2168.4 2299.2,2175.9 2299.7,2181.1 C2300.2,2186.3 2300.7,2192.3 2300.9,2194.5" stroke="#4368B6" stroke-width="4.2" fill="none" stroke-dasharray="12.5,19.3" stroke-linecap="round"/>
</g>
<text x="1383.5" y="2398.3" text-anchor="end" font-size="25.8">0</text>
<text x="1383.5" y="2293.7" text-anchor="end" font-size="25.8">2000</text>
<text x="1383.5" y="2189.1" text-anchor="end" font-size="25.8">4000</text>
<text x="1383.5" y="2084.5" text-anchor="end" font-size="25.8">6000</text>
<text x="1383.5" y="1979.9" text-anchor="end" font-size="25.8">8000</text>
<text x="1383.5" y="1875.3" text-anchor="end" font-size="25.8">10000</text>
<text x="1383.5" y="1770.7" text-anchor="end" font-size="25.8">12000</text>
<text x="2409.1" y="2398.3" font-size="25.8">0</text>
<text x="2409.1" y="2293.7" font-size="25.8">0.2</text>
<text x="2409.1" y="2189.1" font-size="25.8">0.4</text>
<text x="2409.1" y="2084.5" font-size="25.8">0.6</text>
<text x="2409.1" y="1979.9" font-size="25.8">0.8</text>
<text x="2409.1" y="1875.3" font-size="25.8">1</text>
<text x="2409.1" y="1770.7" font-size="25.8">1.2</text>
<text x="1406.2" y="2429.6" text-anchor="middle" font-size="25.8">2/6/2020 6:00</text>
<text x="1686.4" y="2429.6" text-anchor="middle" font-size="25.8">2/6/2020 18:00</text>
<text x="1966.6" y="2429.6" text-anchor="middle" font-size="25.8">2/7/2020 6:00</text>
<text x="2246.8" y="2429.6" text-anchor="middle" font-size="25.8">2/7/2020 18:00</text>
<text x="1896.5" y="2464.9" text-anchor="middle" font-size="26" font-weight="bold">Date (dd/mm/yy hh:mm)</text>
<text x="1890.5" y="1730.4" text-anchor="middle" font-size="33.5">F) Ofu, Fattuana Point, 40 m distance to shoreline</text>
<text x="1890.5" y="1777.2" text-anchor="middle" font-size="33.5">(Mean SGD advection rate 0.04 - 0.07 m/d)</text>
<text transform="translate(1274.1,2103.6) rotate(-90)" x="0" y="0" text-anchor="middle" dominant-baseline="central" font-size="26" font-weight="bold">222Rn ex</text>
<text transform="translate(2476.4,2134.0) rotate(-90)" x="0" y="0" text-anchor="middle" dominant-baseline="central" font-size="26" font-weight="bold">Water Level ( Tide + Waves)</text>
</g>
</svg></body></html>
